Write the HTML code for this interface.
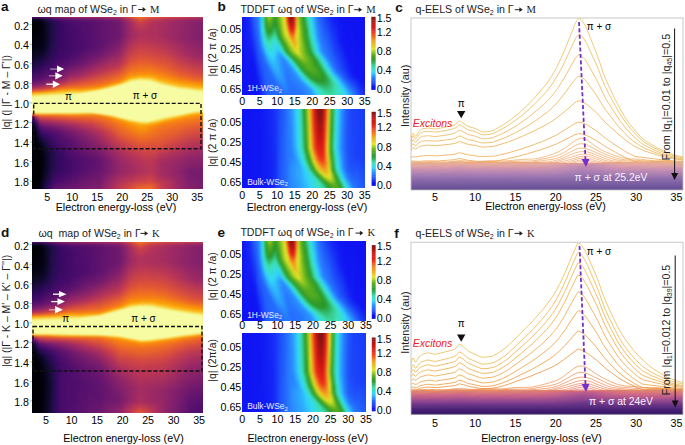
<!DOCTYPE html>
<html><head><meta charset="utf-8"><style>
html,body{margin:0;padding:0;background:#fff;width:685px;height:445px;overflow:hidden}
#w{position:relative;width:685px;height:445px;overflow:hidden;background:#fff}
.hm{position:absolute;overflow:hidden}
.hm>div{position:absolute}
.hm i{position:absolute;top:0;bottom:0;width:2.5px}
svg{position:absolute;left:0;top:0;display:block;font-family:"Liberation Sans",sans-serif}
</style></head><body><div id="w"><div class="hm" style="left:32px;top:17px;width:171px;height:172px"><div style="left:-3px;top:-3px;width:177px;height:178px;filter:blur(0.8px)"><i style="left:0px;background:linear-gradient(#6a176e 0.1%,#6a176e 1.5%,#59106e 1.8%,#3d0965 2.1%,#260c51 2.4%,#160b39 2.7%,#08051d 3.2%,#02020c 4.1%,#000004 6.3%,#02020c 18.4%,#0b0724 25.4%,#2f0a5b 32.7%,#59106e 37.8%,#82206c 40.3%,#bf3952 42.3%,#e65d2f 43.4%,#fa9207 44.2%,#fca108 44.5%,#f8cd37 45.4%,#f2e762 45.9%,#f1f27f 46.2%,#f7fca1 46.8%,#f7fca3 55.5%,#f1ec70 55.8%,#fcb418 56%,#f68013 56.3%,#e45a31 56.6%,#cb4149 56.9%,#9f2a63 57.4%,#71196e 58.3%,#450a69 59.4%,#2b0b57 60.3%,#150b37 61.1%,#0a0722 61.9%,#02020e 63.9%,#010005 65.9%,#000004 99.9%)"></i><i style="left:2px;background:linear-gradient(#6a176e 0.1%,#6a176e 1.5%,#59106e 1.8%,#3d0965 2.1%,#260c51 2.4%,#160b39 2.7%,#08051d 3.2%,#02020c 4.1%,#000004 6.3%,#02020c 18.4%,#0b0724 25.4%,#2f0a5b 32.7%,#59106e 37.8%,#82206c 40.3%,#bf3952 42.3%,#e65d2f 43.4%,#fa9207 44.2%,#fca108 44.5%,#f8cd37 45.4%,#f2e762 45.9%,#f1f27f 46.2%,#f7fca1 46.8%,#f7fca3 55.5%,#f1ec70 55.8%,#fcb418 56%,#f68013 56.3%,#e45a31 56.6%,#cb4149 56.9%,#9f2a63 57.4%,#71196e 58.3%,#450a69 59.4%,#2b0b57 60.3%,#150b37 61.1%,#0a0722 61.9%,#02020e 63.9%,#010005 65.9%,#000004 99.9%)"></i><i style="left:4px;background:linear-gradient(#6a176e 0.1%,#6a176e 1.5%,#59106e 1.8%,#3d0965 2.1%,#260c51 2.4%,#160b39 2.7%,#08051d 3.2%,#02020c 4.1%,#010005 5.5%,#02020e 16.4%,#0d0829 24.6%,#320a5e 32.2%,#59106e 37.5%,#7a1d6d 39.7%,#b93556 42%,#d74b3f 42.8%,#e9612b 43.4%,#fb9706 44.2%,#fbb61a 44.8%,#f4df53 45.6%,#f1ec70 45.9%,#f5f999 46.5%,#f7fca3 46.8%,#f7fca3 55.5%,#f1ed71 55.8%,#fbb81d 56%,#f8870e 56.3%,#e9612b 56.6%,#d24644 56.9%,#a82e5f 57.4%,#7a1d6d 58.3%,#470b6a 59.7%,#360961 60.3%,#1c0c43 61.1%,#0e092b 61.9%,#030210 64.7%,#010108 66.7%,#010106 99.9%)"></i><i style="left:6px;background:linear-gradient(#6a176e 0.1%,#6a176e 1.5%,#5a116e 1.8%,#3d0965 2.1%,#260c51 2.4%,#09061f 3.2%,#02010a 4.4%,#010005 6%,#040314 17.6%,#110a30 24.3%,#340a5f 31.3%,#57106e 36.9%,#7a1d6d 39.5%,#9b2964 40.9%,#bf3952 42%,#e45a31 43.1%,#f98c0a 44%,#fc9f07 44.2%,#f9cb35 45.1%,#f3e55d 45.6%,#f1f07a 45.9%,#f3f78f 46.2%,#f7fca3 46.8%,#f7fca3 55.5%,#f1f07a 55.8%,#fac026 56%,#fa9207 56.3%,#ef6e21 56.6%,#e05536 56.9%,#bf3952 57.4%,#88226a 58.6%,#490b6a 60.5%,#210c4a 62.2%,#110a30 64.2%,#08051d 66.7%,#010108 72.3%,#000004 92.3%,#02020c 99.9%)"></i><i style="left:8px;background:linear-gradient(#6c186e 0.1%,#6c186e 1.5%,#5a116e 1.8%,#3e0966 2.1%,#280b53 2.4%,#180c3c 2.7%,#0a0722 3.2%,#02020e 4.1%,#010106 5.5%,#030210 16.2%,#0a0722 21.8%,#1c0c43 27.4%,#340a5f 31.3%,#59106e 36.9%,#7d1e6d 39.5%,#b73557 41.7%,#dd513a 42.8%,#ee6a24 43.4%,#f98e09 44%,#fca108 44.2%,#f8cd37 45.1%,#f1f27f 45.9%,#f3f892 46.2%,#f7fca3 46.8%,#f7fca3 55.5%,#f1f27e 55.8%,#fac62d 56%,#fb9d07 56.3%,#eb6429 56.9%,#c83f4b 57.7%,#8d2369 59.4%,#4d0d6c 61.9%,#2d0b59 64.2%,#1e0c45 66.2%,#040314 72.1%,#010106 75.7%,#000004 90.9%,#02020e 99.9%)"></i><i style="left:10px;background:linear-gradient(#6c186e 0.1%,#6c186e 1.5%,#5c126e 1.8%,#3e0966 2.1%,#190c3e 2.7%,#0a0722 3.2%,#030210 4.1%,#010108 5.5%,#030210 17%,#0a0722 22.1%,#1c0c43 27.4%,#320a5e 31%,#550f6d 36.4%,#85216b 39.7%,#ba3655 41.7%,#e75e2e 43.1%,#fa9207 44%,#fca50a 44.2%,#fcb418 44.5%,#f4df53 45.4%,#f1f383 45.9%,#f7fba1 46.5%,#f7fca3 55.5%,#f1f383 55.8%,#f9cb35 56%,#fca60c 56.3%,#f98b0b 56.6%,#ec6726 57.2%,#dd513a 57.7%,#c63d4d 58.6%,#8c2369 60.8%,#540f6d 63.6%,#320a5e 66.7%,#110a30 70.6%,#040314 73.7%,#010005 77.1%,#000004 90%,#030210 95.6%,#030210 99.9%)"></i><i style="left:12px;background:linear-gradient(#6f196e 0.1%,#6f196e 1.5%,#5f136e 1.8%,#2d0b59 2.4%,#140b34 2.9%,#07051b 3.8%,#02020e 5.2%,#040314 17.8%,#0b0724 21.8%,#2f0a5b 29.9%,#59106e 36.4%,#85216b 39.5%,#bf3952 41.7%,#e25734 42.8%,#fb9706 44%,#fbb81d 44.5%,#f4e156 45.4%,#f1ed71 45.6%,#f4f999 46.2%,#f7fca3 46.5%,#f7fca3 55.5%,#f1f27f 55.8%,#f9c932 56%,#fca50a 56.3%,#f8890c 56.6%,#ec6726 57.2%,#ca404a 58.6%,#902568 60.8%,#5a116e 63.6%,#320a5e 67.6%,#150b37 71.2%,#040314 76%,#02020c 78.8%,#02020e 89.2%,#0b0724 96.8%,#0b0724 99.9%)"></i><i style="left:14px;background:linear-gradient(#751b6e 0.1%,#751b6e 1.5%,#65156e 1.8%,#4a0c6b 2.1%,#240c4f 2.7%,#0e092b 3.5%,#060419 5.2%,#050417 6.3%,#08051d 18.1%,#110a30 22.3%,#310a5c 29.1%,#5f136e 36.4%,#8d2369 39.5%,#bc3754 41.4%,#d54a41 42.3%,#e75e2e 42.8%,#f98b0b 43.7%,#fb9d07 44%,#f6d746 45.1%,#f3e55d 45.4%,#f2f68b 45.9%,#f7fca3 46.5%,#f7fca3 55.5%,#f1f27f 55.8%,#f9c72f 56%,#fca309 56.3%,#f8850f 56.6%,#ec6726 57.2%,#ce4347 58.6%,#9b2964 60.5%,#61136e 63.6%,#390963 67.6%,#1e0c45 71.2%,#0a0722 76%,#050417 79.9%,#07051b 88.6%,#180c3c 97.9%,#180c3c 99.9%)"></i><i style="left:16px;background:linear-gradient(#7c1d6d 0.1%,#7c1d6d 1.5%,#6c186e 1.8%,#510e6c 2.1%,#2d0b59 2.7%,#150b37 3.5%,#0b0724 5.2%,#0a0722 6.3%,#0c0826 17.6%,#140b34 21.5%,#340a5f 28.8%,#64156e 36.4%,#932667 39.5%,#c83f4b 41.7%,#e35933 42.6%,#fa9207 43.7%,#fca309 44%,#fac228 44.5%,#f5db4c 45.1%,#f1f27e 45.6%,#f6fb9e 46.2%,#f7fca3 46.5%,#f7fca3 55.5%,#f1f27e 55.8%,#fac62d 56%,#fca108 56.3%,#f78410 56.6%,#f2741c 56.9%,#dd513a 58%,#a62d60 60.3%,#6d186e 63.1%,#3b0964 67.8%,#1c0c43 72.9%,#0d0829 77.4%,#0a0722 80.2%,#0c0826 87.8%,#120a32 92%,#240c4f 97.6%,#240c4f 99.9%)"></i><i style="left:18px;background:linear-gradient(#801f6c 0.1%,#801f6c 1.5%,#440a68 2.4%,#290b55 2.9%,#1c0c43 3.5%,#110a30 5.5%,#120a32 17.3%,#190c3e 21.2%,#380962 28.8%,#5f136e 35.5%,#721a6e 37.2%,#932667 39.2%,#c63d4d 41.4%,#e75e2e 42.6%,#fb9706 43.7%,#fca80d 44%,#fac62d 44.5%,#f2eb6b 45.4%,#f4f996 45.9%,#f7fca1 46.2%,#f7fca3 55.5%,#f1f27e 55.8%,#fac62d 56%,#fc9f07 56.3%,#f78410 56.6%,#ec6726 57.2%,#d34743 58.6%,#a22b62 60.5%,#71196e 63.1%,#440a68 67.3%,#260c51 72.3%,#120a32 77.9%,#120a32 87.8%,#1c0c43 92.8%,#320a5e 97.9%,#320a5e 99.9%)"></i><i style="left:20px;background:linear-gradient(#87216b 0.1%,#87216b 1.5%,#5d126e 2.1%,#320a5e 2.9%,#1e0c45 4.1%,#180c3c 5.5%,#190c3e 16.7%,#230c4c 22.3%,#420a68 30.5%,#65156e 35.8%,#7a1d6d 37.5%,#9d2964 39.5%,#cb4149 41.4%,#e25734 42.3%,#fb9b06 43.7%,#fbbc21 44.2%,#f3e35a 45.1%,#f2f487 45.6%,#f7fca3 46.2%,#f7fca3 55.5%,#f1f07b 55.8%,#fac42a 56%,#fb9d07 56.3%,#f78212 56.6%,#f1731d 56.9%,#e8602d 57.4%,#cf4446 58.8%,#9f2a63 60.8%,#741a6e 63.1%,#550f6d 65.6%,#400a67 68.4%,#180c3c 78.5%,#180c3c 86.7%,#280b53 93.4%,#3e0966 97.6%,#3e0966 99.9%)"></i><i style="left:22px;background:linear-gradient(#8c2369 0.1%,#8c2369 1.5%,#520e6d 2.4%,#320a5e 3.2%,#260c51 4.1%,#1f0c48 5.5%,#210c4a 16.4%,#280b53 21.5%,#420a68 29.9%,#69166e 35.8%,#972766 38.9%,#c83f4b 41.2%,#ec6726 42.6%,#fa9008 43.4%,#fca108 43.7%,#fac228 44.2%,#f3e55d 45.1%,#f1f07a 45.4%,#f3f78f 45.6%,#f7fca3 46.2%,#f7fca3 55.5%,#f1f07a 55.8%,#fac42a 56%,#fb9b06 56.3%,#f68013 56.6%,#ed6925 57.2%,#d04545 58.8%,#a62d60 60.5%,#771c6d 63.1%,#540f6d 66.2%,#440a68 68.7%,#320a5e 73.5%,#1f0c48 78.2%,#210c4a 87.8%,#360961 94.2%,#4c0c6b 97.6%,#4c0c6b 99.9%)"></i><i style="left:24px;background:linear-gradient(#902568 0.1%,#902568 1.5%,#57106e 2.4%,#380962 3.2%,#2b0b57 4.1%,#240c4f 5.8%,#280b53 18.4%,#360961 25.1%,#4f0d6c 31.6%,#71196e 36.1%,#982766 38.6%,#c83f4b 40.9%,#e45a31 42%,#fb9706 43.4%,#fca60c 43.7%,#f4dd4f 44.8%,#f3f78f 45.6%,#f7fca3 46.2%,#f7fca3 55.5%,#f1f07a 55.8%,#fac228 56%,#fb9b06 56.3%,#f68013 56.6%,#f1711f 56.9%,#cc4248 59.1%,#9d2964 61.1%,#751b6e 63.3%,#4d0d6c 67.6%,#390963 73.7%,#260c51 79.4%,#290b55 87.8%,#400a67 94.2%,#59106e 97.9%,#59106e 99.9%)"></i><i style="left:26px;background:linear-gradient(#932667 0.1%,#932667 1.5%,#5c126e 2.4%,#380962 3.5%,#290b55 6%,#2d0b59 18.1%,#380962 24%,#4c0c6b 29.9%,#6d186e 35.3%,#9f2a63 38.6%,#cf4446 40.9%,#e9612b 42%,#fa9207 43.1%,#fc9f07 43.4%,#fbba1f 44%,#f4dd4f 44.8%,#f2e967 45.1%,#f3f892 45.6%,#f7fca3 46.2%,#f7fca3 55.5%,#f1f07a 55.8%,#fac228 56%,#fb9b06 56.3%,#f68013 56.6%,#ea632a 57.4%,#d54a41 58.8%,#b3325a 60.3%,#7d1e6d 63.1%,#65156e 65%,#4d0d6c 68.4%,#2d0b59 78.5%,#2f0a5b 87.5%,#450a69 94%,#5f136e 97.9%,#5f136e 99.9%)"></i><i style="left:28px;background:linear-gradient(#972766 0.1%,#972766 1.5%,#5f136e 2.4%,#3d0965 3.5%,#2f0a5b 6.3%,#3b0964 23.5%,#510e6c 29.9%,#751b6e 35.5%,#9a2865 38.1%,#ca404a 40.3%,#e8602d 41.7%,#fb9906 43.1%,#fca50a 43.4%,#f9c932 44.2%,#f4df53 44.8%,#f1f383 45.4%,#f7fba1 45.9%,#f7fca3 55.5%,#f1f07a 55.8%,#fac42a 56%,#fb9d07 56.3%,#f78212 56.6%,#eb6429 57.4%,#dd513a 58.6%,#bc3754 60%,#85216b 62.8%,#67166e 65.3%,#540f6d 67.8%,#310a5c 79.4%,#340a5f 88.3%,#450a69 93.4%,#61136e 97.9%,#61136e 99.9%)"></i><i style="left:30px;background:linear-gradient(#9a2865 0.1%,#9a2865 1.5%,#8d2369 1.8%,#64156e 2.4%,#470b6a 3.2%,#360961 5.2%,#380962 17%,#450a69 26%,#550f6d 29.9%,#7a1d6d 35.5%,#a02a63 38.1%,#ca404a 40%,#e75e2e 41.4%,#fa9407 42.8%,#fc9f07 43.1%,#f9cb35 44.2%,#f4e156 44.8%,#f1f383 45.4%,#f7fca3 45.9%,#f7fca3 55.5%,#f1f07b 55.8%,#fac62d 56%,#fc9f07 56.3%,#f78410 56.6%,#f3761b 56.9%,#d24644 59.1%,#ad305d 60.8%,#801f6c 63.3%,#65156e 65.9%,#540f6d 68.7%,#360961 78.5%,#340a5f 86.9%,#490b6a 93.7%,#62146e 97.9%,#62146e 99.9%)"></i><i style="left:32px;background:linear-gradient(#9d2964 0.1%,#9d2964 1.5%,#67166e 2.4%,#520e6d 2.9%,#420a68 3.8%,#380962 6.6%,#3b0964 19.2%,#470b6a 26%,#7c1d6d 35%,#9d2964 37.5%,#cf4446 40%,#ea632a 41.4%,#fb9706 42.8%,#fcae12 43.4%,#f8cf3a 44.2%,#f3e55d 44.8%,#f2f68b 45.4%,#f7fca3 45.9%,#f7fca3 55.5%,#f1f27e 55.8%,#fac62d 56%,#fca108 56.3%,#f8850f 56.6%,#f06f20 57.2%,#ce4347 59.4%,#b0315b 60.8%,#88226a 63.1%,#6c186e 65.6%,#5a116e 68.1%,#390963 79.1%,#390963 88.1%,#4d0d6c 94.2%,#64156e 97.9%,#64156e 99.9%)"></i><i style="left:34px;background:linear-gradient(#a02a63 0.1%,#a02a63 1.5%,#6a176e 2.4%,#4a0c6b 3.5%,#3b0964 6.3%,#3d0965 19.5%,#450a69 24.6%,#57106e 29.1%,#85216b 35.3%,#a92e5e 37.8%,#d44842 40%,#f06f20 41.7%,#fb9b06 42.8%,#fcb216 43.4%,#f7d340 44.2%,#f4dd4f 44.5%,#f1f27f 45.1%,#f7fca1 45.6%,#f7fca3 55.5%,#f1f27f 55.8%,#f9c72f 56%,#fca309 56.3%,#f8890c 56.6%,#f57b17 56.9%,#eb6429 57.7%,#c43c4e 60%,#902568 62.8%,#6d186e 65.9%,#59106e 69.2%,#3e0966 78.2%,#3b0964 87.2%,#4d0d6c 93.7%,#65156e 97.9%,#65156e 99.9%)"></i><i style="left:36px;background:linear-gradient(#a32c61 0.1%,#a32c61 1.5%,#6f196e 2.4%,#59106e 2.9%,#470b6a 4.1%,#400a67 5.2%,#3d0965 15.6%,#470b6a 24.6%,#5a116e 29.1%,#7a1d6d 33.3%,#9a2865 36.4%,#b1325a 37.8%,#ca404a 39.2%,#e65d2f 40.9%,#fa9407 42.6%,#fcaa0f 43.1%,#fac228 43.7%,#f4e156 44.5%,#f2f487 45.1%,#f7fca3 45.6%,#f7fca3 55.5%,#f1f27f 55.8%,#f9c72f 56%,#fca50a 56.3%,#f98b0b 56.6%,#f1731d 57.2%,#dd513a 58.8%,#bc3754 60.5%,#902568 63.1%,#6f196e 66.2%,#59106e 70.1%,#3d0965 83%,#440a68 89.7%,#67166e 97.9%,#67166e 99.9%)"></i><i style="left:38px;background:linear-gradient(#a62d60 0.1%,#a62d60 1.5%,#721a6e 2.4%,#5c126e 2.9%,#4a0c6b 4.1%,#440a68 5.2%,#400a67 19.5%,#490b6a 24.6%,#540f6d 27.7%,#721a6e 31.6%,#902568 35%,#b3325a 37.5%,#e55c30 40.6%,#f37819 41.7%,#fb9706 42.6%,#fca309 42.8%,#f8cf3a 44%,#f3e55d 44.5%,#f2f68b 45.1%,#f7fca3 45.6%,#f7fca3 55.5%,#f1f27f 55.8%,#f9c932 56%,#fca60c 56.3%,#f98c0a 56.6%,#f67e14 56.9%,#d94d3d 59.1%,#b43359 61.1%,#932667 63.1%,#71196e 66.4%,#5c126e 70.1%,#420a68 81.6%,#440a68 88.6%,#550f6d 94.5%,#67166e 97.6%,#67166e 99.9%)"></i><i style="left:40px;background:linear-gradient(#a82e5f 0.1%,#a82e5f 1.5%,#751b6e 2.4%,#5f136e 2.9%,#4d0d6c 4.1%,#470b6a 5.2%,#420a68 19.8%,#4a0c6b 24.6%,#69166e 29.9%,#8c2369 33.8%,#b63458 37.2%,#e45a31 40.3%,#f1731d 41.4%,#fb9b06 42.6%,#fbbe23 43.4%,#f7d340 44%,#f1f27f 44.8%,#f7fba1 45.4%,#f7fca3 55.5%,#f1f383 55.8%,#f9cb35 56%,#fca80d 56.3%,#f98e09 56.6%,#f1711f 57.4%,#d24644 59.7%,#b3325a 61.4%,#932667 63.3%,#71196e 67%,#5a116e 71.2%,#440a68 82.7%,#490b6a 89.5%,#69166e 97.6%,#69166e 99.9%)"></i><i style="left:42px;background:linear-gradient(#a92e5e 0.1%,#a92e5e 1.5%,#751b6e 2.4%,#61136e 2.9%,#4f0d6c 4.1%,#490b6a 5.2%,#450a69 20.9%,#5c126e 27.9%,#87216b 33%,#b0315b 36.7%,#ca404a 38.3%,#e9612b 40.6%,#f2741c 41.4%,#fb9b06 42.6%,#f9c72f 43.7%,#f4dd4f 44.2%,#f1f383 44.8%,#f7fca3 45.4%,#f7fca3 55.5%,#f1f383 55.8%,#f9cb35 56%,#fcaa0f 56.3%,#fa9008 56.6%,#ef6c23 57.7%,#ce4347 60%,#932667 63.6%,#781c6d 66.4%,#5d126e 71.2%,#450a69 84.1%,#4d0d6c 90.3%,#6a176e 97.6%,#6a176e 99.9%)"></i><i style="left:44px;background:linear-gradient(#a92e5e 0.1%,#a92e5e 1.5%,#6a176e 2.7%,#520e6d 3.8%,#4c0c6b 4.6%,#450a69 8.8%,#470b6a 20.6%,#5d126e 27.7%,#8f2469 33.6%,#b3325a 36.7%,#e35933 40%,#f3761b 41.4%,#fb9b06 42.6%,#fcb014 43.1%,#fac62d 43.7%,#f4dd4f 44.2%,#f5fa9c 45.1%,#f7fca3 45.4%,#f7fca3 55.5%,#f1f27e 55.8%,#f9c72f 56%,#fca60c 56.3%,#f98e09 56.6%,#ef6c23 57.7%,#d44842 59.7%,#9b2964 63.3%,#7a1d6d 66.7%,#61136e 71.5%,#490b6a 83%,#4d0d6c 89.5%,#6c186e 97.6%,#6c186e 99.9%)"></i><i style="left:46px;background:linear-gradient(#ab2f5e 0.1%,#ab2f5e 1.5%,#781c6d 2.4%,#5c126e 3.2%,#4c0c6b 4.9%,#490b6a 20.6%,#57106e 25.7%,#67166e 28.5%,#922568 33.6%,#b63458 36.7%,#ed6925 40.9%,#fb9b06 42.6%,#fbba1f 43.4%,#f7d13d 44%,#f4dd4f 44.2%,#f2f68b 44.8%,#f7fba1 45.1%,#f7fca3 55.5%,#f1f07a 55.8%,#fac228 56%,#fca309 56.3%,#f98c0a 56.6%,#f47918 57.2%,#df5337 59.1%,#c83f4b 60.5%,#a62d60 62.8%,#801f6c 66.4%,#6d186e 69.5%,#4c0c6b 82.2%,#4c0c6b 87.5%,#5a116e 93.4%,#6d186e 97.6%,#6d186e 99.9%)"></i><i style="left:48px;background:linear-gradient(#ab2f5e 0.1%,#ab2f5e 1.5%,#781c6d 2.4%,#64156e 2.9%,#4d0d6c 4.9%,#4a0c6b 20.4%,#6a176e 28.5%,#922568 33.3%,#b1325a 36.1%,#e9612b 40.3%,#f67e14 41.7%,#fb9906 42.6%,#fcae12 43.1%,#fac42a 43.7%,#f4df53 44.2%,#f3f892 44.8%,#f7fca3 45.1%,#f7fca3 55.5%,#f1ee75 55.8%,#fbbe23 56%,#fc9f07 56.3%,#f68013 56.9%,#db503b 59.4%,#a62d60 63.1%,#82206c 66.7%,#6d186e 70.4%,#4d0d6c 82.4%,#510e6c 88.9%,#71196e 97.9%,#71196e 99.9%)"></i><i style="left:50px;background:linear-gradient(#ad305d 0.1%,#ad305d 1.5%,#7a1d6d 2.4%,#65156e 2.9%,#4f0d6c 4.9%,#4a0c6b 19.2%,#540f6d 23.2%,#6d186e 28.5%,#8d2369 32.4%,#b43359 36.1%,#dd513a 38.9%,#eb6628 40.6%,#fb9906 42.6%,#fcac11 43.1%,#fac42a 43.7%,#f4e156 44.2%,#f4f999 44.8%,#f7fca3 45.1%,#f7fca3 55.5%,#f1ed70 55.8%,#fbb81d 56%,#fb9d07 56.3%,#f68013 56.9%,#dd513a 59.4%,#c83f4b 60.8%,#a62d60 63.3%,#8a226a 66.2%,#751b6e 69.5%,#4f0d6c 82.4%,#520e6d 88.6%,#71196e 97.3%,#721a6e 99.9%)"></i><i style="left:52px;background:linear-gradient(#ad305d 0.1%,#ad305d 1.5%,#7a1d6d 2.4%,#67166e 2.9%,#550f6d 4.1%,#4f0d6c 5.2%,#4c0c6b 19%,#6c186e 27.7%,#8f2469 32.2%,#ae305c 35.3%,#dd513a 38.6%,#eb6429 40.3%,#fb9b06 42.6%,#fbbc21 43.4%,#f5db4c 44%,#f3f892 44.5%,#f7fca3 44.8%,#f7fca3 55.5%,#f2eb6b 55.8%,#fcb418 56%,#fb9906 56.3%,#f67e14 56.9%,#de5238 59.4%,#b1325a 62.8%,#902568 65.9%,#7f1e6c 68.4%,#520e6d 81.6%,#520e6d 87.2%,#741a6e 97.9%,#741a6e 99.9%)"></i><i style="left:54px;background:linear-gradient(#ae305c 0.1%,#ae305c 1.5%,#7c1d6d 2.4%,#67166e 2.9%,#540f6d 4.4%,#4d0d6c 18.7%,#5a116e 23.2%,#751b6e 28.5%,#b3325a 35.3%,#d74b3f 37.8%,#ea632a 40%,#f3761b 41.2%,#fb9606 42.3%,#fca80d 42.8%,#fac42a 43.4%,#f3e55d 44%,#f2f68b 44.2%,#f7fca3 44.5%,#f7fca3 55.5%,#f2e966 55.8%,#fcae12 56%,#fb9606 56.3%,#f37819 57.2%,#df5337 59.4%,#b1325a 63.1%,#8d2369 66.7%,#7d1e6d 69.5%,#540f6d 81.9%,#550f6d 87.8%,#751b6e 97.6%,#751b6e 99.9%)"></i><i style="left:56px;background:linear-gradient(#ae305c 0.1%,#ae305c 1.5%,#71196e 2.7%,#5d126e 3.5%,#540f6d 4.6%,#4f0d6c 18.4%,#741a6e 27.7%,#9a2865 32.4%,#b73557 35.3%,#dd513a 38.1%,#ed6925 40.3%,#fb9906 42.3%,#fcae12 42.8%,#f9cb35 43.4%,#f4dd4f 43.7%,#f7fba1 44.2%,#f7fca3 55.5%,#f2e661 55.8%,#fcaa0f 56%,#fa9207 56.3%,#f57d15 56.9%,#dd513a 59.7%,#b0315b 63.6%,#84206b 69%,#550f6d 81.9%,#57106e 87.5%,#771c6d 97.6%,#771c6d 99.9%)"></i><i style="left:58px;background:linear-gradient(#b0315b 0.1%,#b0315b 1.5%,#7d1e6d 2.4%,#6a176e 2.9%,#540f6d 4.9%,#520e6d 19%,#62146e 23.7%,#7a1d6d 27.9%,#9b2964 32.2%,#bc3754 35.3%,#d94d3d 37.5%,#ec6726 40%,#f57d15 41.2%,#fb9d07 42.3%,#fcb418 42.8%,#fac42a 43.1%,#f6d543 43.4%,#f2e966 43.7%,#f4f999 44%,#f7fca3 44.2%,#f7fca3 55.5%,#f3e55d 55.8%,#fca50a 56%,#fa9008 56.3%,#f57d15 56.9%,#e45a31 59.1%,#ce4347 61.1%,#b0315b 63.9%,#952667 66.7%,#85216b 69.5%,#57106e 82.2%,#5a116e 88.1%,#781c6d 97.6%,#781c6d 99.9%)"></i><i style="left:60px;background:linear-gradient(#b0315b 0.1%,#b0315b 1.5%,#7f1e6c 2.4%,#6a176e 2.9%,#5c126e 3.8%,#550f6d 4.9%,#540f6d 18.4%,#6c186e 25.1%,#922568 30.5%,#bd3853 35%,#db503b 37.5%,#eb6628 39.7%,#f47918 40.9%,#fb9706 42%,#fcae12 42.6%,#f9cb35 43.1%,#f4df53 43.4%,#f3f78f 43.7%,#f7fca3 44%,#f7fca3 55.5%,#f3e35a 55.8%,#fca108 56%,#f78212 56.6%,#f37819 57.2%,#d94d3d 60.3%,#b63458 63.6%,#8c2369 69%,#59106e 82.2%,#5c126e 87.8%,#7a1d6d 97.3%,#7a1d6d 99.9%)"></i><i style="left:62px;background:linear-gradient(#b0315b 0.1%,#b0315b 1.5%,#7f1e6c 2.4%,#6c186e 2.9%,#5d126e 3.8%,#57106e 4.9%,#57106e 19%,#71196e 25.4%,#982766 30.8%,#bf3952 34.7%,#eb6429 39.5%,#f57d15 40.9%,#fb9b06 42%,#fcb418 42.6%,#f6d543 43.1%,#f1f07a 43.4%,#f7fca3 43.7%,#f7fca3 55.5%,#f4e156 55.8%,#fb9b06 56%,#f68013 56.6%,#e35933 59.4%,#ca404a 61.9%,#b1325a 64.5%,#932667 68.1%,#5a116e 82.4%,#5f136e 88.3%,#7c1d6d 97.3%,#7c1d6d 99.9%)"></i><i style="left:64px;background:linear-gradient(#b1325a 0.1%,#b1325a 1.5%,#751b6e 2.7%,#62146e 3.5%,#5a116e 4.4%,#59106e 18.7%,#721a6e 25.1%,#982766 30.2%,#bc3754 34.1%,#e8602d 38.9%,#f47918 40.6%,#fb9606 41.7%,#fcac11 42.3%,#f9cb35 42.8%,#f2e762 43.1%,#f7fca3 43.4%,#f7fca3 55.8%,#fbb81d 56%,#f98b0b 56.3%,#f57d15 56.9%,#de5238 60.3%,#bc3754 63.9%,#972766 68.4%,#5d126e 81.9%,#61136e 88.1%,#7d1e6d 97.3%,#7d1e6d 99.9%)"></i><i style="left:66px;background:linear-gradient(#b1325a 0.1%,#b1325a 1.5%,#82206c 2.4%,#6d186e 2.9%,#5a116e 4.6%,#5c126e 19.2%,#741a6e 24.9%,#9f2a63 30.5%,#c03a51 34.1%,#ed6925 39.5%,#f57d15 40.6%,#fb9b06 41.7%,#fca50a 42%,#fac42a 42.6%,#f4dd4f 42.8%,#f7fba1 43.1%,#f7fca3 55.8%,#f3e35a 56%,#fb9606 56.3%,#f78410 56.6%,#f57d15 56.9%,#de5238 60.5%,#b93556 64.7%,#9a2865 68.7%,#61136e 81.3%,#62146e 87.8%,#7f1e6c 97.3%,#7f1e6c 99.9%)"></i><i style="left:68px;background:linear-gradient(#b3325a 0.1%,#b3325a 1.5%,#82206c 2.4%,#6f196e 2.9%,#5c126e 4.6%,#5c126e 17.8%,#6f196e 23.7%,#b93556 33%,#eb6429 38.9%,#f47918 40.3%,#fb9606 41.4%,#fc9f07 41.7%,#fbbc21 42.3%,#f6d543 42.6%,#f4f999 42.8%,#f7fca3 43.1%,#f7fca3 56%,#fbb61a 56.3%,#f78410 56.6%,#ef6c23 58.8%,#da4e3c 61.4%,#b63458 65.6%,#9d2964 69%,#61136e 82.4%,#67166e 89.5%,#82206c 99.9%)"></i><i style="left:70px;background:linear-gradient(#b43359 0.1%,#b43359 1.5%,#84206b 2.4%,#71196e 2.9%,#5d126e 4.6%,#5f136e 18.4%,#721a6e 23.7%,#a32c61 29.9%,#bd3853 33%,#e8602d 38.3%,#f57d15 40.3%,#fb9906 41.4%,#fcb418 42%,#f9cb35 42.3%,#f3f78f 42.6%,#f7fca3 42.8%,#f7fca3 56%,#f3e55d 56.3%,#fa9008 56.6%,#f57d15 56.9%,#f2741c 58.3%,#e15635 60.8%,#b63458 66.2%,#9d2964 70.1%,#64156e 81.9%,#67166e 88.3%,#84206b 99.9%)"></i><i style="left:72px;background:linear-gradient(#b43359 0.1%,#b43359 1.5%,#7a1d6d 2.7%,#6c186e 3.2%,#61136e 4.4%,#61136e 17.6%,#771c6d 23.7%,#bc3754 32.4%,#ee6a24 38.9%,#f57d15 40%,#fb9906 41.2%,#fbb61a 41.7%,#f9cb35 42%,#f1f383 42.3%,#f7fca3 42.6%,#f7fca3 56.3%,#fbbe23 56.6%,#f8870e 56.9%,#e25734 61.1%,#b73557 66.7%,#84206b 76.3%,#69166e 82.2%,#6d186e 89.2%,#8a226a 97.9%,#8a226a 99.9%)"></i><i style="left:74px;background:linear-gradient(#b63458 0.1%,#b63458 1.5%,#87216b 2.4%,#741a6e 2.9%,#61136e 4.9%,#64156e 17.8%,#7c1d6d 23.7%,#a92e5e 29.9%,#c43c4e 33%,#f06f20 38.9%,#f78212 40%,#fb9906 40.9%,#fca60c 41.2%,#f9c932 41.7%,#f1f07a 42%,#f7fca3 42.3%,#f7fca3 56.3%,#f1f07a 56.6%,#fca309 56.9%,#f98b0b 57.2%,#f67e14 57.7%,#e55c30 61.1%,#b3325a 68.1%,#7c1d6d 78.5%,#6c186e 83.8%,#721a6e 89.2%,#902568 97.9%,#902568 99.9%)"></i><i style="left:76px;background:linear-gradient(#b73557 0.1%,#b73557 1.5%,#88226a 2.4%,#771c6d 2.9%,#64156e 4.6%,#64156e 16.2%,#7f1e6c 23.5%,#a52c60 28.8%,#c33b4f 32.4%,#f06f20 38.6%,#f78212 39.7%,#fb9906 40.6%,#fca60c 40.9%,#f9c932 41.4%,#f1ed71 41.7%,#f7fca3 42%,#f7fca3 56.6%,#f8cd37 56.9%,#fb9706 57.2%,#f78410 57.7%,#e8602d 61.1%,#c63d4d 66.4%,#a22b62 72.6%,#721a6e 82.7%,#771c6d 89.2%,#922568 96.5%,#972766 99.9%)"></i><i style="left:78px;background:linear-gradient(#b93556 0.1%,#b93556 1.5%,#8c2369 2.4%,#781c6d 2.9%,#65156e 4.6%,#65156e 15.6%,#751b6e 20.9%,#9b2964 26.8%,#bf3952 31.6%,#ec6726 37.5%,#f57d15 39.2%,#fb9906 40.3%,#fca60c 40.6%,#f9cb35 41.2%,#f2eb6b 41.4%,#f7fca3 41.7%,#f7fca3 56.6%,#f2f68b 56.9%,#fcb418 57.2%,#fb9906 57.4%,#f68013 58.3%,#e9612b 61.4%,#c73e4c 67%,#a82e5f 72.3%,#781c6d 82.2%,#7a1d6d 88.6%,#9a2865 96.8%,#9d2964 99.9%)"></i><i style="left:80px;background:linear-gradient(#ba3655 0.1%,#ba3655 1.5%,#82206c 2.7%,#741a6e 3.2%,#69166e 4.4%,#67166e 15%,#7d1e6d 21.8%,#bd3853 31%,#ee6a24 37.5%,#f78212 39.2%,#fb9906 40%,#fca60c 40.3%,#f9cb35 40.9%,#f2e762 41.2%,#f7fca3 41.4%,#f7fca3 56.9%,#f5db4c 57.2%,#fcaa0f 57.4%,#fb9906 57.7%,#f8850f 58.3%,#ef6e21 60.5%,#cc4248 67%,#a22b62 74.6%,#7d1e6d 82.4%,#7f1e6c 88.6%,#a02a63 96.8%,#a32c61 99.9%)"></i><i style="left:82px;background:linear-gradient(#bc3754 0.1%,#bc3754 1.5%,#84206b 2.7%,#6f196e 3.8%,#67166e 5.8%,#69166e 14.5%,#7f1e6c 21.2%,#bf3952 30.8%,#ed6925 36.9%,#f47918 38.3%,#fb9b06 39.7%,#fca80d 40%,#f8cd37 40.6%,#f2e967 40.9%,#f7fca3 41.2%,#f7fca3 57.2%,#f5d949 57.4%,#fcae12 57.7%,#fb9b06 58%,#f8870e 58.6%,#ee6a24 61.4%,#cf4446 67.6%,#a32c61 75.1%,#82206c 82.7%,#84206b 88.9%,#a62d60 96.8%,#a92e5e 99.9%)"></i><i style="left:84px;background:linear-gradient(#bd3853 0.1%,#bd3853 1.5%,#85216b 2.7%,#71196e 3.8%,#69166e 6.3%,#6a176e 13.9%,#801f6c 20.6%,#a62d60 27.1%,#c03a51 30.5%,#df5337 34.1%,#f3761b 37.8%,#f8890c 38.9%,#fb9b06 39.5%,#fca80d 39.7%,#f8cf3a 40.3%,#f2e967 40.6%,#f7fca3 40.9%,#f7fca3 57.4%,#f6d746 57.7%,#fcb418 58%,#fc9f07 58.3%,#f8890c 58.8%,#f47918 60.3%,#d24644 68.1%,#a62d60 75.7%,#87216b 83.3%,#87216b 88.3%,#ae305c 97.1%,#b0315b 99.9%)"></i><i style="left:86px;background:linear-gradient(#bf3952 0.1%,#bf3952 1.5%,#87216b 2.7%,#721a6e 3.8%,#6c186e 5.2%,#6c186e 13.6%,#82206c 20.1%,#a92e5e 27.1%,#c13a50 30.2%,#f1711f 36.9%,#f78410 38.3%,#fb9b06 39.2%,#fbbc21 39.7%,#f7d13d 40%,#f2eb6c 40.3%,#f7fca3 40.6%,#f7fca3 57.4%,#f6fb9e 57.7%,#f6d746 58%,#fbb81d 58.3%,#fca309 58.6%,#fa9207 58.8%,#f78410 59.7%,#ef6e21 62.2%,#ca404a 70.4%,#9b2964 78.5%,#8c2369 83.6%,#8c2369 88.6%,#b43359 97.1%,#b63458 99.9%)"></i><i style="left:88px;background:linear-gradient(#c03a51 0.1%,#c03a51 1.5%,#88226a 2.7%,#721a6e 4.1%,#6d186e 13.1%,#84206b 19.5%,#a62d60 26%,#c03a51 29.6%,#de5238 33.3%,#f1731d 36.7%,#f68013 37.8%,#fb9b06 38.9%,#fbbe23 39.5%,#f7d340 39.7%,#f1ed70 40%,#f7fca3 40.3%,#f7fca3 57.7%,#f4f996 58%,#f5d949 58.3%,#fbbc21 58.6%,#fca50a 58.8%,#fa9407 59.1%,#f78212 60.3%,#f1731d 62.2%,#e05536 67.6%,#c73e4c 71.8%,#a32c61 77.9%,#902568 83.8%,#902568 88.9%,#bc3754 97.6%,#bc3754 99.9%)"></i><i style="left:90px;background:linear-gradient(#c13a50 0.1%,#c13a50 1.5%,#8c2369 2.7%,#771c6d 3.8%,#6f196e 5.8%,#6f196e 12.8%,#9b2964 23.2%,#c13a50 29.4%,#e55c30 33.8%,#f3761b 36.7%,#f98b0b 38.1%,#fb9d07 38.6%,#fcac11 38.9%,#f6d543 39.5%,#f1ee75 39.7%,#f7fba1 40%,#f7fca3 40.3%,#f7fca3 58%,#f3f892 58.3%,#f4dd4f 58.6%,#fbbe23 58.8%,#fca60c 59.1%,#fb9606 59.4%,#f57d15 61.4%,#e25734 68.1%,#cb4149 72.1%,#a32c61 79.1%,#952667 84.4%,#952667 89.2%,#c33b4f 97.9%,#c33b4f 99.9%)"></i><i style="left:92px;background:linear-gradient(#c83f4b 0.1%,#c83f4b 1.5%,#952667 2.7%,#7f1e6c 4.1%,#781c6d 12.8%,#a62d60 23.5%,#c83f4b 29.1%,#f47918 36.1%,#fb9d07 38.1%,#fca80d 38.3%,#f9cb35 38.9%,#f4e156 39.2%,#f2f488 39.5%,#f7fca3 39.7%,#f7fca3 58.3%,#f2f68b 58.6%,#f5d949 58.8%,#fbbe23 59.1%,#fca60c 59.4%,#fb9906 59.7%,#f78410 61.1%,#f3761b 63.1%,#e25734 68.7%,#cb4149 72.6%,#a32c61 79.9%,#972766 85.3%,#9a2865 89.7%,#c73e4c 97.9%,#c73e4c 99.9%)"></i><i style="left:94px;background:linear-gradient(#cf4446 0.1%,#cf4446 1.5%,#a82e5f 2.4%,#8c2369 3.8%,#82206c 6%,#801f6c 11.9%,#932667 17.8%,#c63d4d 27.4%,#ee6a24 33.8%,#f98b0b 36.7%,#fb9706 37.2%,#fca80d 37.8%,#fac62d 38.3%,#f6d746 38.6%,#f5f999 39.2%,#f7fca3 39.5%,#f7fca3 58.6%,#f1f383 58.8%,#f6d746 59.1%,#fbbe23 59.4%,#fca80d 59.7%,#fb9b06 60%,#f68013 62.2%,#e35933 69%,#d24644 72.1%,#ad305d 78.5%,#9a2865 84.7%,#9b2964 89.5%,#cc4248 98.2%,#cc4248 99.9%)"></i><i style="left:96px;background:linear-gradient(#d54a41 0.1%,#d54a41 1.5%,#a92e5e 2.7%,#952667 3.8%,#8c2369 6%,#8a226a 12.5%,#a92e5e 20.4%,#d04545 27.7%,#ef6e21 33.3%,#fb9906 36.7%,#fcaa0f 37.2%,#fac228 37.8%,#f3e35a 38.3%,#f1f383 38.6%,#f7fba1 38.9%,#f7fca3 39.2%,#f7fca3 58.8%,#f1f27e 59.1%,#f6d746 59.4%,#fbbe23 59.7%,#fcaa0f 60%,#fb9706 60.5%,#f57d15 63.3%,#e45a31 69.2%,#cb4149 73.7%,#a62d60 80.8%,#9b2964 85.5%,#a02a63 90%,#c73e4c 96.2%,#d04545 99.9%)"></i><i style="left:98px;background:linear-gradient(#db503b 0.1%,#db503b 1.5%,#b1325a 2.7%,#9f2a63 3.8%,#952667 5.8%,#922568 11.1%,#982766 14.5%,#cf4446 26%,#eb6429 31.3%,#f67e14 34.1%,#fb9b06 36.1%,#fcac11 36.7%,#f8cd37 37.5%,#f4dd4f 37.8%,#f3f892 38.3%,#f7fca3 38.6%,#f7fca3 59.1%,#f1ee76 59.4%,#f6d543 59.7%,#fbbe23 60%,#fcac11 60.3%,#fb9b06 60.8%,#f47918 64.5%,#d24644 73.2%,#ae305c 79.6%,#9f2a63 85%,#a22b62 89.7%,#cf4446 96.8%,#d44842 99.9%)"></i><i style="left:100px;background:linear-gradient(#e15635 0.1%,#e15635 1.5%,#ba3655 2.7%,#a52c60 4.1%,#9d2964 6.3%,#9b2964 12.5%,#bf3952 20.9%,#da4e3c 26.5%,#f06f20 31.6%,#fb9906 35.3%,#fca50a 35.8%,#fac228 36.7%,#f5d949 37.2%,#f5fa9c 38.1%,#f7fca3 38.3%,#f7fca3 59.1%,#f7fba1 59.4%,#f1ed71 59.7%,#f6d543 60%,#fbbe23 60.3%,#fca50a 60.8%,#fb9906 61.4%,#f37819 65.3%,#e65d2f 69.8%,#cb4149 74.9%,#ad305d 80.8%,#a02a63 85.8%,#a32c61 89.5%,#b43359 92.8%,#d34743 96.8%,#d84c3e 99.9%)"></i><i style="left:102px;background:linear-gradient(#e75e2e 0.1%,#e75e2e 1.5%,#cc4248 2.4%,#b0315b 4.1%,#a32c61 7.4%,#a02a63 12.8%,#bc3754 19.5%,#de5238 26.8%,#f3761b 32.2%,#fb9d07 35.3%,#fcaa0f 35.8%,#f9c932 36.7%,#f4e156 37.2%,#f3f893 37.8%,#f7fca3 38.1%,#f7fca3 59.4%,#f3f893 59.7%,#f3e55d 60%,#f8cd37 60.3%,#fbbc21 60.5%,#fcac11 60.8%,#fb9b06 61.7%,#f47918 65.6%,#e8602d 69.8%,#cc4248 75.1%,#b0315b 80.8%,#a22b62 86.7%,#a82e5f 90%,#bd3853 93.7%,#d94d3d 97.1%,#dd513a 99.9%)"></i><i style="left:104px;background:linear-gradient(#ec6726 0.1%,#ec6726 1.5%,#cf4446 2.7%,#b73557 4.4%,#a82e5f 8.3%,#a32c61 12.2%,#d74b3f 24.9%,#f1711f 31.3%,#fb9906 35%,#fcb014 35.8%,#fac62d 36.4%,#f4dd4f 36.9%,#f2f68b 37.5%,#f7fba1 37.8%,#f7fca3 38.1%,#f7fca3 59.7%,#f1f383 60%,#f4dd4f 60.3%,#fbb81d 60.8%,#fca60c 61.4%,#fb9d07 61.9%,#f57b17 65.9%,#e25734 71.5%,#c63d4d 76.8%,#b1325a 81%,#a52c60 86.1%,#a62d60 88.9%,#c03a51 93.7%,#df5337 97.3%,#e05536 99.9%)"></i><i style="left:106px;background:linear-gradient(#f1711f 0.1%,#f1711f 1.5%,#de5238 2.4%,#d24644 2.9%,#c03a51 4.4%,#a92e5e 10%,#a92e5e 13.3%,#da4e3c 25.1%,#f2741c 31.6%,#f78410 33.3%,#fb9d07 35%,#fcac11 35.5%,#f9cb35 36.4%,#f3e55d 36.9%,#f4f999 37.5%,#f7fca3 37.8%,#f7fca3 59.7%,#f5fa9c 60%,#f5d949 60.5%,#fac62d 60.8%,#fbb81d 61.1%,#fca80d 61.7%,#fb9b06 62.5%,#f3761b 67.3%,#de5238 72.9%,#b43359 81%,#a82e5f 88.6%,#c33b4f 93.7%,#e35933 97.3%,#e45a31 99.9%)"></i><i style="left:108px;background:linear-gradient(#f57b17 0.1%,#f57b17 1.5%,#df5337 2.7%,#c43c4e 4.9%,#ab2f5e 11.4%,#b93556 16.2%,#df5337 25.7%,#f3761b 31.6%,#fb9b06 34.7%,#fcaa0f 35.3%,#f9c72f 36.1%,#f4e156 36.7%,#f3f892 37.2%,#f7fca3 37.5%,#f7fca3 60%,#f3f78f 60.3%,#f2e661 60.5%,#f7d340 60.8%,#fac42a 61.1%,#fcaa0f 61.9%,#fb9b06 63.1%,#f3761b 67.6%,#e05536 72.9%,#ca404a 77.1%,#b3325a 82.2%,#ab2f5e 88.9%,#c63d4d 93.7%,#e8602d 97.6%,#e8602d 99.9%)"></i><i style="left:110px;background:linear-gradient(#f8850f 0.1%,#f8850f 1.5%,#e15635 2.9%,#ce4347 4.6%,#b43359 9.1%,#b0315b 12.5%,#cb4149 20.1%,#e35933 26.3%,#f37819 31.6%,#fc9f07 34.7%,#fac42a 35.8%,#f4dd4f 36.4%,#f6fb9e 37.2%,#f7fca3 37.5%,#f7fca3 60.3%,#f1f383 60.5%,#f4e156 60.8%,#fac228 61.4%,#fcac11 62.2%,#fb9d07 63.3%,#fa9207 64.7%,#e15635 73.2%,#cc4248 77.1%,#b63458 82.2%,#ab2f5e 86.9%,#ae305c 89.2%,#cc4248 94.2%,#eb6429 97.6%,#eb6628 99.9%)"></i><i style="left:112px;background:linear-gradient(#f67e14 0.1%,#f67e14 1.5%,#dd513a 2.9%,#c63d4d 5.2%,#b0315b 10.5%,#b73557 15%,#d44842 22.6%,#e75e2e 27.4%,#f57d15 32.2%,#fb9906 34.4%,#fca60c 35%,#fac228 35.8%,#f5d949 36.4%,#f4f999 37.2%,#f7fca3 37.5%,#f7fca3 60.3%,#f2f68b 60.5%,#f2e661 60.8%,#f6d543 61.1%,#fac62d 61.4%,#fcaa0f 62.2%,#fb9b06 63.3%,#e35933 72.6%,#cc4248 77.4%,#b63458 82.7%,#ae305c 88.6%,#ce4347 94.2%,#ec6726 97.9%,#ec6726 99.9%)"></i><i style="left:114px;background:linear-gradient(#f47918 0.1%,#f47918 1.5%,#de5238 2.7%,#c73e4c 4.4%,#ae305c 10.8%,#b63458 14.7%,#d24644 22.1%,#e75e2e 27.4%,#f57d15 32.2%,#fb9906 34.4%,#fcae12 35.3%,#f9cb35 36.1%,#f3e35a 36.7%,#f3f892 37.2%,#f7fca3 37.5%,#f7fca3 60.3%,#f4f996 60.5%,#f5d949 61.1%,#fbbc21 61.7%,#fcaa0f 62.2%,#fb9d07 63.1%,#f1731d 68.7%,#da4e3c 74.6%,#b73557 83%,#b3325a 89.5%,#cf4446 94.2%,#ed6925 97.9%,#ee6a24 99.9%)"></i><i style="left:116px;background:linear-gradient(#f1731d 0.1%,#f1731d 1.5%,#d94d3d 2.7%,#c33b4f 4.4%,#b0315b 9.4%,#b0315b 13.3%,#e15635 26%,#f57b17 31.9%,#fb9906 34.4%,#fcae12 35.3%,#f9c932 36.1%,#f4e156 36.7%,#f7fca1 37.5%,#f7fca3 37.8%,#f7fca3 60.3%,#f5fa9c 60.5%,#f4df53 61.1%,#fac026 61.7%,#fcaa0f 62.2%,#fb9b06 63.1%,#f2741c 68.4%,#da4e3c 74.6%,#b73557 83.8%,#b3325a 88.6%,#bf3952 91.4%,#d74b3f 95.1%,#ef6c23 98.2%,#ef6c23 99.9%)"></i><i style="left:118px;background:linear-gradient(#ef6c23 0.1%,#ef6c23 1.5%,#d44842 2.7%,#c03a51 4.1%,#ae305c 9.4%,#b1325a 13.9%,#ce4347 21.2%,#e55c30 27.1%,#f68013 32.4%,#fb9906 34.4%,#fcac11 35.3%,#f9c72f 36.1%,#f4dd4f 36.7%,#f5fa9c 37.5%,#f7fca3 37.8%,#f7fca3 60.3%,#f3f892 60.5%,#f5d949 61.1%,#f9c932 61.4%,#fca60c 62.2%,#fb9b06 62.8%,#f98e09 63.9%,#e35933 72.3%,#cb4149 77.7%,#ba3655 83.3%,#b43359 88.1%,#c33b4f 91.7%,#d74b3f 94.8%,#ef6c23 97.9%,#ef6e21 99.9%)"></i><i style="left:120px;background:linear-gradient(#ec6726 0.1%,#ec6726 1.5%,#d54a41 2.4%,#c83f4b 2.9%,#b63458 4.9%,#ad305d 9.4%,#b0315b 13.6%,#d24644 22.3%,#e55c30 27.1%,#f68013 32.4%,#fb9906 34.4%,#fcac11 35.3%,#f9c72f 36.1%,#f5db4c 36.7%,#f4f996 37.5%,#f7fca3 37.8%,#f7fca3 60%,#f3f893 60.3%,#f1ed70 60.5%,#f5db4c 60.8%,#fbbc21 61.4%,#fca50a 61.9%,#fb9906 62.5%,#f8850f 64.5%,#ed6925 69.5%,#d74b3f 74.9%,#bc3754 83.3%,#b73557 88.3%,#c13a50 90.9%,#da4e3c 94.8%,#f06f20 97.9%,#f06f20 99.9%)"></i><i style="left:122px;background:linear-gradient(#ea632a 0.1%,#ea632a 1.5%,#ca404a 2.7%,#b3325a 4.6%,#ab2f5e 9.1%,#ae305c 13.6%,#df5337 26%,#f37819 31.6%,#fb9906 34.7%,#fcac11 35.5%,#fac62d 36.4%,#f5d949 36.9%,#f7fba1 38.1%,#f7fca3 38.3%,#f7fca3 59.7%,#f4f996 60%,#f4dd4f 60.5%,#fac026 61.1%,#fca60c 61.7%,#fb9906 62.2%,#f8870e 63.6%,#e25734 72.1%,#bc3754 81.9%,#b43359 88.3%,#cf4446 94%,#e9612b 97.3%,#ea632a 99.9%)"></i><i style="left:124px;background:linear-gradient(#e8602d 0.1%,#e8602d 1.5%,#cf4446 2.4%,#c33b4f 2.9%,#b0315b 5.2%,#b0315b 14.5%,#cf4446 22.3%,#e45a31 27.7%,#f68013 33%,#fb9d07 35.3%,#fcb216 36.1%,#f9cb35 36.9%,#f4df53 37.5%,#f5fa9c 38.3%,#f7fca3 38.6%,#f7fca3 59.4%,#f4f996 59.7%,#f4df53 60.3%,#fac228 60.8%,#fca80d 61.4%,#fb9906 61.9%,#f8850f 63.3%,#e45a31 71.5%,#b73557 82.2%,#b1325a 88.6%,#c43c4e 93.1%,#e15635 96.8%,#e35933 99.9%)"></i><i style="left:126px;background:linear-gradient(#e65d2f 0.1%,#e65d2f 1.5%,#ce4347 2.4%,#c13a50 2.9%,#ae305c 5.2%,#ad305d 14.2%,#ce4347 22.3%,#e65d2f 28.5%,#f57b17 32.7%,#fb9d07 35.5%,#fbb61a 36.7%,#f9c72f 37.2%,#f5db4c 37.8%,#f4f996 38.6%,#f7fca3 38.9%,#f7fca3 59.1%,#f4f996 59.4%,#f4e156 60%,#fac42a 60.5%,#fcaa0f 61.1%,#fb9906 61.7%,#f8850f 62.8%,#f47918 64.5%,#dd513a 73.7%,#b1325a 82.7%,#ad305d 88.3%,#bf3952 93.1%,#db503b 96.8%,#db503b 99.9%)"></i><i style="left:128px;background:linear-gradient(#e55c30 0.1%,#e55c30 1.5%,#c43c4e 2.7%,#ae305c 4.6%,#a82e5f 8.3%,#ae305c 15%,#d44842 24.3%,#e75e2e 29.1%,#f57b17 33%,#fb9b06 35.8%,#fca60c 36.4%,#fac42a 37.5%,#f4e156 38.3%,#f3f78f 38.9%,#f7fba1 39.2%,#f7fca3 39.5%,#f7fca3 58.8%,#f5f999 59.1%,#f4e156 59.7%,#fac62d 60.3%,#fcae12 60.8%,#fb9b06 61.4%,#f68013 62.8%,#f3761b 64.5%,#de5238 73.5%,#c63d4d 77.7%,#ad305d 82.7%,#ad305d 90.3%,#b93556 93.1%,#d34743 96.5%,#d34743 99.9%)"></i><i style="left:130px;background:linear-gradient(#e35933 0.1%,#e35933 1.5%,#c13a50 2.7%,#b1325a 3.8%,#ab2f5e 4.9%,#a62d60 12.2%,#c03a51 19.5%,#df5337 27.4%,#f1731d 32.4%,#fb9b06 36.1%,#fcb216 37.2%,#f9c932 38.1%,#f4dd4f 38.6%,#f5fa9c 39.5%,#f7fca3 39.7%,#f7fca3 58.6%,#f4f999 58.8%,#f1f27e 59.1%,#f3e35a 59.4%,#f9c72f 60%,#fcb014 60.5%,#fb9b06 61.1%,#f67e14 62.5%,#f1711f 64.7%,#dd513a 73.7%,#c03a51 78.2%,#a92e5e 82.4%,#a32c61 84.4%,#a82e5f 90.9%,#ca404a 96.2%,#ca404a 99.9%)"></i><i style="left:132px;background:linear-gradient(#e15635 0.1%,#e15635 1.5%,#bf3952 2.7%,#ab2f5e 4.4%,#a52c60 11.9%,#bf3952 19.5%,#df5337 27.7%,#f1731d 32.7%,#fb9d07 36.4%,#fcb216 37.5%,#f7d13d 38.6%,#f2e966 39.2%,#f5fa9c 39.7%,#f7fca3 40%,#f7fca3 58.3%,#f5f999 58.6%,#f4e156 59.1%,#fac62d 59.7%,#fcae12 60.3%,#fb9906 60.8%,#f67e14 62.2%,#f1711f 64.5%,#db503b 73.5%,#bd3853 78.2%,#a22b62 84.1%,#a52c60 90.6%,#c43c4e 95.9%,#c63d4d 99.9%)"></i><i style="left:134px;background:linear-gradient(#e05536 0.1%,#e05536 1.5%,#c33b4f 2.4%,#b63458 2.9%,#a82e5f 4.4%,#a52c60 13.1%,#bd3853 19.5%,#e15635 28.2%,#f1731d 33%,#fb9d07 36.7%,#fcb216 37.8%,#f9c72f 38.6%,#f5db4c 39.2%,#f5fa9c 40%,#f7fca3 40.3%,#f7fca3 58%,#f5f999 58.3%,#f4e156 58.8%,#fac42a 59.4%,#fcac11 60%,#fb9906 60.5%,#f8850f 61.4%,#f2741c 63.3%,#de5238 72.1%,#ad305d 80.8%,#a02a63 84.1%,#a22b62 90.3%,#c03a51 95.6%,#c03a51 99.9%)"></i><i style="left:136px;background:linear-gradient(#de5238 0.1%,#de5238 1.5%,#b93556 2.7%,#a62d60 4.1%,#a22b62 11.7%,#b1325a 17.6%,#db503b 27.4%,#ed6925 32.2%,#fb9906 36.7%,#fcac11 37.8%,#f9c72f 38.9%,#f5db4c 39.5%,#f6fb9e 40.3%,#f7fca3 40.6%,#f7fca3 57.7%,#f5fa9c 58%,#f4e156 58.6%,#fac42a 59.1%,#fcac11 59.7%,#fb9906 60.3%,#f8850f 61.1%,#f3761b 62.8%,#de5238 71.5%,#ae305c 80.2%,#9f2a63 83.8%,#9f2a63 90%,#ba3655 95.4%,#bc3754 99.9%)"></i><i style="left:138px;background:linear-gradient(#dd513a 0.1%,#dd513a 1.5%,#bf3952 2.4%,#b1325a 2.9%,#a32c61 4.4%,#a02a63 12.8%,#b63458 19.2%,#e05536 29.1%,#f3761b 34.1%,#fb9d07 37.2%,#fcb216 38.3%,#f9c72f 39.2%,#f5db4c 39.7%,#f6fb9e 40.6%,#f7fca3 40.9%,#f7fca3 57.4%,#f7fba1 57.7%,#f1f383 58%,#f3e35a 58.3%,#fac62d 58.8%,#fcae12 59.4%,#fb9b06 60%,#f78212 61.1%,#ef6e21 64.2%,#da4e3c 72.1%,#b1325a 79.1%,#9f2a63 83%,#9b2964 89.5%,#a32c61 92.3%,#b63458 95.1%,#b73557 99.9%)"></i><i style="left:140px;background:linear-gradient(#db503b 0.1%,#db503b 1.5%,#b43359 2.7%,#a02a63 4.6%,#9f2a63 13.3%,#ba3655 20.9%,#e15635 29.9%,#f2741c 34.4%,#fb9d07 37.5%,#fcb216 38.6%,#f9c72f 39.5%,#f5db4c 40%,#f6fb9e 40.9%,#f7fca3 41.2%,#f7fca3 57.4%,#f2f68b 57.7%,#f2e761 58%,#f6d543 58.3%,#fac62d 58.6%,#fca50a 59.4%,#fb9d07 59.7%,#f68013 61.1%,#ef6e21 63.9%,#da4e3c 71.5%,#b43359 78.2%,#9f2a63 82.4%,#9a2865 85.5%,#9a2865 90.3%,#b0315b 94.8%,#b3325a 99.9%)"></i><i style="left:142px;background:linear-gradient(#db503b 0.1%,#db503b 1.5%,#b3325a 2.7%,#a02a63 4.1%,#9d2964 13.9%,#bd3853 22.3%,#e25734 30.8%,#ef6e21 34.1%,#fa9207 36.9%,#fb9d07 37.8%,#fcb216 38.9%,#f9c72f 39.7%,#f4dd4f 40.3%,#f2f68b 40.9%,#f7fba1 41.2%,#f7fca3 57.2%,#f3f893 57.4%,#f6d746 58%,#f9c72f 58.3%,#fcb014 58.8%,#fb9d07 59.4%,#f68013 60.8%,#f1731d 62.8%,#db503b 70.6%,#b63458 77.4%,#9f2a63 81.9%,#972766 86.9%,#972766 90.3%,#ab2f5e 94.8%,#ae305c 99.9%)"></i><i style="left:144px;background:linear-gradient(#da4e3c 0.1%,#da4e3c 1.5%,#b1325a 2.7%,#9d2964 4.4%,#9a2865 13.1%,#b63458 21.5%,#de5238 30.2%,#f06f20 34.7%,#fb9906 37.8%,#fcac11 38.9%,#f9c932 40%,#f4df53 40.6%,#f3f78f 41.2%,#f7fca3 41.4%,#f7fca3 56.9%,#f5fa9c 57.2%,#f5db4c 57.7%,#f9c932 58%,#fcb014 58.6%,#fb9706 59.4%,#f67e14 60.8%,#ef6c23 63.6%,#d84c3e 70.9%,#b3325a 77.7%,#9b2964 82.2%,#932667 87.8%,#932667 90.3%,#a62d60 95.1%,#a92e5e 99.9%)"></i><i style="left:146px;background:linear-gradient(#d94d3d 0.1%,#d94d3d 1.5%,#b73557 2.4%,#a92e5e 2.9%,#9a2865 4.6%,#982766 13.6%,#b73557 22.6%,#df5337 31%,#ed6925 34.4%,#fb9906 38.1%,#fcae12 39.2%,#f9c932 40.3%,#f4e156 40.9%,#f3f893 41.4%,#f7fca3 41.7%,#f7fca3 56.6%,#f7fba1 56.9%,#f1f27f 57.2%,#f4df53 57.4%,#f9cb35 57.7%,#fbbc21 58%,#fca80d 58.6%,#fb9706 59.1%,#f78212 60.3%,#ef6c23 63.3%,#d74b3f 70.6%,#b43359 76.8%,#9b2964 81.6%,#902568 88.1%,#902568 90.3%,#a02a63 94.2%,#a52c60 99.9%)"></i><i style="left:148px;background:linear-gradient(#d84c3e 0.1%,#d84c3e 1.5%,#b63458 2.4%,#a62d60 2.9%,#9a2865 4.1%,#972766 14.2%,#bc3754 24.3%,#e05536 31.9%,#ec6726 34.7%,#fb9906 38.3%,#fca80d 39.2%,#fac228 40.3%,#f6d543 40.9%,#f4f996 41.7%,#f7fca3 42%,#f7fca3 56.6%,#f2f488 56.9%,#f3e35a 57.2%,#f8cd37 57.4%,#fbbe23 57.7%,#fca80d 58.3%,#fb9906 58.8%,#f57d15 60.5%,#f1711f 62.2%,#d34743 71.2%,#b63458 76.3%,#972766 82.4%,#8d2369 88.3%,#a02a63 99.9%)"></i><i style="left:150px;background:linear-gradient(#d74b3f 0.1%,#d74b3f 1.5%,#ab2f5e 2.7%,#972766 4.4%,#932667 13.3%,#b3325a 23.2%,#df5337 32.2%,#ed6925 35.3%,#fb9b06 38.6%,#fcae12 39.7%,#f9cb35 40.9%,#f3e55d 41.4%,#f5fa9c 42%,#f7fca3 42.3%,#f7fca3 56.3%,#f3f893 56.6%,#f2e661 56.9%,#f7d13d 57.2%,#fac026 57.4%,#fca80d 58%,#fb9906 58.6%,#f68013 60%,#ef6c23 62.8%,#d44842 70.4%,#b1325a 76.5%,#972766 81.9%,#8a226a 88.3%,#9b2964 99.9%)"></i><i style="left:152px;background:linear-gradient(#d54a41 0.1%,#d54a41 1.5%,#b3325a 2.4%,#a32c61 2.9%,#932667 4.6%,#922568 13.9%,#b0315b 23.2%,#d74b3f 30.8%,#e9612b 34.7%,#fa9008 38.1%,#fb9d07 38.9%,#fcb216 40%,#f9c72f 40.9%,#f4df53 41.4%,#f3f78f 42%,#f7fca3 42.3%,#f7fca3 56%,#f5fa9c 56.3%,#f6d543 56.9%,#fac228 57.2%,#fca80d 57.7%,#fb9b06 58.3%,#f67e14 60%,#ee6a24 62.8%,#d44842 69.8%,#b73557 75.1%,#932667 82.2%,#87216b 88.3%,#972766 99.9%)"></i><i style="left:154px;background:linear-gradient(#d44842 0.1%,#d44842 1.5%,#a82e5f 2.7%,#932667 4.1%,#902568 14.5%,#ad305d 23.2%,#dd513a 32.4%,#ee6a24 35.8%,#fb9906 38.9%,#fca80d 39.7%,#fac42a 40.9%,#f5d949 41.4%,#f6fb9e 42.3%,#f7fca3 42.6%,#f7fca3 56%,#f1f07a 56.3%,#f5d949 56.6%,#fac42a 56.9%,#fcaa0f 57.4%,#fb9b06 58%,#f78212 59.4%,#e8602d 64.2%,#b0315b 76%,#932667 81.6%,#84206b 88.3%,#922568 99.9%)"></i><i style="left:156px;background:linear-gradient(#d34743 0.1%,#d34743 1.5%,#ae305c 2.4%,#9f2a63 2.9%,#902568 4.4%,#8d2369 13.3%,#a92e5e 23.2%,#d54a41 31.3%,#e9612b 35.3%,#fa9008 38.3%,#fb9d07 39.2%,#fcb216 40.3%,#f9c72f 41.2%,#f4e156 41.7%,#f4f996 42.3%,#f7fca3 42.6%,#f7fca3 55.8%,#f2f487 56%,#f4dd4f 56.3%,#fcb418 56.9%,#fca80d 57.2%,#fb9b06 57.7%,#f57d15 59.7%,#e9612b 63.6%,#b63458 74.6%,#972766 80.2%,#801f6c 88.1%,#8d2369 99.9%)"></i><i style="left:158px;background:linear-gradient(#d24644 0.1%,#d24644 1.5%,#ad305d 2.4%,#9d2964 2.9%,#8d2369 4.6%,#8c2369 13.9%,#a62d60 23.2%,#da4e3c 32.7%,#ec6726 36.1%,#f8890c 38.1%,#fb9906 39.2%,#fcb418 40.6%,#f8cd37 41.4%,#f2e967 42%,#f2f68b 42.3%,#f7fca3 42.6%,#f7fca3 55.5%,#f3f892 55.8%,#f3e35a 56%,#f9cb35 56.3%,#fbb81d 56.6%,#fca80d 56.9%,#fb9b06 57.4%,#f68013 59.1%,#e45a31 64.5%,#ad305d 75.7%,#8d2369 82.2%,#7c1d6d 88.9%,#88226a 99.9%)"></i><i style="left:160px;background:linear-gradient(#d04545 0.1%,#d04545 1.5%,#a22b62 2.7%,#8d2369 4.1%,#88226a 13.1%,#a32c61 23.2%,#d34743 31.6%,#e9612b 35.8%,#f98b0b 38.3%,#fb9d07 39.5%,#fcb216 40.6%,#f9c932 41.4%,#f3e35a 42%,#f4f999 42.6%,#f7fca3 42.8%,#f7fca3 55.2%,#f5fa9c 55.5%,#f8cf3a 56%,#fbba1f 56.3%,#fcaa0f 56.6%,#fb9b06 57.2%,#f67e14 59.1%,#e55c30 63.9%,#bc3754 72.6%,#952667 79.6%,#7a1d6d 87.8%,#771c6d 91.7%,#84206b 96.2%,#84206b 99.9%)"></i><i style="left:162px;background:linear-gradient(#cf4446 0.1%,#cf4446 1.5%,#a02a63 2.7%,#932667 3.2%,#8a226a 4.4%,#87216b 13.6%,#a62d60 24.6%,#da4e3c 33.6%,#e9612b 36.1%,#f98c0a 38.6%,#fb9906 39.5%,#fca60c 40.3%,#fac228 41.4%,#f5d949 42%,#f2e762 42.3%,#f2f487 42.6%,#f7fca3 42.8%,#f7fca3 55.2%,#f1ee76 55.5%,#f6d543 55.8%,#fbbe23 56%,#fca50a 56.6%,#fb9706 57.2%,#f78212 58.6%,#e55c30 63.6%,#ba3655 72.6%,#952667 79.4%,#781c6d 88.1%,#82206c 99.9%)"></i><i style="left:164px;background:linear-gradient(#ce4347 0.1%,#ce4347 1.5%,#a82e5f 2.4%,#972766 2.9%,#87216b 4.6%,#85216b 14.2%,#a22b62 24.3%,#d74b3f 33.3%,#e9612b 36.4%,#f8890c 38.6%,#fb9b06 39.7%,#fcae12 40.9%,#fac62d 41.7%,#f4df53 42.3%,#f3f893 42.8%,#f7fca3 43.1%,#f7fca3 54.9%,#f2f487 55.2%,#f5db4c 55.5%,#fac42a 55.8%,#fca60c 56.3%,#fb9906 56.9%,#f57d15 58.8%,#e45a31 63.6%,#ba3655 72.3%,#972766 78.8%,#781c6d 87.8%,#751b6e 91.2%,#801f6c 95.6%,#801f6c 99.9%)"></i><i style="left:166px;background:linear-gradient(#cc4248 0.1%,#cc4248 1.5%,#a62d60 2.4%,#952667 2.9%,#85216b 4.6%,#84206b 14.2%,#9d2964 23.7%,#d74b3f 33.6%,#e55c30 36.1%,#f98b0b 38.9%,#fb9d07 40%,#fcb216 41.2%,#f9cb35 42%,#f3e55d 42.6%,#f1f383 42.8%,#f6fb9e 43.1%,#f7fca3 43.4%,#f7fca3 54.6%,#f5fa9c 54.9%,#f2e762 55.2%,#f8cd37 55.5%,#fbb81d 55.8%,#fca309 56.3%,#fb9706 56.9%,#f47918 59.1%,#e25734 63.9%,#b3325a 73.5%,#932667 79.4%,#781c6d 87.5%,#751b6e 92%,#7f1e6c 95.6%,#7f1e6c 99.9%)"></i><i style="left:168px;background:linear-gradient(#cc4248 0.1%,#cc4248 1.5%,#9b2964 2.7%,#85216b 4.4%,#82206c 13.9%,#9f2a63 24.3%,#d24644 32.7%,#e9612b 36.7%,#f98c0a 39.2%,#fb9b06 40%,#fbb81d 41.4%,#f9c932 42%,#f4df53 42.6%,#f3f78f 43.1%,#f7fca3 43.4%,#f7fca3 54.6%,#f2f68b 54.9%,#f4dd4f 55.2%,#fac62d 55.5%,#fcb216 55.8%,#fb9b06 56.6%,#f37819 59.1%,#e55c30 63.1%,#bc3754 71.8%,#922568 79.6%,#771c6d 88.1%,#7f1e6c 99.9%)"></i><i style="left:170px;background:linear-gradient(#cb4149 0.1%,#cb4149 1.5%,#a52c60 2.4%,#932667 2.9%,#82206c 4.9%,#801f6c 13.3%,#9a2865 23.5%,#d74b3f 33.8%,#e65d2f 36.4%,#fb9906 40%,#fcb014 41.2%,#f9c72f 42%,#f5db4c 42.6%,#f5fa9c 43.4%,#f7fca3 43.7%,#f7fca3 54.6%,#f1ee76 54.9%,#f6d543 55.2%,#fbbe23 55.5%,#fcae12 55.8%,#fb9906 56.6%,#f47918 58.8%,#e25734 63.6%,#ba3655 71.8%,#902568 79.9%,#771c6d 87.8%,#741a6e 91.7%,#7d1e6d 99.9%)"></i><i style="left:172px;background:linear-gradient(#cb4149 0.1%,#cb4149 1.5%,#9a2865 2.7%,#8d2369 3.2%,#82206c 4.6%,#801f6c 14.2%,#9a2865 23.7%,#d34743 33.3%,#e35933 36.1%,#fb9706 40%,#fcae12 41.2%,#fac62d 42%,#f3e35a 42.8%,#f3f78f 43.4%,#f7fba1 43.7%,#f7fca3 54.4%,#f4f999 54.6%,#f3e55d 54.9%,#f9cb35 55.2%,#fbb81d 55.5%,#fca50a 56%,#fb9906 56.6%,#f57b17 58.6%,#e45a31 63.1%,#bc3754 71.5%,#932667 79.1%,#771c6d 87.5%,#741a6e 92.6%,#7c1d6d 99.9%)"></i><i style="left:174px;background:linear-gradient(#cb4149 0.1%,#cb4149 1.5%,#b0315b 2.1%,#922568 2.9%,#801f6c 4.9%,#801f6c 14.5%,#982766 23.5%,#d54a41 33.8%,#e75e2e 36.7%,#f98c0a 39.5%,#fb9b06 40.3%,#fcae12 41.2%,#f8cd37 42.3%,#f3e35a 42.8%,#f6fb9e 43.7%,#f7fca3 44%,#f7fca3 54.4%,#f3f892 54.6%,#f4e156 54.9%,#f9c72f 55.2%,#fcb418 55.5%,#fca50a 56%,#fb9706 56.6%,#f57b17 58.6%,#e15635 63.6%,#ba3655 71.5%,#8f2469 80.2%,#751b6e 88.1%,#7c1d6d 99.9%)"></i><i style="left:176px;background:linear-gradient(#cb4149 0.1%,#cb4149 1.5%,#b0315b 2.1%,#922568 2.9%,#801f6c 4.9%,#801f6c 14.5%,#982766 23.5%,#d54a41 33.8%,#e75e2e 36.7%,#f98c0a 39.5%,#fb9b06 40.3%,#fcae12 41.2%,#f8cd37 42.3%,#f3e35a 42.8%,#f6fb9e 43.7%,#f7fca3 44%,#f7fca3 54.4%,#f3f892 54.6%,#f4e156 54.9%,#f9c72f 55.2%,#fcb418 55.5%,#fca50a 56%,#fb9706 56.6%,#f57b17 58.6%,#e15635 63.6%,#ba3655 71.5%,#8f2469 80.2%,#751b6e 88.1%,#7c1d6d 99.9%)"></i></div></div><div class="hm" style="left:32px;top:242px;width:171px;height:171px"><div style="left:-3px;top:-3px;width:177px;height:177px;filter:blur(0.8px)"><i style="left:0px;background:linear-gradient(#6a176e 0.1%,#6a176e 1.6%,#59106e 1.8%,#3d0965 2.1%,#260c51 2.4%,#0d0829 3%,#030210 3.8%,#010005 5.2%,#02020c 17.9%,#0c0826 25.3%,#380962 33.8%,#5d126e 37.7%,#87216b 40%,#c43c4e 41.9%,#e25734 42.8%,#f98b0b 43.6%,#fb9b06 43.9%,#fcaa0f 44.2%,#f9c72f 44.8%,#f1ee75 45.6%,#f5fa9c 46.2%,#f7fca3 46.5%,#f7fca3 53.5%,#f1ee76 53.8%,#fbbe23 54.1%,#fa9008 54.4%,#da4e3c 54.9%,#9d2964 55.8%,#6a176e 56.6%,#470b6a 57.5%,#340a5f 58.1%,#1b0c41 58.9%,#0c0826 59.7%,#050417 60.9%,#010005 63.7%,#000004 99.9%)"></i><i style="left:2px;background:linear-gradient(#6a176e 0.1%,#6a176e 1.6%,#59106e 1.8%,#3d0965 2.1%,#260c51 2.4%,#0d0829 3%,#030210 3.8%,#010005 5.2%,#02020c 17.9%,#0c0826 25.3%,#380962 33.8%,#5d126e 37.7%,#87216b 40%,#c43c4e 41.9%,#e25734 42.8%,#f98b0b 43.6%,#fb9b06 43.9%,#fcaa0f 44.2%,#f9c72f 44.8%,#f1ee75 45.6%,#f5fa9c 46.2%,#f7fca3 46.5%,#f7fca3 53.5%,#f1ee76 53.8%,#fbbe23 54.1%,#fa9008 54.4%,#da4e3c 54.9%,#9d2964 55.8%,#6a176e 56.6%,#470b6a 57.5%,#340a5f 58.1%,#1b0c41 58.9%,#0c0826 59.7%,#050417 60.9%,#010005 63.7%,#000004 99.9%)"></i><i style="left:4px;background:linear-gradient(#6a176e 0.1%,#6a176e 1.6%,#59106e 1.8%,#3d0965 2.1%,#260c51 2.4%,#160b39 2.7%,#08051d 3.2%,#02020c 4.1%,#010005 5.5%,#030210 17.1%,#0e092b 24.4%,#320a5e 31.8%,#470b6a 35.2%,#5d126e 37.4%,#84206b 39.7%,#bf3952 41.7%,#e55c30 42.8%,#f98e09 43.6%,#fca108 43.9%,#f9cb35 44.8%,#f3e55d 45.3%,#f1f07a 45.6%,#f6fb9e 46.2%,#f7fca3 53.5%,#f1f07a 53.8%,#fac026 54.1%,#fa9407 54.4%,#ef6e21 54.7%,#df5337 54.9%,#cb4149 55.2%,#a62d60 55.8%,#751b6e 56.6%,#400a67 58.1%,#1f0c48 59.2%,#120a32 60%,#07051b 61.7%,#010108 64.8%,#000004 99.9%)"></i><i style="left:6px;background:linear-gradient(#6a176e 0.1%,#6a176e 1.6%,#5a116e 1.8%,#3d0965 2.1%,#260c51 2.4%,#0e092b 3%,#050417 3.5%,#010106 5.2%,#030210 14.8%,#10092d 23.3%,#360961 31.2%,#4c0c6b 35.2%,#62146e 37.4%,#82206c 39.4%,#a62d60 40.8%,#c13a50 41.7%,#e75e2e 42.8%,#fa9207 43.6%,#fca50a 43.9%,#fac228 44.5%,#f4dd4f 45.1%,#f1f383 45.6%,#f6fb9e 46.2%,#f7fca3 53.5%,#f1f27e 53.8%,#fac42a 54.1%,#fb9706 54.4%,#f2741c 54.7%,#e55c30 54.9%,#c63d4d 55.5%,#a62d60 56.1%,#7f1e6c 56.9%,#470b6a 58.6%,#260c51 60%,#140b34 61.7%,#050417 64.8%,#02010a 67.9%,#000004 74.7%,#010106 99.9%)"></i><i style="left:8px;background:linear-gradient(#6c186e 0.1%,#6c186e 1.6%,#5a116e 1.8%,#3e0966 2.1%,#280b53 2.4%,#180c3c 2.7%,#0a0722 3.2%,#02020c 4.4%,#010106 5.8%,#040312 16.8%,#110a30 23.9%,#360961 31.2%,#490b6a 34.6%,#64156e 37.4%,#84206b 39.4%,#a02a63 40.5%,#c33b4f 41.7%,#e8602d 42.8%,#fa9407 43.6%,#fca60c 43.9%,#fac42a 44.5%,#f2eb6b 45.3%,#f4f996 45.9%,#f7fca1 46.2%,#f7fca3 53.5%,#f1f27f 53.8%,#fac62d 54.1%,#fb9d07 54.4%,#f57b17 54.7%,#eb6429 54.9%,#c43c4e 55.8%,#82206c 57.5%,#490b6a 59.5%,#2b0b57 61.2%,#160b39 63.1%,#040314 67.1%,#02010a 70.5%,#000004 75.8%,#010108 99.9%)"></i><i style="left:10px;background:linear-gradient(#6c186e 0.1%,#6c186e 1.6%,#5c126e 1.8%,#3e0966 2.1%,#190c3e 2.7%,#0a0722 3.2%,#030210 4.1%,#010108 5.5%,#040312 17.7%,#10092d 23.6%,#360961 31.2%,#4d0d6c 35.2%,#65156e 37.4%,#932667 40%,#c43c4e 41.7%,#e8602d 42.8%,#fa9407 43.6%,#fbb61a 44.2%,#f4df53 45.1%,#f2eb6c 45.3%,#f5f999 45.9%,#f7fba1 46.2%,#f7fca3 53.5%,#f1f383 53.8%,#f9c932 54.1%,#fca108 54.4%,#f78212 54.7%,#e65d2f 55.2%,#c83f4b 56.1%,#8f2469 57.8%,#65156e 59.2%,#4f0d6c 60.3%,#230c4c 63.4%,#0d0829 66%,#060419 67.7%,#02010a 72.2%,#000004 76.4%,#000004 95.1%,#02020c 99.9%)"></i><i style="left:12px;background:linear-gradient(#6f196e 0.1%,#6f196e 1.6%,#5f136e 1.8%,#2d0b59 2.4%,#140b34 3%,#07051b 3.8%,#02020e 5.2%,#040314 17.4%,#0d0829 22.2%,#2f0a5b 29.5%,#470b6a 33.8%,#62146e 36.9%,#922568 39.7%,#c73e4c 41.7%,#e25734 42.5%,#fb9706 43.6%,#f9c72f 44.5%,#f1ed71 45.3%,#f4f999 45.9%,#f7fca3 46.2%,#f7fca3 53.5%,#f1f383 53.8%,#f9c932 54.1%,#fca108 54.4%,#f78212 54.7%,#ef6e21 54.9%,#de5238 55.5%,#cc4248 56.1%,#8c2369 58.1%,#6a176e 59.2%,#4f0d6c 60.6%,#2b0b57 63.1%,#10092d 66.5%,#09061f 68.5%,#030210 73.3%,#010108 89.1%,#040312 99.9%)"></i><i style="left:14px;background:linear-gradient(#751b6e 0.1%,#751b6e 1.6%,#65156e 1.8%,#4a0c6b 2.1%,#240c4f 2.7%,#0e092b 3.5%,#060419 5.2%,#050417 6.6%,#08051d 17.7%,#110a30 21.9%,#380962 30.1%,#510e6c 34.3%,#69166e 36.9%,#922568 39.4%,#c33b4f 41.4%,#de5238 42.2%,#fb9b06 43.6%,#f9c932 44.5%,#f3e35a 45.1%,#f1ee75 45.3%,#f2f68b 45.6%,#f7fca3 46.2%,#f7fca3 53.5%,#f2f487 53.8%,#f9c932 54.1%,#fca108 54.4%,#f78212 54.7%,#ef6e21 54.9%,#d74b3f 55.8%,#902568 58.1%,#6f196e 59.2%,#59106e 60.3%,#390963 62.6%,#210c4a 64.8%,#110a30 67.7%,#0b0724 70.2%,#050417 75%,#030210 81.8%,#07051b 99.9%)"></i><i style="left:16px;background:linear-gradient(#7c1d6d 0.1%,#7c1d6d 1.6%,#6c186e 1.8%,#510e6c 2.1%,#2d0b59 2.7%,#150b37 3.5%,#0b0724 5.2%,#0a0722 6.6%,#0c0826 17.1%,#150b37 21.6%,#320a5e 28.1%,#61136e 35.7%,#8d2369 38.8%,#c73e4c 41.4%,#ea632a 42.5%,#f98e09 43.4%,#fc9f07 43.6%,#f9cb35 44.5%,#f3e55d 45.1%,#f2f68b 45.6%,#f7fca3 46.2%,#f7fca3 53.5%,#f2f487 53.8%,#f9c932 54.1%,#fca108 54.4%,#f78212 54.7%,#e8602d 55.2%,#d24644 56.1%,#8d2369 58.3%,#6d186e 59.5%,#550f6d 60.9%,#3d0965 62.9%,#260c51 65.1%,#180c3c 67.7%,#0d0829 71.6%,#060419 81.8%,#0b0724 99.9%)"></i><i style="left:18px;background:linear-gradient(#801f6c 0.1%,#801f6c 1.6%,#440a68 2.4%,#290b55 3%,#1c0c43 3.5%,#110a30 5.5%,#120a32 16.8%,#180c3c 20.5%,#360961 28.1%,#64156e 35.7%,#972766 39.1%,#c43c4e 41.1%,#e45a31 42.2%,#fa9207 43.4%,#fca309 43.6%,#f2e661 45.1%,#f3f78f 45.6%,#f7fca3 46.2%,#f7fca3 53.5%,#f2f487 53.8%,#f9c932 54.1%,#fc9f07 54.4%,#f78212 54.7%,#f06f20 54.9%,#da4e3c 55.8%,#b73557 57.2%,#922568 58.3%,#5f136e 60.6%,#2d0b59 65.1%,#120a32 71.9%,#0a0722 81.8%,#10092d 99.9%)"></i><i style="left:20px;background:linear-gradient(#87216b 0.1%,#87216b 1.6%,#5d126e 2.1%,#320a5e 3%,#1e0c45 4.1%,#180c3c 5.5%,#190c3e 16.5%,#1f0c48 20.8%,#3e0966 29.5%,#64156e 35.5%,#952667 38.8%,#c13a50 40.8%,#df5337 41.9%,#fa9407 43.4%,#fca50a 43.6%,#f2e967 45.1%,#f3f892 45.6%,#f7fca3 46.2%,#f7fca3 53.5%,#f2f68b 53.8%,#f8cd37 54.1%,#fca50a 54.4%,#f8870e 54.7%,#f2741c 54.9%,#d54a41 56.1%,#952667 58.3%,#71196e 59.7%,#5f136e 60.9%,#440a68 63.1%,#2b0b57 66.5%,#180c3c 72.5%,#110a30 81.5%,#110a30 89.4%,#180c3c 99.9%)"></i><i style="left:22px;background:linear-gradient(#8c2369 0.1%,#8c2369 1.6%,#520e6d 2.4%,#320a5e 3.2%,#260c51 4.1%,#1f0c48 5.5%,#260c51 20.5%,#400a67 29.2%,#67166e 35.5%,#8f2469 38.3%,#c63d4d 40.8%,#e9612b 42.2%,#fb9706 43.4%,#fbb81d 43.9%,#f4df53 44.8%,#f2eb6c 45.1%,#f4f996 45.6%,#f7fca3 46.2%,#f7fca3 53.5%,#f3f78f 53.8%,#f7d13d 54.1%,#fcaa0f 54.4%,#f98e09 54.7%,#e65d2f 55.5%,#c83f4b 56.6%,#8f2469 58.6%,#7a1d6d 59.5%,#5c126e 61.4%,#360961 65.7%,#1f0c48 72.5%,#190c3e 80.6%,#1f0c48 99.9%)"></i><i style="left:24px;background:linear-gradient(#902568 0.1%,#902568 1.6%,#57106e 2.4%,#380962 3.2%,#2b0b57 4.1%,#240c4f 5.8%,#2d0b59 21.3%,#490b6a 30.1%,#6c186e 35.5%,#9a2865 38.6%,#cb4149 40.8%,#e65d2f 41.9%,#f98e09 43.1%,#fb9d07 43.4%,#fcac11 43.6%,#f4df53 44.8%,#f2eb6c 45.1%,#f4f996 45.6%,#f7fca1 45.9%,#f7fca3 53.5%,#f3f78f 53.8%,#f6d543 54.1%,#fcb014 54.4%,#fa9407 54.7%,#e9612b 55.5%,#ca404a 56.6%,#922568 58.6%,#6c186e 60.6%,#420a68 64.5%,#290b55 71.3%,#230c4c 79.8%,#290b55 99.9%)"></i><i style="left:26px;background:linear-gradient(#932667 0.1%,#932667 1.6%,#5c126e 2.4%,#380962 3.5%,#290b55 6.1%,#2d0b59 17.9%,#360961 23%,#4d0d6c 30.1%,#71196e 35.5%,#952667 38%,#c43c4e 40.3%,#ea632a 41.9%,#fa9407 43.1%,#fca108 43.4%,#f9c932 44.2%,#f1f383 45.3%,#f7fba1 45.9%,#f7fca3 53.5%,#f3f893 53.8%,#f5d949 54.1%,#fbb61a 54.4%,#fb9906 54.7%,#eb6429 55.5%,#d34743 56.4%,#a32c61 58.1%,#781c6d 60%,#4d0d6c 63.7%,#320a5e 71%,#2d0b59 78.4%,#320a5e 99.9%)"></i><i style="left:28px;background:linear-gradient(#972766 0.1%,#972766 1.6%,#5f136e 2.4%,#3d0965 3.5%,#2f0a5b 6.4%,#340a5f 19.4%,#420a68 26.1%,#510e6c 29.8%,#751b6e 35.5%,#a02a63 38.3%,#ca404a 40.3%,#e8602d 41.7%,#fb9906 43.1%,#fcb216 43.6%,#f6d543 44.5%,#f1f383 45.3%,#f7fca3 45.9%,#f7fca3 53.5%,#f4f996 53.8%,#f5db4c 54.1%,#fbbc21 54.4%,#fca108 54.7%,#f8890c 54.9%,#ec6726 55.5%,#cc4248 56.6%,#9f2a63 58.3%,#801f6c 59.7%,#520e6d 63.7%,#3b0964 70.8%,#3d0965 99.9%)"></i><i style="left:30px;background:linear-gradient(#9a2865 0.1%,#9a2865 1.6%,#8d2369 1.8%,#64156e 2.4%,#470b6a 3.2%,#360961 5.2%,#380962 16.8%,#450a69 25.8%,#550f6d 29.8%,#7a1d6d 35.5%,#a02a63 38%,#ca404a 40%,#e75e2e 41.4%,#fa9407 42.8%,#fc9f07 43.1%,#f9cb35 44.2%,#f4e156 44.8%,#f1f383 45.3%,#f7fca3 45.9%,#f7fca3 53.5%,#f4f996 53.8%,#f4df53 54.1%,#fac228 54.4%,#fca60c 54.7%,#f98e09 54.9%,#ee6a24 55.5%,#ce4347 56.6%,#a82e5f 58.1%,#801f6c 60%,#57106e 63.7%,#440a68 70.2%,#450a69 99.9%)"></i><i style="left:32px;background:linear-gradient(#9d2964 0.1%,#9d2964 1.6%,#67166e 2.4%,#520e6d 3%,#420a68 3.8%,#380962 6.6%,#3b0964 19.1%,#470b6a 25.8%,#7c1d6d 34.9%,#9d2964 37.4%,#cf4446 40%,#ee6a24 41.7%,#fb9706 42.8%,#fcae12 43.4%,#f8cf3a 44.2%,#f5d949 44.5%,#f2f68b 45.3%,#f7fca3 45.9%,#f7fca3 53.5%,#f5fa9c 53.8%,#f4e156 54.1%,#fac42a 54.4%,#fca80d 54.7%,#fa9008 54.9%,#ef6c23 55.5%,#d04545 56.6%,#ab2f5e 58.1%,#85216b 60%,#5c126e 63.7%,#470b6a 70.2%,#490b6a 99.9%)"></i><i style="left:34px;background:linear-gradient(#a02a63 0.1%,#a02a63 1.6%,#6a176e 2.4%,#550f6d 3%,#450a69 3.8%,#3b0964 6.4%,#3d0965 19.4%,#450a69 24.4%,#57106e 29%,#85216b 35.2%,#a92e5e 37.7%,#d44842 40%,#f06f20 41.7%,#fb9b06 42.8%,#f9c72f 43.9%,#f2e762 44.8%,#f1f27e 45.1%,#f3f892 45.3%,#f7fca3 45.9%,#f7fca3 53.5%,#f6fb9e 53.8%,#f3e55d 54.1%,#fac62d 54.4%,#fca80d 54.7%,#fa9008 54.9%,#e9612b 55.8%,#d34743 56.6%,#b63458 57.8%,#922568 59.5%,#5c126e 64.3%,#4a0c6b 69.9%,#4a0c6b 99.9%)"></i><i style="left:36px;background:linear-gradient(#a32c61 0.1%,#a32c61 1.6%,#6d186e 2.4%,#4d0d6c 3.5%,#3e0966 6.1%,#3e0966 19.4%,#470b6a 24.4%,#5a116e 29%,#84206b 34.3%,#a62d60 37.1%,#d84c3e 40%,#f1731d 41.7%,#fa9407 42.5%,#fc9f07 42.8%,#f9cb35 43.9%,#f4e156 44.5%,#f1f383 45.1%,#f7fca3 45.6%,#f7fca3 53.8%,#f2e661 54.1%,#f9c72f 54.4%,#fcaa0f 54.7%,#fa9207 54.9%,#ea632a 55.8%,#d44842 56.6%,#b3325a 58.1%,#922568 59.7%,#62146e 64%,#4c0c6b 70.8%,#4c0c6b 99.9%)"></i><i style="left:38px;background:linear-gradient(#a52c60 0.1%,#a52c60 1.6%,#71196e 2.4%,#5c126e 3%,#4a0c6b 4.1%,#440a68 5.2%,#400a67 19.6%,#490b6a 24.4%,#550f6d 27.8%,#721a6e 31.5%,#8d2369 34.6%,#b3325a 37.4%,#e55c30 40.5%,#f68013 41.9%,#fb9706 42.5%,#fca309 42.8%,#fac42a 43.6%,#f5d949 44.2%,#f2f68b 45.1%,#f7fca3 45.6%,#f7fca3 53.8%,#f2e967 54.1%,#f9c932 54.4%,#fcaa0f 54.7%,#fa9207 54.9%,#f06f20 55.5%,#cf4446 56.9%,#b0315b 58.3%,#972766 59.7%,#67166e 64%,#4d0d6c 71.6%,#4d0d6c 99.9%)"></i><i style="left:40px;background:linear-gradient(#a82e5f 0.1%,#a82e5f 1.6%,#741a6e 2.4%,#5f136e 3%,#4d0d6c 4.1%,#470b6a 5.2%,#420a68 19.6%,#4a0c6b 24.4%,#5a116e 28.1%,#6d186e 30.4%,#8f2469 34%,#b63458 37.1%,#d84c3e 39.4%,#eb6429 40.8%,#f78410 41.9%,#fb9b06 42.5%,#f9c72f 43.6%,#f2e762 44.5%,#f1f27e 44.8%,#f7fca1 45.3%,#f7fca3 53.8%,#f2eb6c 54.1%,#f9cb35 54.4%,#fcac11 54.7%,#fa9407 54.9%,#eb6429 55.8%,#d84c3e 56.6%,#b43359 58.3%,#9b2964 59.7%,#67166e 64.5%,#510e6c 71.3%,#4a0c6b 79.8%,#510e6c 99.9%)"></i><i style="left:42px;background:linear-gradient(#a92e5e 0.1%,#a92e5e 1.6%,#751b6e 2.4%,#61136e 3%,#4a0c6b 4.7%,#440a68 8.9%,#450a69 20.8%,#5c126e 27.8%,#84206b 32.6%,#ab2f5e 36.3%,#ce4347 38.6%,#e55c30 40.3%,#f57b17 41.7%,#fb9b06 42.5%,#fcb014 43.1%,#fac62d 43.6%,#f2e762 44.5%,#f1f27f 44.8%,#f7fca3 45.3%,#f7fca3 53.8%,#f1ee75 54.1%,#f8cd37 54.4%,#fcae12 54.7%,#fa9407 54.9%,#eb6628 55.8%,#da4e3c 56.6%,#b73557 58.3%,#9b2964 60%,#6d186e 64.3%,#510e6c 73%,#4c0c6b 89.4%,#520e6d 99.9%)"></i><i style="left:44px;background:linear-gradient(#a92e5e 0.1%,#a92e5e 1.6%,#6a176e 2.7%,#520e6d 3.8%,#4a0c6b 4.9%,#470b6a 20.5%,#5f136e 27.8%,#87216b 32.6%,#ae305c 36.3%,#e65d2f 40.3%,#f2741c 41.4%,#fb9906 42.5%,#fbba1f 43.4%,#f8cf3a 43.9%,#f2e762 44.5%,#f1f383 44.8%,#f4f999 45.1%,#f7fca3 45.3%,#f7fca3 53.8%,#f1f07a 54.1%,#f8cf3a 54.4%,#fcb014 54.7%,#fb9606 54.9%,#ec6726 55.8%,#d54a41 56.9%,#a02a63 60%,#741a6e 64%,#57106e 71%,#4d0d6c 80.9%,#540f6d 99.9%)"></i><i style="left:46px;background:linear-gradient(#ab2f5e 0.1%,#ab2f5e 1.6%,#771c6d 2.4%,#62146e 3%,#4c0c6b 4.9%,#490b6a 20.5%,#61136e 27.5%,#8f2469 33.2%,#b1325a 36.3%,#e75e2e 40.3%,#f57d15 41.7%,#fb9906 42.5%,#fbb81d 43.4%,#f8cf3a 43.9%,#f5db4c 44.2%,#f6fb9e 45.1%,#f7fca3 45.3%,#f7fca3 53.8%,#f1f383 54.1%,#f7d13d 54.4%,#fcb014 54.7%,#fb9606 54.9%,#f2741c 55.5%,#dd513a 56.6%,#c33b4f 58.1%,#9d2964 60.6%,#721a6e 64.8%,#550f6d 73.3%,#4f0d6c 89.1%,#57106e 99.9%)"></i><i style="left:48px;background:linear-gradient(#ab2f5e 0.1%,#ab2f5e 1.6%,#781c6d 2.4%,#64156e 3%,#4d0d6c 4.9%,#4a0c6b 20.2%,#5a116e 25.6%,#6c186e 28.7%,#922568 33.2%,#b43359 36.3%,#eb6429 40.5%,#fb9706 42.5%,#fcac11 43.1%,#fac228 43.6%,#f4dd4f 44.2%,#f7fca3 45.1%,#f7fca3 53.8%,#f2f487 54.1%,#f7d340 54.4%,#fcb216 54.7%,#fb9706 54.9%,#f78212 55.2%,#ed6925 55.8%,#d94d3d 56.9%,#c13a50 58.3%,#a22b62 60.6%,#781c6d 64.5%,#59106e 73%,#510e6c 81.8%,#59106e 99.9%)"></i><i style="left:50px;background:linear-gradient(#ad305d 0.1%,#ad305d 1.6%,#7a1d6d 2.4%,#65156e 3%,#4f0d6c 4.9%,#4c0c6b 20.2%,#6f196e 28.7%,#b0315b 35.7%,#e65d2f 40%,#f06f20 41.1%,#fb9706 42.5%,#fcaa0f 43.1%,#fac228 43.6%,#f4dd4f 44.2%,#f4f996 44.8%,#f7fca3 45.1%,#f7fca3 53.8%,#f3f78f 54.1%,#f6d543 54.4%,#fcb418 54.7%,#fb9706 54.9%,#f3761b 55.5%,#e45a31 56.4%,#c43c4e 58.3%,#a92e5e 60.3%,#771c6d 65.4%,#5d126e 71.9%,#520e6d 82.1%,#5a116e 99.9%)"></i><i style="left:52px;background:linear-gradient(#ad305d 0.1%,#ad305d 1.6%,#7a1d6d 2.4%,#67166e 3%,#57106e 3.8%,#4f0d6c 5.2%,#4d0d6c 19.9%,#71196e 28.4%,#902568 32.3%,#b73557 36%,#db503b 38.6%,#ea632a 40.3%,#f37819 41.4%,#fb9706 42.5%,#fcac11 43.1%,#fac62d 43.6%,#f3e55d 44.2%,#f2f487 44.5%,#f7fca3 44.8%,#f7fca3 53.8%,#f4f996 54.1%,#f5d949 54.4%,#fbb61a 54.7%,#fb9906 54.9%,#f3761b 55.5%,#dd513a 56.9%,#bc3754 59.2%,#a32c61 61.2%,#801f6c 64.5%,#71196e 67.4%,#5c126e 73.9%,#540f6d 81.5%,#5c126e 99.9%)"></i><i style="left:54px;background:linear-gradient(#ae305c 0.1%,#ae305c 1.6%,#7c1d6d 2.4%,#67166e 3%,#520e6d 4.7%,#4d0d6c 18.8%,#71196e 27.8%,#972766 32.6%,#b43359 35.5%,#db503b 38.3%,#eb6429 40.3%,#f1731d 41.1%,#fb9906 42.5%,#fcae12 43.1%,#f9c932 43.6%,#f5db4c 43.9%,#f4f999 44.5%,#f7fca3 44.8%,#f7fca3 53.8%,#f4f999 54.1%,#f5db4c 54.4%,#fbb81d 54.7%,#fb9906 54.9%,#f37819 55.5%,#e25734 56.6%,#c73e4c 58.6%,#ae305c 60.6%,#82206c 64.8%,#61136e 72.5%,#540f6d 84.9%,#5f136e 99.9%)"></i><i style="left:56px;background:linear-gradient(#ae305c 0.1%,#ae305c 1.6%,#71196e 2.7%,#5d126e 3.5%,#540f6d 4.7%,#4f0d6c 18.5%,#5a116e 22.5%,#7a1d6d 28.7%,#ae305c 34.6%,#da4e3c 38%,#eb6628 40.3%,#f57b17 41.4%,#fb9b06 42.5%,#fcb216 43.1%,#f8cf3a 43.6%,#f3e35a 43.9%,#f2f487 44.2%,#f7fca3 44.5%,#f7fca3 53.8%,#f6fb9e 54.1%,#f4dd4f 54.4%,#fbb81d 54.7%,#fb9906 54.9%,#f37819 55.5%,#e35933 56.6%,#ca404a 58.6%,#a82e5f 61.4%,#88226a 64.5%,#771c6d 67.4%,#5f136e 74.4%,#550f6d 87.4%,#61136e 99.9%)"></i><i style="left:58px;background:linear-gradient(#b0315b 0.1%,#b0315b 1.6%,#7d1e6d 2.4%,#6a176e 3%,#540f6d 4.9%,#520e6d 19.1%,#7a1d6d 28.1%,#972766 31.8%,#bc3754 35.5%,#df5337 38.3%,#ef6c23 40.5%,#fb9d07 42.5%,#fbb61a 43.1%,#f6d543 43.6%,#f2eb6b 43.9%,#f6fb9e 44.2%,#f7fca3 44.5%,#f7fca3 54.1%,#f4e156 54.4%,#fbba1f 54.7%,#fb9b06 54.9%,#f47918 55.5%,#e8602d 56.4%,#cc4248 58.6%,#b3325a 60.9%,#801f6c 66.2%,#64156e 73%,#57106e 82.9%,#62146e 99.9%)"></i><i style="left:60px;background:linear-gradient(#b0315b 0.1%,#b0315b 1.6%,#7f1e6c 2.4%,#6a176e 3%,#5c126e 3.8%,#550f6d 4.9%,#550f6d 19.6%,#6f196e 25.8%,#982766 31.5%,#b63458 34.6%,#de5238 38%,#eb6628 40%,#f47918 41.1%,#fb9706 42.2%,#fcac11 42.8%,#f9c932 43.4%,#f4dd4f 43.6%,#f2f487 43.9%,#f7fca3 44.2%,#f7fca3 54.1%,#f3e35a 54.4%,#fbbc21 54.7%,#fb9b06 54.9%,#f47918 55.5%,#e25734 56.9%,#cc4248 58.9%,#ad305d 61.7%,#8c2369 65.1%,#65156e 73.3%,#59106e 82.3%,#64156e 99.9%)"></i><i style="left:62px;background:linear-gradient(#b0315b 0.1%,#b0315b 1.6%,#7f1e6c 2.4%,#6c186e 3%,#5d126e 3.8%,#57106e 4.9%,#57106e 19.4%,#721a6e 25.8%,#9a2865 31.2%,#c03a51 35.2%,#dd513a 37.7%,#ec6726 40%,#f57b17 41.1%,#fb9906 42.2%,#fcb014 42.8%,#f8cf3a 43.4%,#f2e966 43.6%,#f7fca3 43.9%,#f7fca3 54.1%,#f2e661 54.4%,#fbbe23 54.7%,#fb9d07 54.9%,#f8850f 55.2%,#f47918 55.5%,#ea632a 56.4%,#d84c3e 58.1%,#b1325a 61.7%,#8d2369 65.4%,#67166e 73.6%,#5a116e 82.1%,#67166e 99.9%)"></i><i style="left:64px;background:linear-gradient(#b1325a 0.1%,#b1325a 1.6%,#751b6e 2.7%,#62146e 3.5%,#5a116e 4.4%,#59106e 18.8%,#6d186e 24.7%,#9b2964 30.9%,#bd3853 34.6%,#d94d3d 37.1%,#ed6925 40%,#f57d15 41.1%,#fb9b06 42.2%,#fca60c 42.5%,#fac42a 43.1%,#f5d949 43.4%,#f3f892 43.6%,#f7fca3 43.9%,#f7fca3 54.1%,#f2e967 54.4%,#fac026 54.7%,#fb9d07 54.9%,#f8850f 55.2%,#f57b17 55.5%,#e55c30 56.9%,#b1325a 62%,#8f2469 65.7%,#741a6e 70.5%,#67166e 74.4%,#5a116e 86.9%,#69166e 99.9%)"></i><i style="left:66px;background:linear-gradient(#b1325a 0.1%,#b1325a 1.6%,#82206c 2.4%,#6d186e 3%,#5a116e 4.7%,#5a116e 18.5%,#721a6e 25%,#9b2964 30.4%,#bf3952 34.3%,#ea632a 39.4%,#f67e14 41.1%,#fb9d07 42.2%,#fbb81d 42.8%,#f9c932 43.1%,#f2eb6b 43.4%,#f7fca3 43.6%,#f7fca3 54.1%,#f1ed71 54.4%,#fac42a 54.7%,#fc9f07 54.9%,#f8870e 55.2%,#f57b17 55.5%,#e35933 57.2%,#b0315b 62.6%,#972766 65.1%,#7d1e6d 69.1%,#6d186e 72.7%,#61136e 79%,#5c126e 87.4%,#6a176e 99.9%)"></i><i style="left:68px;background:linear-gradient(#b3325a 0.1%,#b3325a 1.6%,#82206c 2.4%,#6f196e 3%,#5c126e 4.7%,#5c126e 18.2%,#751b6e 25%,#b93556 33.5%,#eb6429 39.4%,#f68013 41.1%,#fb9606 41.9%,#fcac11 42.5%,#fbbe23 42.8%,#f6d746 43.1%,#f6fb9e 43.4%,#f7fca3 43.6%,#f7fca3 54.1%,#f1f07a 54.4%,#fac62d 54.7%,#fc9f07 54.9%,#f8870e 55.2%,#f57b17 55.5%,#e75e2e 56.9%,#ae305c 63.1%,#982766 65.4%,#7c1d6d 69.9%,#62146e 79%,#5d126e 88%,#6d186e 99.9%)"></i><i style="left:70px;background:linear-gradient(#b43359 0.1%,#b43359 1.6%,#84206b 2.4%,#71196e 3%,#5d126e 4.7%,#5f136e 18.8%,#741a6e 24.4%,#ba3655 33.2%,#ed6925 39.7%,#f57b17 40.8%,#fb9706 41.9%,#fca309 42.2%,#fac62d 42.8%,#f1f07a 43.1%,#f7fca3 43.4%,#f7fca3 54.1%,#f1f383 54.4%,#f9c72f 54.7%,#fca108 54.9%,#f8870e 55.2%,#f57b17 55.5%,#e8602d 56.9%,#d44842 59.7%,#ae305c 63.4%,#7a1d6d 70.8%,#64156e 79%,#5f136e 88.6%,#6f196e 99.9%)"></i><i style="left:72px;background:linear-gradient(#b43359 0.1%,#b43359 1.6%,#7a1d6d 2.7%,#6c186e 3.2%,#61136e 4.4%,#61136e 17.9%,#771c6d 24.2%,#bc3754 32.9%,#ee6a24 39.4%,#f78212 40.8%,#fb9906 41.7%,#fca60c 41.9%,#f9c932 42.5%,#f1f383 42.8%,#f7fca3 43.1%,#f7fca3 54.1%,#f4f999 54.4%,#f6d543 54.7%,#fcac11 54.9%,#f98e09 55.2%,#f47918 55.8%,#eb6429 56.9%,#d94d3d 59.7%,#b1325a 63.7%,#7a1d6d 72.2%,#65156e 80.6%,#62146e 89.7%,#721a6e 99.9%)"></i><i style="left:74px;background:linear-gradient(#b63458 0.1%,#b63458 1.6%,#87216b 2.4%,#741a6e 3%,#61136e 4.9%,#64156e 18.2%,#7a1d6d 23.9%,#bd3853 32.6%,#ef6c23 39.1%,#f78410 40.5%,#fb9b06 41.4%,#fca80d 41.7%,#f8cf3a 42.2%,#f2f68b 42.5%,#f7fca3 42.8%,#f7fca3 54.4%,#f3e35a 54.7%,#fbb81d 54.9%,#fb9706 55.2%,#f8870e 55.5%,#f37819 56.1%,#e65d2f 58.1%,#c03a51 62.9%,#a32c61 66.2%,#7c1d6d 73.3%,#69166e 81.2%,#64156e 88.8%,#741a6e 96.2%,#741a6e 99.9%)"></i><i style="left:76px;background:linear-gradient(#b73557 0.1%,#b73557 1.6%,#88226a 2.4%,#771c6d 3%,#64156e 4.7%,#65156e 17.4%,#7d1e6d 23.6%,#bf3952 32.3%,#eb6429 38%,#f47918 39.7%,#fa9407 40.8%,#fc9f07 41.1%,#fbbe23 41.7%,#f7d340 41.9%,#f3f78f 42.2%,#f7fca3 42.5%,#f7fca3 54.4%,#f1f07a 54.7%,#fac62d 54.9%,#fca108 55.2%,#f98c0a 55.5%,#f57d15 56.1%,#e9612b 58.1%,#cc4248 62%,#a82e5f 66.5%,#85216b 72.5%,#6a176e 82.6%,#67166e 90.3%,#771c6d 96.5%,#771c6d 99.9%)"></i><i style="left:78px;background:linear-gradient(#b93556 0.1%,#b93556 1.6%,#8c2369 2.4%,#781c6d 3%,#65156e 4.7%,#67166e 16.8%,#801f6c 23.3%,#c03a51 32.1%,#eb6628 37.7%,#f3761b 39.1%,#fb9606 40.5%,#fcae12 41.1%,#fac228 41.4%,#f5d949 41.7%,#f4f996 41.9%,#f7fca3 42.2%,#f7fca3 54.4%,#f3f893 54.7%,#f7d13d 54.9%,#fcac11 55.2%,#fa9407 55.5%,#f3761b 56.6%,#ea632a 58.3%,#cc4248 62.6%,#ad305d 66.8%,#87216b 73.6%,#6d186e 82.9%,#69166e 89.1%,#7a1d6d 96.5%,#7a1d6d 99.9%)"></i><i style="left:80px;background:linear-gradient(#ba3655 0.1%,#ba3655 1.6%,#82206c 2.7%,#741a6e 3.2%,#69166e 4.4%,#67166e 15.1%,#7a1d6d 21.3%,#a52c60 28.1%,#c13a50 31.8%,#eb6429 37.1%,#f68013 39.4%,#fb9606 40.3%,#fca309 40.5%,#fac62d 41.1%,#f4dd4f 41.4%,#f5fa9c 41.7%,#f7fca3 41.9%,#f7fca3 54.7%,#f4df53 54.9%,#fbb61a 55.2%,#fb9b06 55.5%,#f68013 56.4%,#ef6c23 57.8%,#cf4446 62.9%,#b0315b 67.4%,#87216b 75%,#6f196e 84.3%,#6c186e 90.8%,#7d1e6d 96.8%,#7d1e6d 99.9%)"></i><i style="left:82px;background:linear-gradient(#bc3754 0.1%,#bc3754 1.6%,#84206b 2.7%,#6f196e 3.8%,#67166e 5.8%,#69166e 14.5%,#7d1e6d 21%,#bc3754 30.6%,#e8602d 36.3%,#f57d15 38.8%,#fb9706 40%,#fca50a 40.3%,#f9c932 40.8%,#f3e35a 41.1%,#f6fb9e 41.4%,#f7fca3 41.7%,#f7fca3 54.7%,#f1ec70 54.9%,#fac228 55.2%,#fca309 55.5%,#fa9407 55.8%,#f1711f 57.8%,#da4e3c 62%,#c43c4e 65.1%,#a52c60 70.2%,#82206c 77.8%,#6f196e 86.6%,#6f196e 91.7%,#7f1e6c 96.2%,#801f6c 99.9%)"></i><i style="left:84px;background:linear-gradient(#bd3853 0.1%,#bd3853 1.6%,#85216b 2.7%,#71196e 3.8%,#69166e 6.4%,#6a176e 14.3%,#7f1e6c 20.5%,#bd3853 30.4%,#de5238 34.3%,#f1731d 37.7%,#f8890c 39.1%,#fb9906 39.7%,#fca80d 40%,#f8cd37 40.5%,#f2e661 40.8%,#f7fba1 41.1%,#f7fca3 54.7%,#f2f68b 54.9%,#f8cf3a 55.2%,#fcac11 55.5%,#fb9906 55.8%,#f57d15 57.2%,#e55c30 60.9%,#d34743 63.7%,#b73557 68.2%,#8d2369 76.1%,#741a6e 85.5%,#71196e 91.4%,#82206c 96.5%,#82206c 99.9%)"></i><i style="left:86px;background:linear-gradient(#bf3952 0.1%,#bf3952 1.6%,#87216b 2.7%,#721a6e 3.8%,#6c186e 5.2%,#6c186e 13.7%,#82206c 20.2%,#a92e5e 27.3%,#c13a50 30.4%,#f1711f 37.1%,#f78410 38.6%,#fb9b06 39.4%,#fbbc21 40%,#f7d13d 40.3%,#f2eb6c 40.5%,#f7fca3 40.8%,#f7fca3 54.7%,#f6fb9e 54.9%,#f5db4c 55.2%,#fbb61a 55.5%,#fca108 55.8%,#fb9706 56.1%,#f37819 58.1%,#db503b 63.1%,#a62d60 72.2%,#87216b 79.2%,#741a6e 87.4%,#741a6e 92.2%,#85216b 96.5%,#85216b 99.9%)"></i><i style="left:88px;background:linear-gradient(#c03a51 0.1%,#c03a51 1.6%,#88226a 2.7%,#721a6e 4.1%,#6d186e 13.1%,#84206b 19.6%,#a62d60 26.1%,#c03a51 29.8%,#de5238 33.5%,#f1731d 36.9%,#f8850f 38.3%,#fb9d07 39.1%,#fbbe23 39.7%,#f6d543 40%,#f1ed71 40.3%,#f7fca3 40.5%,#f7fca3 54.9%,#f2e966 55.2%,#fac026 55.5%,#fca60c 55.8%,#fb9b06 56.1%,#f78212 57.5%,#de5238 63.4%,#a92e5e 72.7%,#8d2369 78.7%,#751b6e 88.6%,#751b6e 91.9%,#88226a 96.5%,#88226a 99.9%)"></i><i style="left:90px;background:linear-gradient(#c13a50 0.1%,#c13a50 1.6%,#8c2369 2.7%,#771c6d 3.8%,#6f196e 5.8%,#6f196e 12.9%,#9b2964 23.3%,#c13a50 29.5%,#da4e3c 32.6%,#f3761b 36.9%,#f98b0b 38.3%,#fb9d07 38.8%,#fcac11 39.1%,#f6d543 39.7%,#f1ed71 40%,#f7fba1 40.3%,#f7fca3 54.9%,#f1f383 55.2%,#f9cb35 55.5%,#fcac11 55.8%,#fb9906 56.4%,#f78410 57.8%,#e25734 63.4%,#ae305c 73%,#922568 78.7%,#781c6d 88%,#771c6d 91.7%,#8c2369 96.8%,#8c2369 99.9%)"></i><i style="left:92px;background:linear-gradient(#c83f4b 0.1%,#c83f4b 1.6%,#952667 2.7%,#7f1e6c 4.1%,#781c6d 13.1%,#9f2a63 22.2%,#c63d4d 29%,#e9612b 34%,#f78212 37.1%,#fb9906 38.3%,#fca309 38.6%,#fac42a 39.1%,#f5d949 39.4%,#f6fb9e 40%,#f7fca3 40.3%,#f7fca3 55.2%,#f2eb6b 55.5%,#fac42a 55.8%,#fca80d 56.1%,#fb9906 56.6%,#f8850f 57.8%,#e35933 63.4%,#b63458 72.2%,#932667 79.2%,#7d1e6d 88.3%,#7d1e6d 91.9%,#952667 96.8%,#952667 99.9%)"></i><i style="left:94px;background:linear-gradient(#cf4446 0.1%,#cf4446 1.6%,#a82e5f 2.4%,#8c2369 3.8%,#82206c 6.4%,#801f6c 12.3%,#a02a63 20.8%,#ca404a 28.4%,#ef6e21 34.6%,#fb9706 37.7%,#fcaa0f 38.3%,#fbb81d 38.6%,#f5db4c 39.1%,#f6fb9e 39.7%,#f7fca3 40%,#f7fca3 55.5%,#f4e156 55.8%,#fbbc21 56.1%,#fca60c 56.4%,#fb9706 56.9%,#f67e14 58.6%,#e35933 63.7%,#ce4347 67.9%,#b1325a 73.6%,#922568 80.6%,#82206c 88.3%,#82206c 91.4%,#a02a63 97%,#a02a63 99.9%)"></i><i style="left:96px;background:linear-gradient(#d54a41 0.1%,#d54a41 1.6%,#a92e5e 2.7%,#932667 4.1%,#8a226a 7.8%,#8a226a 12.9%,#a62d60 20.2%,#cc4248 27.5%,#ea632a 32.6%,#f57b17 35.2%,#fb9706 37.1%,#fca80d 37.7%,#fac026 38.3%,#f4df53 38.8%,#f5fa9c 39.4%,#f7fca3 39.7%,#f7fca3 55.5%,#f4f996 55.8%,#f6d746 56.1%,#fbb61a 56.4%,#fca50a 56.6%,#fb9d07 56.9%,#f68013 58.6%,#e9612b 62.6%,#ce4347 68.2%,#b3325a 73.6%,#932667 81.2%,#87216b 88.3%,#8a226a 92.2%,#a82e5f 96.8%,#a92e5e 99.9%)"></i><i style="left:98px;background:linear-gradient(#db503b 0.1%,#db503b 1.6%,#b3325a 2.7%,#9d2964 4.1%,#952667 6.1%,#922568 11.7%,#ad305d 19.6%,#d34743 27.3%,#f06f20 33.2%,#fb9706 36.6%,#fca60c 37.1%,#fac62d 38%,#f3e35a 38.6%,#f5fa9c 39.1%,#f7fca3 39.4%,#f7fca3 55.8%,#f1f383 56.1%,#f8cd37 56.4%,#fcb014 56.6%,#fb9b06 57.2%,#f78212 58.6%,#ea632a 62.6%,#cf4446 68.2%,#b93556 72.7%,#982766 80.6%,#8c2369 87.7%,#8d2369 91.7%,#b3325a 97.3%,#b3325a 99.9%)"></i><i style="left:100px;background:linear-gradient(#e15635 0.1%,#e15635 1.6%,#c43c4e 2.4%,#b0315b 3.2%,#a22b62 4.9%,#9b2964 13.1%,#bf3952 21.6%,#da4e3c 27.3%,#f06f20 32.3%,#fb9906 36%,#fca50a 36.6%,#fac228 37.4%,#f5d949 38%,#f5fa9c 38.8%,#f7fca3 39.1%,#f7fca3 56.1%,#f2eb6c 56.4%,#fac62d 56.6%,#fcac11 56.9%,#fb9906 57.5%,#f78410 58.6%,#f2741c 60.3%,#cf4446 68.5%,#b0315b 75.3%,#952667 83.2%,#922568 91.4%,#bd3853 97.6%,#bd3853 99.9%)"></i><i style="left:102px;background:linear-gradient(#e75e2e 0.1%,#e75e2e 1.6%,#ce4347 2.4%,#c13a50 3%,#a92e5e 5.5%,#a02a63 13.4%,#c63d4d 22.5%,#df5337 27.8%,#f57d15 33.8%,#fb9b06 36%,#fca80d 36.6%,#f9c72f 37.4%,#f4e156 38%,#f3f78f 38.6%,#f7fca3 38.8%,#f7fca3 56.1%,#f7fba1 56.4%,#f4e156 56.6%,#fac026 56.9%,#fcaa0f 57.2%,#fb9706 57.8%,#f37819 60%,#d04545 68.5%,#ad305d 76.7%,#972766 84.3%,#982766 91.9%,#c43c4e 97.3%,#c63d4d 99.9%)"></i><i style="left:104px;background:linear-gradient(#ec6726 0.1%,#ec6726 1.6%,#d24644 2.7%,#ba3655 4.4%,#a52c60 10.6%,#a82e5f 14.8%,#da4e3c 26.4%,#f47918 33.2%,#fb9906 35.7%,#fca60c 36.3%,#fac228 37.1%,#f5d949 37.7%,#f5fa9c 38.6%,#f7fca3 38.8%,#f7fca3 56.4%,#f3f893 56.6%,#f5d949 56.9%,#fbba1f 57.2%,#fca60c 57.5%,#fb9d07 57.8%,#f8890c 58.6%,#f2741c 60.6%,#d24644 68.5%,#b63458 75%,#9a2865 84.3%,#9d2964 91.9%,#ce4347 97.6%,#cf4446 99.9%)"></i><i style="left:106px;background:linear-gradient(#f1711f 0.1%,#f1711f 1.6%,#d54a41 3%,#c13a50 4.7%,#a92e5e 10.6%,#ab2f5e 14.5%,#df5337 27%,#f3761b 32.6%,#fb9b06 35.7%,#fcb216 36.6%,#f9c72f 37.1%,#f4e156 37.7%,#f3f892 38.3%,#f7fca3 38.6%,#f7fca3 56.6%,#f1f383 56.9%,#f7d13d 57.2%,#fcb418 57.5%,#fca50a 57.8%,#fb9b06 58.1%,#f98c0a 58.6%,#f37819 60.3%,#d24644 68.8%,#b63458 75.6%,#9d2964 84.6%,#a22b62 91.9%,#bd3853 95.3%,#d74b3f 97.9%,#d74b3f 99.9%)"></i><i style="left:108px;background:linear-gradient(#f57b17 0.1%,#f57b17 1.6%,#da4e3c 3.2%,#c63d4d 5.2%,#ad305d 11.2%,#b63458 16.2%,#d04545 23%,#e55c30 28.1%,#f47918 32.9%,#fb9906 35.5%,#fcae12 36.3%,#f8cd37 37.1%,#f2e762 37.7%,#f5fa9c 38.3%,#f7fca3 38.6%,#f7fca3 56.9%,#f2eb6c 57.2%,#f9c932 57.5%,#fcb014 57.8%,#fb9906 58.3%,#f98b0b 58.9%,#f2741c 60.9%,#d34743 68.8%,#bc3754 74.4%,#a02a63 84.3%,#a62d60 91.9%,#c03a51 95.1%,#de5238 98.2%,#de5238 99.9%)"></i><i style="left:110px;background:linear-gradient(#f8850f 0.1%,#f8850f 1.6%,#ea632a 2.7%,#de5238 3.5%,#ca404a 5.8%,#b1325a 10.9%,#b63458 15.4%,#d34743 23%,#e75e2e 28.1%,#f57b17 32.9%,#fb9b06 35.5%,#fcaa0f 36%,#f9c932 36.9%,#f4e156 37.4%,#f3f892 38%,#f7fca3 38.3%,#f7fca3 56.9%,#f7fca1 57.2%,#f3e35a 57.5%,#fac42a 57.8%,#fcac11 58.1%,#fb9706 58.6%,#f8850f 59.5%,#f1711f 61.4%,#d34743 69.1%,#bc3754 75%,#a32c61 84.3%,#ad305d 92.5%,#bf3952 94.5%,#e15635 97.9%,#e55c30 99.9%)"></i><i style="left:112px;background:linear-gradient(#f68013 0.1%,#f68013 1.6%,#e15635 3%,#cb4149 4.9%,#b0315b 11.2%,#b63458 15.4%,#db503b 25.3%,#f47918 32.6%,#fb9d07 35.5%,#fcb418 36.3%,#f9c932 36.9%,#f4e156 37.4%,#f3f78f 38%,#f7fca3 38.3%,#f7fca3 56.9%,#f5fa9c 57.2%,#f4df53 57.5%,#fac228 57.8%,#fcaa0f 58.1%,#fb9606 58.6%,#f1731d 61.2%,#d44842 68.8%,#bd3853 74.4%,#a22b62 85.2%,#a92e5e 92.2%,#c13a50 95.1%,#df5337 98.2%,#e05536 99.9%)"></i><i style="left:114px;background:linear-gradient(#f47918 0.1%,#f47918 1.6%,#e65d2f 2.4%,#d84c3e 3.2%,#c03a51 6.1%,#ae305c 13.1%,#c73e4c 19.9%,#d94d3d 24.7%,#ec6726 29.8%,#f78212 33.5%,#fb9906 35.2%,#fcac11 36%,#f9c932 36.9%,#f4e156 37.4%,#f3f78f 38%,#f7fca3 38.3%,#f7fca3 56.9%,#f5f999 57.2%,#f4dd4f 57.5%,#fbbe23 57.8%,#fca80d 58.1%,#fb9d07 58.3%,#f78410 59.5%,#ef6c23 62%,#d74b3f 68.2%,#bc3754 74.7%,#a22b62 84%,#a32c61 90.3%,#a92e5e 92.8%,#d94d3d 98.2%,#da4e3c 99.9%)"></i><i style="left:116px;background:linear-gradient(#f1731d 0.1%,#f1731d 1.6%,#d74b3f 3%,#c13a50 4.9%,#b0315b 10%,#b0315b 14%,#e15635 26.7%,#f57b17 32.6%,#fb9906 35.2%,#fcae12 36%,#f9c932 36.9%,#f4e156 37.4%,#f7fca1 38.3%,#f7fca3 38.6%,#f7fca3 56.9%,#f3f893 57.2%,#f5db4c 57.5%,#fbbc21 57.8%,#fca60c 58.1%,#fb9d07 58.3%,#f78410 59.5%,#ef6e21 61.7%,#d04545 69.4%,#c03a51 73.3%,#a32c61 82.9%,#a02a63 89.1%,#a52c60 92.2%,#d44842 98.2%,#d44842 99.9%)"></i><i style="left:118px;background:linear-gradient(#ef6e21 0.1%,#ef6e21 1.6%,#d04545 3%,#c03a51 4.4%,#ae305c 10%,#b0315b 14%,#cf4446 22.2%,#e35933 27.3%,#f67e14 32.9%,#fb9b06 35.2%,#fcae12 36%,#f9c932 36.9%,#f4df53 37.4%,#f2f68b 38%,#f6fb9e 38.3%,#f7fca3 38.6%,#f7fca3 56.9%,#f3f78f 57.2%,#f6d746 57.5%,#fbba1f 57.8%,#fca50a 58.1%,#fb9b06 58.3%,#f8870e 59.2%,#f06f20 61.4%,#d44842 68.5%,#c33b4f 72.5%,#a22b62 83.2%,#9f2a63 89.4%,#a32c61 92.5%,#ce4347 98.2%,#ce4347 99.9%)"></i><i style="left:120px;background:linear-gradient(#ec6726 0.1%,#ec6726 1.6%,#d04545 2.7%,#b93556 4.7%,#ae305c 8.6%,#ae305c 13.7%,#ce4347 21.9%,#e45a31 27.5%,#f78410 33.5%,#fb9b06 35.2%,#fcb014 36%,#f9cb35 36.9%,#f4df53 37.4%,#f5fa9c 38.3%,#f7fca3 38.6%,#f7fca3 56.9%,#f2f68b 57.2%,#f6d543 57.5%,#fbb61a 57.8%,#fca309 58.1%,#fb9906 58.3%,#f78212 59.5%,#f1711f 61.2%,#d74b3f 67.9%,#c13a50 72.7%,#a02a63 83.5%,#9d2964 89.7%,#a02a63 92.2%,#c63d4d 97.9%,#c73e4c 99.9%)"></i><i style="left:122px;background:linear-gradient(#ea632a 0.1%,#ea632a 1.6%,#d24644 2.4%,#c43c4e 3%,#b1325a 5.2%,#ae305c 14%,#df5337 26.4%,#f37819 32.1%,#fb9906 35.2%,#fcac11 36%,#fac62d 36.9%,#f5d949 37.4%,#f7fba1 38.6%,#f7fca3 38.8%,#f7fca3 56.9%,#f3e55d 57.2%,#fac42a 57.5%,#fcaa0f 57.8%,#fb9d07 58.1%,#f68013 59.5%,#f06f20 61.2%,#d44842 68.2%,#c33b4f 72.2%,#9b2964 85.7%,#9f2a63 92.2%,#c03a51 98.2%,#c03a51 99.9%)"></i><i style="left:124px;background:linear-gradient(#e8602d 0.1%,#e8602d 1.6%,#c33b4f 3%,#b0315b 5.2%,#ab2f5e 13.1%,#b1325a 15.1%,#d34743 23.6%,#e8602d 29%,#f78212 33.5%,#fb9b06 35.5%,#fcae12 36.3%,#f9c72f 37.1%,#f5db4c 37.7%,#f4f996 38.6%,#f7fca3 38.8%,#f7fca3 56.6%,#f2f487 56.9%,#f7d340 57.2%,#fbb61a 57.5%,#fca309 57.8%,#fb9906 58.1%,#f78212 59.2%,#ef6c23 61.4%,#c43c4e 71.6%,#9a2865 86%,#9b2964 91.9%,#b93556 97.9%,#b93556 99.9%)"></i><i style="left:126px;background:linear-gradient(#e65d2f 0.1%,#e65d2f 1.6%,#c03a51 3%,#ae305c 5.2%,#a92e5e 12.9%,#b1325a 15.4%,#cf4446 22.7%,#e55c30 28.4%,#f47918 32.6%,#fb9d07 35.7%,#fcb014 36.6%,#f9c932 37.4%,#f4dd4f 38%,#f4f999 38.8%,#f7fca3 39.1%,#f7fca3 56.6%,#f3e55d 56.9%,#fac42a 57.2%,#fca80d 57.5%,#fb9d07 57.8%,#f78410 58.9%,#f1711f 60.6%,#da4e3c 66.5%,#c13a50 72.2%,#9b2964 84%,#972766 88%,#9a2865 91.9%,#b1325a 97.6%,#b1325a 99.9%)"></i><i style="left:128px;background:linear-gradient(#e55c30 0.1%,#e55c30 1.6%,#c43c4e 2.7%,#b63458 3.5%,#ae305c 4.7%,#a82e5f 8.1%,#ad305d 14.5%,#e15635 27.5%,#f1731d 32.1%,#fb9b06 35.7%,#fcac11 36.6%,#fac228 37.4%,#f4df53 38.3%,#f6fb9e 39.1%,#f7fca3 39.4%,#f7fca3 56.4%,#f2f487 56.6%,#f7d340 56.9%,#fcb418 57.2%,#fca108 57.5%,#fb9706 57.8%,#f8850f 58.6%,#f06f20 60.6%,#d84c3e 66.8%,#c33b4f 71.6%,#a02a63 81.8%,#952667 87.4%,#972766 91.4%,#ab2f5e 99.9%)"></i><i style="left:130px;background:linear-gradient(#e35933 0.1%,#e35933 1.6%,#c13a50 2.7%,#b1325a 3.8%,#ab2f5e 4.9%,#a62d60 12%,#b1325a 16%,#d74b3f 25%,#e9612b 29.8%,#f68013 33.8%,#fb9d07 36%,#fcae12 36.9%,#f8cd37 38%,#f4e156 38.6%,#f3f78f 39.1%,#f7fca3 39.4%,#f7fca3 56.4%,#f3e55d 56.6%,#fac228 56.9%,#fca80d 57.2%,#fb9b06 57.5%,#f78410 58.6%,#ef6c23 60.9%,#c43c4e 71%,#932667 87.1%,#a32c61 99.9%)"></i><i style="left:132px;background:linear-gradient(#e15635 0.1%,#e15635 1.6%,#c63d4d 2.4%,#b93556 3%,#a92e5e 4.7%,#a52c60 11.7%,#ba3655 18.2%,#de5238 27%,#f06f20 32.1%,#fb9b06 36%,#fbb61a 37.4%,#f8cd37 38.3%,#f3e55d 38.8%,#f4f996 39.4%,#f7fca3 39.7%,#f7fca3 56.1%,#f2f487 56.4%,#f7d340 56.6%,#fcb216 56.9%,#fc9f07 57.2%,#fb9706 57.5%,#f57d15 58.9%,#f1711f 60%,#de5238 65.1%,#c03a51 71.9%,#922568 87.1%,#9b2964 99.9%)"></i><i style="left:134px;background:linear-gradient(#e05536 0.1%,#e05536 1.6%,#c33b4f 2.4%,#b63458 3%,#a82e5f 4.4%,#a52c60 12.9%,#bc3754 18.8%,#e25734 28.4%,#f1731d 32.6%,#fb9d07 36.3%,#fbb81d 37.7%,#f8cf3a 38.6%,#f2e661 39.1%,#f5fa9c 39.7%,#f7fca3 40%,#f7fca3 56.1%,#f3e55d 56.4%,#fac228 56.6%,#fca60c 56.9%,#fb9906 57.2%,#f67e14 58.6%,#ef6e21 60.3%,#dd513a 65.1%,#c13a50 71.3%,#922568 85.7%,#932667 99.9%)"></i><i style="left:136px;background:linear-gradient(#de5238 0.1%,#de5238 1.6%,#b93556 2.7%,#a62d60 4.1%,#a22b62 11.2%,#b3325a 17.4%,#dd513a 27.3%,#ef6e21 32.3%,#fb9b06 36.3%,#fcb418 37.7%,#f7d13d 38.8%,#f2e967 39.4%,#f7fca1 40%,#f7fca3 55.8%,#f1f383 56.1%,#f8cf3a 56.4%,#fcb014 56.6%,#fb9d07 56.9%,#f68013 58.3%,#ef6e21 60%,#df5337 64.3%,#c43c4e 70.2%,#8f2469 86.3%,#8d2369 99.9%)"></i><i style="left:138px;background:linear-gradient(#dd513a 0.1%,#dd513a 1.6%,#bf3952 2.4%,#b1325a 3%,#a32c61 4.4%,#a02a63 12.3%,#ba3655 19.6%,#df5337 28.4%,#f2741c 33.5%,#fb9b06 36.6%,#fca80d 37.4%,#fac228 38.6%,#f4e156 39.4%,#f3f78f 40%,#f7fca3 40.3%,#f7fca3 55.5%,#f5fa9c 55.8%,#f4df53 56.1%,#fbbc21 56.4%,#fca50a 56.6%,#fb9906 56.9%,#f57d15 58.3%,#ec6726 60.6%,#d34743 66.2%,#c13a50 70.2%,#8d2369 85.7%,#88226a 99.9%)"></i><i style="left:140px;background:linear-gradient(#db503b 0.1%,#db503b 1.6%,#b43359 2.7%,#a02a63 4.7%,#9f2a63 12.9%,#c13a50 21.9%,#e05536 29.2%,#ef6e21 33.2%,#fb9b06 36.9%,#fcaa0f 37.7%,#fac42a 38.8%,#f3e35a 39.7%,#f4f996 40.3%,#f7fca3 40.5%,#f7fca3 55.5%,#f1ed70 55.8%,#f9c932 56.1%,#fcac11 56.4%,#fb9b06 56.6%,#f57d15 58.1%,#ee6a24 59.7%,#c73e4c 68.2%,#ab2f5e 75%,#8c2369 85.2%,#84206b 99.9%)"></i><i style="left:142px;background:linear-gradient(#db503b 0.1%,#db503b 1.6%,#b3325a 2.7%,#a02a63 4.1%,#9d2964 13.1%,#ba3655 21%,#d94d3d 28.1%,#f06f20 33.8%,#f98c0a 36%,#fb9d07 37.1%,#fcaa0f 38%,#fac62d 39.1%,#f5d949 39.7%,#f5fa9c 40.5%,#f7fca3 40.8%,#f7fca3 55.2%,#f3f78f 55.5%,#f6d746 55.8%,#fbb81d 56.1%,#fca108 56.4%,#fb9606 56.6%,#f47918 58.1%,#ee6a24 59.5%,#d94d3d 64%,#c13a50 68.8%,#88226a 85.5%,#7f1e6c 99.9%)"></i><i style="left:144px;background:linear-gradient(#da4e3c 0.1%,#da4e3c 1.6%,#b1325a 2.7%,#9d2964 4.4%,#9a2865 12.3%,#a22b62 16%,#bf3952 22.7%,#df5337 29.8%,#ef6c23 33.8%,#f98c0a 36.3%,#fb9d07 37.4%,#fcb216 38.6%,#f9c72f 39.4%,#f4dd4f 40%,#f2f68b 40.5%,#f7fba1 40.8%,#f7fca3 54.9%,#f7fba1 55.2%,#f3e55d 55.5%,#fac42a 55.8%,#fca80d 56.1%,#fb9906 56.4%,#f3761b 58.1%,#eb6628 59.7%,#d84c3e 63.7%,#bd3853 69.1%,#84206b 86.3%,#7a1d6d 99.9%)"></i><i style="left:146px;background:linear-gradient(#d94d3d 0.1%,#d94d3d 1.6%,#b73557 2.4%,#a92e5e 3%,#9a2865 4.7%,#982766 12.9%,#b93556 22.2%,#df5337 30.4%,#ed6925 33.8%,#fb9906 37.4%,#fcae12 38.6%,#f9c932 39.7%,#f4e156 40.3%,#f3f893 40.8%,#f7fca3 41.1%,#f7fca3 54.9%,#f1f27e 55.2%,#f7d13d 55.5%,#fcb216 55.8%,#fc9f07 56.1%,#fa9407 56.4%,#f1731d 58.1%,#ea632a 59.7%,#cf4446 64.8%,#b93556 69.4%,#82206c 85.7%,#771c6d 99.9%)"></i><i style="left:148px;background:linear-gradient(#d84c3e 0.1%,#d84c3e 1.6%,#b63458 2.4%,#a62d60 3%,#9a2865 4.1%,#972766 13.4%,#b3325a 21.6%,#df5337 30.9%,#ee6a24 34.3%,#fb9b06 37.7%,#fcaa0f 38.6%,#fac42a 39.7%,#f3e55d 40.5%,#f1f383 40.8%,#f5fa9c 41.1%,#f7fca3 41.4%,#f7fca3 54.7%,#f4f996 54.9%,#f4dd4f 55.2%,#fbbe23 55.5%,#fca60c 55.8%,#fb9706 56.1%,#f37819 57.5%,#ea632a 59.5%,#d44842 63.4%,#bc3754 68.2%,#9f2a63 75.3%,#7d1e6d 86.6%,#721a6e 99.9%)"></i><i style="left:150px;background:linear-gradient(#d74b3f 0.1%,#d74b3f 1.6%,#ab2f5e 2.7%,#972766 4.4%,#932667 12.6%,#b0315b 21.6%,#d94d3d 30.1%,#ec6726 34.3%,#fa9008 37.1%,#fb9d07 38%,#fcb014 39.1%,#f9c72f 40%,#f4dd4f 40.5%,#f7fca3 41.4%,#f7fca3 54.7%,#f2eb6c 54.9%,#f9c932 55.2%,#fcae12 55.5%,#fb9b06 55.8%,#f8890c 56.4%,#f2741c 57.5%,#eb6429 58.9%,#d24644 63.4%,#bf3952 67.1%,#a32c61 73%,#7c1d6d 86%,#6d186e 99.9%)"></i><i style="left:152px;background:linear-gradient(#d54a41 0.1%,#d54a41 1.6%,#b3325a 2.4%,#a32c61 3%,#932667 4.7%,#922568 13.1%,#b1325a 22.7%,#d44842 29.5%,#eb6429 34.3%,#f98c0a 37.1%,#fb9d07 38.3%,#fcb216 39.4%,#f9c932 40.3%,#f4e156 40.8%,#f4f996 41.4%,#f7fca3 41.7%,#f7fca3 54.4%,#f2f487 54.7%,#f6d746 54.9%,#fbba1f 55.2%,#fca309 55.5%,#fa9407 55.8%,#f2741c 57.2%,#eb6429 58.6%,#d04545 63.1%,#bc3754 66.8%,#a02a63 73%,#781c6d 86%,#69166e 99.9%)"></i><i style="left:154px;background:linear-gradient(#d44842 0.1%,#d44842 1.6%,#a82e5f 2.7%,#932667 4.1%,#902568 13.7%,#ad305d 22.5%,#dd513a 31.8%,#ef6e21 35.5%,#fb9b06 38.3%,#fca80d 39.1%,#fac42a 40.3%,#f5d949 40.8%,#f2e762 41.1%,#f2f487 41.4%,#f6fb9e 41.7%,#f7fca3 41.9%,#f7fca3 54.1%,#f6fb9e 54.4%,#f3e35a 54.7%,#fac62d 54.9%,#fcaa0f 55.2%,#fb9906 55.5%,#f57b17 56.6%,#e9612b 58.6%,#bf3952 65.7%,#a02a63 72.2%,#751b6e 86%,#64156e 99.9%)"></i><i style="left:156px;background:linear-gradient(#d34743 0.1%,#d34743 1.6%,#ae305c 2.4%,#9f2a63 3%,#902568 4.4%,#8d2369 12.9%,#a82e5f 22.2%,#d84c3e 31.2%,#eb6429 34.9%,#f98b0b 37.4%,#fb9b06 38.6%,#fcb014 39.7%,#fac62d 40.5%,#f4dd4f 41.1%,#f3f78f 41.7%,#f7fca3 41.9%,#f7fca3 54.1%,#f1f27f 54.4%,#f7d340 54.7%,#fbb81d 54.9%,#fca108 55.2%,#fa9207 55.5%,#ef6e21 57.2%,#e9612b 58.3%,#d04545 62.3%,#bc3754 65.7%,#972766 74.2%,#6d186e 88%,#5f136e 99.9%)"></i><i style="left:158px;background:linear-gradient(#d24644 0.1%,#d24644 1.6%,#ad305d 2.4%,#9d2964 3%,#8d2369 4.7%,#8c2369 13.4%,#a52c60 22.2%,#d34743 30.6%,#e8602d 34.9%,#fb9906 38.6%,#fca60c 39.4%,#fac026 40.5%,#f6d543 41.1%,#f3e35a 41.4%,#f5fa9c 41.9%,#f7fca3 42.2%,#f7fca3 53.8%,#f6fb9e 54.1%,#f3e55d 54.4%,#f9c72f 54.7%,#fcac11 54.9%,#fb9906 55.2%,#f67e14 56.1%,#eb6429 57.8%,#d54a41 61.2%,#ba3655 65.4%,#982766 72.7%,#69166e 88.6%,#5a116e 99.9%)"></i><i style="left:160px;background:linear-gradient(#d04545 0.1%,#d04545 1.6%,#a22b62 2.7%,#8d2369 4.1%,#8a226a 14%,#a62d60 23.3%,#da4e3c 32.6%,#ea632a 35.5%,#f98c0a 38%,#fb9906 38.8%,#fcb418 40.3%,#f8cd37 41.1%,#f2e966 41.7%,#f2f68b 41.9%,#f7fca3 42.2%,#f7fca3 53.8%,#f2f487 54.1%,#f5d949 54.4%,#fbbc21 54.7%,#fca50a 54.9%,#fa9207 55.2%,#ef6c23 56.9%,#e65d2f 58.3%,#cf4446 61.7%,#b73557 65.4%,#982766 71.9%,#67166e 87.7%,#57106e 95.6%,#57106e 99.9%)"></i><i style="left:162px;background:linear-gradient(#cf4446 0.1%,#cf4446 1.6%,#a02a63 2.7%,#932667 3.2%,#8a226a 4.4%,#87216b 13.1%,#a22b62 23%,#d54a41 32.1%,#ea632a 35.7%,#f98e09 38.3%,#fb9b06 39.1%,#fcb014 40.3%,#fac62d 41.1%,#f4df53 41.7%,#f4f996 42.2%,#f7fca3 42.5%,#f7fca3 53.8%,#f2e966 54.1%,#f9c932 54.4%,#fcae12 54.7%,#fb9906 54.9%,#f37819 56.1%,#e65d2f 58.1%,#ca404a 62.3%,#b1325a 66.2%,#922568 73.6%,#62146e 89.1%,#550f6d 99.9%)"></i><i style="left:164px;background:linear-gradient(#ce4347 0.1%,#ce4347 1.6%,#a82e5f 2.4%,#972766 3%,#87216b 4.7%,#85216b 13.7%,#9f2a63 23%,#da4e3c 33.5%,#ea632a 36%,#f98b0b 38.3%,#fb9d07 39.4%,#fcaa0f 40.3%,#f9c932 41.4%,#f3e55d 41.9%,#f6fb9e 42.5%,#f7fca3 42.8%,#f7fca3 53.5%,#f2f68b 53.8%,#f5d949 54.1%,#fbba1f 54.4%,#fca108 54.7%,#f8870e 55.2%,#ec6726 56.9%,#d44842 60.6%,#bc3754 64.3%,#9a2865 70.8%,#69166e 86.3%,#57106e 93.9%,#540f6d 99.9%)"></i><i style="left:166px;background:linear-gradient(#cc4248 0.1%,#cc4248 1.6%,#a62d60 2.4%,#952667 3%,#85216b 4.7%,#84206b 13.7%,#9f2a63 23.6%,#d24644 32.1%,#e65d2f 35.7%,#f98c0a 38.6%,#fb9906 39.4%,#fcae12 40.5%,#fac62d 41.4%,#f4dd4f 41.9%,#f3f78f 42.5%,#f7fca3 42.8%,#f7fca3 53.5%,#f2e967 53.8%,#f9c72f 54.1%,#fcaa0f 54.4%,#fb9606 54.7%,#f3761b 55.8%,#e55c30 57.8%,#b93556 64.5%,#9a2865 70.5%,#6a176e 85.5%,#540f6d 95.1%,#520e6d 99.9%)"></i><i style="left:168px;background:linear-gradient(#cc4248 0.1%,#cc4248 1.6%,#9b2964 2.7%,#88226a 3.8%,#82206c 5.5%,#82206c 13.1%,#9b2964 23%,#d74b3f 33.2%,#ea632a 36.3%,#f98b0b 38.6%,#fb9d07 39.7%,#fcb418 40.8%,#f8cd37 41.7%,#f3e55d 42.2%,#f4f999 42.8%,#f7fca3 43.1%,#f7fca3 53.2%,#f3f892 53.5%,#f5d949 53.8%,#fbb81d 54.1%,#fb9d07 54.4%,#f98e09 54.7%,#f37819 55.5%,#e75e2e 57.2%,#ce4347 61.2%,#b63458 64.8%,#932667 71.9%,#67166e 86%,#520e6d 95.3%,#510e6c 99.9%)"></i><i style="left:170px;background:linear-gradient(#cb4149 0.1%,#cb4149 1.6%,#a52c60 2.4%,#932667 3%,#82206c 4.9%,#82206c 14%,#9b2964 23.3%,#d34743 32.6%,#e9612b 36.3%,#f98c0a 38.8%,#fb9b06 39.7%,#fcac11 40.5%,#f9cb35 41.7%,#f4e156 42.2%,#f7fba1 43.1%,#f7fca3 53.2%,#f2eb6c 53.5%,#f9c72f 53.8%,#fca60c 54.1%,#fa9207 54.4%,#f06f20 55.8%,#e25734 57.8%,#c43c4e 62.3%,#b0315b 65.7%,#952667 71%,#61136e 87.7%,#510e6c 95.6%,#510e6c 99.9%)"></i><i style="left:172px;background:linear-gradient(#cb4149 0.1%,#cb4149 1.6%,#9a2865 2.7%,#8d2369 3.2%,#82206c 4.7%,#801f6c 13.7%,#9d2964 23.9%,#d74b3f 33.5%,#e65d2f 36%,#fb9906 39.7%,#fcaa0f 40.5%,#f9c932 41.7%,#f4dd4f 42.2%,#f5f999 43.1%,#f7fca3 43.4%,#f7fca3 53%,#f4f996 53.2%,#f5d949 53.5%,#fbb61a 53.8%,#fb9906 54.1%,#f3761b 55.2%,#e8602d 56.6%,#ba3655 63.7%,#952667 70.8%,#65156e 85.7%,#510e6c 94.8%,#4f0d6c 99.9%)"></i><i style="left:174px;background:linear-gradient(#cb4149 0.1%,#cb4149 1.6%,#b0315b 2.1%,#922568 3%,#801f6c 4.9%,#801f6c 14%,#9a2865 23.3%,#d24644 32.6%,#e8602d 36.3%,#fb9906 39.7%,#fcb014 40.8%,#f7d13d 41.9%,#f5db4c 42.2%,#f1f07a 42.8%,#f7fca3 43.4%,#f7fca3 53%,#f2f487 53.2%,#f8cf3a 53.5%,#fcac11 53.8%,#fa9407 54.1%,#f2741c 55.2%,#e55c30 56.9%,#ca404a 61.2%,#b3325a 64.8%,#902568 71.9%,#64156e 86%,#4f0d6c 95.3%,#4d0d6c 99.9%)"></i><i style="left:176px;background:linear-gradient(#cb4149 0.1%,#cb4149 1.6%,#b0315b 2.1%,#922568 3%,#801f6c 4.9%,#801f6c 14%,#9a2865 23.3%,#d24644 32.6%,#e8602d 36.3%,#fb9906 39.7%,#fcb014 40.8%,#f7d13d 41.9%,#f5db4c 42.2%,#f1f07a 42.8%,#f7fca3 43.4%,#f7fca3 53%,#f2f487 53.2%,#f8cf3a 53.5%,#fcac11 53.8%,#fa9407 54.1%,#f2741c 55.2%,#e55c30 56.9%,#ca404a 61.2%,#b3325a 64.8%,#902568 71.9%,#64156e 86%,#4f0d6c 95.3%,#4d0d6c 99.9%)"></i></div></div><div class="hm" style="left:242.2px;top:16.5px;width:122.6px;height:78px"><div style="left:-3px;top:-3px;width:128.6px;height:84px;filter:blur(0.8px)"><i style="left:0px;background:linear-gradient(#1016f4 0.3%,#0f11f2 99.7%)"></i><i style="left:2px;background:linear-gradient(#1016f4 0.3%,#0f11f2 99.7%)"></i><i style="left:4px;background:linear-gradient(#111af4 0.3%,#0f11f2 99.7%)"></i><i style="left:6px;background:linear-gradient(#1220f5 0.3%,#0f11f2 99.7%)"></i><i style="left:8px;background:linear-gradient(#1427f6 0.3%,#0f11f2 99.7%)"></i><i style="left:10px;background:linear-gradient(#1730f7 0.3%,#1016f4 48.5%,#0f11f2 99.7%)"></i><i style="left:12px;background:linear-gradient(#1d4bfa 0.3%,#1016f4 54.5%,#0f11f2 99.7%)"></i><i style="left:14px;background:linear-gradient(#2262fc 0.3%,#1016f4 60.4%,#0f12f2 99.7%)"></i><i style="left:16px;background:linear-gradient(#2574fe 0.3%,#2058fc 27.1%,#1016f4 68.8%,#0f12f2 99.7%)"></i><i style="left:18px;background:linear-gradient(#277fff 0.3%,#1e4ffb 49.7%,#1016f4 81.8%,#0f13f3 99.7%)"></i><i style="left:20px;background:linear-gradient(#2da9fd 0.3%,#2ca0fd 17.6%,#2266fd 40.2%,#1016f4 99.7%)"></i><i style="left:22px;background:linear-gradient(#35dae7 0.3%,#32d7fa 19.3%,#2eb2fc 31.2%,#2368fd 47.9%,#1528f6 99.7%)"></i><i style="left:24px;background:linear-gradient(#35c580 0.3%,#39d7a2 14.6%,#3ce1b4 18.8%,#32d7fa 33.6%,#2368fd 53.9%,#1b41f9 99.7%)"></i><i style="left:26px;background:linear-gradient(#41a323 0.3%,#28972a 14.6%,#3ce1b4 30.1%,#32d6fa 40.8%,#2368fd 59.2%,#1f54fb 99.7%)"></i><i style="left:28px;background:linear-gradient(#8fc522 0.3%,#8dc422 3.9%,#5aaf1e 9.2%,#289628 21.7%,#3ce1b5 34.2%,#32d7fa 46.1%,#2368fd 64.6%,#215efc 99.7%)"></i><i style="left:30px;background:linear-gradient(#9dca23 0.3%,#9ac923 3.9%,#5cb01e 9.8%,#299628 21.7%,#3ad8a3 31.8%,#3ce1b5 34.8%,#32d6fa 49.7%,#2369fd 69.3%,#2263fc 99.7%)"></i><i style="left:32px;background:linear-gradient(#67b41f 0.3%,#67b41f 3.3%,#299628 18.8%,#3ce1b7 31.2%,#32d7f9 49.7%,#2fbffb 57.4%,#2368fd 74.7%,#2265fd 99.7%)"></i><i style="left:34px;background:linear-gradient(#41a223 0.3%,#28972a 12.8%,#3bdfb0 27.7%,#38ddcd 31.2%,#32d6fa 47.3%,#2fbafc 61.6%,#2369fd 78.9%,#2266fd 99.7%)"></i><i style="left:36px;background:linear-gradient(#44a422 0.3%,#289628 14.6%,#31b867 22.3%,#3ce1b5 28.3%,#35dae4 32.4%,#32d7f9 40.8%,#2fbbfc 49.7%,#2eb1fc 66.4%,#2368fd 83%,#2367fd 99.7%)"></i><i style="left:38px;background:linear-gradient(#5cb01e 0.3%,#28972b 24.1%,#2dab4e 27.1%,#3bdfb0 32.4%,#32d5fa 39%,#2ca8fd 49.7%,#2daefc 67.6%,#2b9ffd 74.7%,#2369fd 86.6%,#2368fd 99.7%)"></i><i style="left:40px;background:linear-gradient(#8fc522 0.3%,#81bf21 8%,#289628 29.5%,#3ce1b5 37.2%,#32d7fa 43.2%,#2ca7fd 46.7%,#2a97fe 50.3%,#2ca3fd 73.5%,#236afd 90.2%,#2368fd 99.7%)"></i><i style="left:42px;background:linear-gradient(#bbd625 0.3%,#b1d224 8.6%,#90c522 18.8%,#2b9727 33.6%,#3bdfb0 41.4%,#32d4fa 46.7%,#2a95fe 50.3%,#2988ff 53.3%,#2b9afe 77.1%,#236afd 93.8%,#2369fd 99.7%)"></i><i style="left:44px;background:linear-gradient(#e1e528 0.3%,#d7e227 12.2%,#bad625 22.3%,#92c622 27.1%,#58ae1e 31.2%,#2a9728 38.4%,#3bddac 45.5%,#32d6fa 49.1%,#2a95fe 52.7%,#2881ff 58.6%,#2a90fe 81.2%,#246dfd 99.7%)"></i><i style="left:46px;background:linear-gradient(#f49c1f 0.3%,#f39d1f 3.9%,#e4db27 14%,#e1e628 23.5%,#c0d826 27.7%,#5aaf1e 35.4%,#289628 43.2%,#2eae55 45.5%,#3bdcaa 47.9%,#32d7fa 51.5%,#2a96fe 55.1%,#2881ff 61.6%,#2676fe 68.8%,#2886ff 85.4%,#2676fe 99.7%)"></i><i style="left:48px;background:linear-gradient(#d71c16 0.3%,#eb2a19 9.2%,#eeb121 20.5%,#e4da26 24.7%,#e1e628 28.3%,#59ae1e 40.2%,#28982b 46.7%,#3be0ba 50.9%,#32d7f8 53.9%,#2b98fe 58%,#2882ff 64.6%,#2574fe 76.5%,#2679fe 99.7%)"></i><i style="left:50px;background:linear-gradient(#891414 0.3%,#8b1414 3.9%,#c91514 12.2%,#eb2819 18.2%,#f5951e 25.3%,#e1e628 31.8%,#a3cd23 38.4%,#5aaf1e 44.3%,#28982b 49.1%,#3be0b9 53.3%,#32d7fa 56.8%,#2a95fe 61.6%,#2881ff 68.2%,#2470fe 83.6%,#2676fe 99.7%)"></i><i style="left:52px;background:linear-gradient(#7d1414 0.3%,#7e1414 4.5%,#c41414 14.6%,#ea2819 21.1%,#f5951e 29.5%,#dde428 37.2%,#cadd26 37.8%,#87c121 44.9%,#57ae1f 47.3%,#29982c 51.5%,#3ce1b3 55.7%,#32d7f9 59.8%,#2a96fe 64.6%,#2987ff 68.8%,#2571fe 85.4%,#2470fd 99.7%)"></i><i style="left:54px;background:linear-gradient(#c91514 0.3%,#d61c16 12.8%,#ea2719 17.6%,#f48e1e 26.5%,#f2a11f 33.6%,#dae327 42%,#b8d525 43.2%,#a2cc23 45.5%,#5db01e 49.1%,#29982c 53.9%,#3ce0b3 58.6%,#32d3fa 63.4%,#2b99fe 67.6%,#298cfe 70.5%,#2575fe 84.2%,#246ffd 99.7%)"></i><i style="left:56px;background:linear-gradient(#f3851d 0.3%,#f48c1e 12.8%,#e5d726 26.5%,#edb422 36%,#e2e127 44.9%,#dee528 45.5%,#abd024 46.7%,#59ae1e 51.5%,#299728 56.2%,#3bdeaf 61.6%,#32d7fa 66.4%,#2b9bfe 70.5%,#2a91fe 72.3%,#2676fe 85.4%,#2470fe 99.7%)"></i><i style="left:58px;background:linear-gradient(#acd024 0.3%,#dde528 21.7%,#d1df27 27.1%,#e2e328 46.7%,#dce428 47.3%,#9fcb23 49.1%,#5db01e 53.3%,#2d9927 58.6%,#28972a 59.2%,#3ce1b7 65.2%,#32d7fa 69.3%,#2a94fe 74.7%,#2679fe 86%,#2572fe 99.7%)"></i><i style="left:60px;background:linear-gradient(#60b21e 0.3%,#62b21f 3.9%,#a9cf24 22.3%,#a3cd23 27.1%,#b5d425 37.2%,#acd024 45.5%,#cede27 48.5%,#c1d926 49.7%,#92c622 51.5%,#59ae1e 55.7%,#289629 62.2%,#3ce1b6 68.2%,#32d7f7 72.3%,#2a95fe 77.7%,#298efe 79.5%,#2678fe 89%,#2575fe 99.7%)"></i><i style="left:62px;background:linear-gradient(#3fa223 0.3%,#6cb61f 26.5%,#90c522 37.8%,#99c923 49.7%,#a8cf24 51.5%,#5baf1e 57.4%,#289628 65.2%,#3be0b8 71.1%,#32d3fa 75.9%,#2a93fe 80.7%,#277cff 89%,#2678fe 99.7%)"></i><i style="left:64px;background:linear-gradient(#2a9e37 0.3%,#299628 6.8%,#5aaf1e 35.4%,#8ac322 50.9%,#85c021 54.5%,#5aaf1e 59.2%,#2d9927 67.6%,#28972a 68.2%,#3bdeae 73.5%,#32d7f9 78.3%,#2a94fe 83%,#2881ff 89%,#277bfe 99.7%)"></i><i style="left:66px;background:linear-gradient(#35c580 0.3%,#34c47e 3.9%,#299628 20.5%,#54ac1f 45.5%,#79bc20 53.3%,#40a223 67.6%,#289729 70.5%,#3ce0b2 76.5%,#32d7fa 80.7%,#2a94fe 85.4%,#277fff 99.7%)"></i><i style="left:68px;background:linear-gradient(#3adfbf 0.3%,#3ce1b5 6.8%,#31b867 21.7%,#2faf57 27.1%,#299628 34.2%,#42a323 45.5%,#68b51f 55.1%,#51aa20 66.4%,#28972a 72.9%,#3ce1b5 78.9%,#32d5fa 83%,#2a94fe 87.8%,#2885ff 99.7%)"></i><i style="left:70px;background:linear-gradient(#34d9e9 0.3%,#3ce1b6 19.9%,#39d69f 26.5%,#289628 44.3%,#53ac1f 53.9%,#58ae1e 64.6%,#29992e 75.3%,#3bdeaf 80.7%,#31d3fa 85.4%,#2a96fe 90.2%,#298bfe 99.7%)"></i><i style="left:72px;background:linear-gradient(#2fc1fb 0.3%,#32d7fa 11%,#38ddd0 27.1%,#3ce0b2 33.6%,#31b664 44.9%,#289628 48.5%,#48a622 54.5%,#56ad1f 64.6%,#4ca821 69.9%,#28972a 77.1%,#3be0b8 83%,#32d7f9 87.2%,#2fbcfc 89%,#2a95fe 94.9%,#2a93fe 99.7%)"></i><i style="left:74px;background:linear-gradient(#2b9ffd 0.3%,#32d7f8 27.1%,#3adaa6 44.9%,#299728 52.1%,#53ab1f 67.6%,#299628 78.3%,#3ce1b6 84.8%,#32d7fa 89.6%,#2da9fd 96.1%,#2ca8fd 99.7%)"></i><i style="left:76px;background:linear-gradient(#2881ff 0.3%,#2eb2fc 26.5%,#32d7f8 36.6%,#38ddd1 45.5%,#3ce0b2 47.9%,#289628 55.7%,#4da921 67.6%,#289628 79.5%,#3bdcab 86%,#37dcda 89%,#32d5fa 93.8%,#30c3fb 96.7%,#30c3fb 99.7%)"></i><i style="left:78px;background:linear-gradient(#246cfd 0.3%,#2a92fe 27.1%,#32d7f9 45.5%,#3ce1b6 50.9%,#31b868 55.1%,#299628 60.4%,#44a422 68.8%,#2a9728 80.1%,#3adfc1 89%,#33d8f3 96.1%,#33d8f4 99.7%)"></i><i style="left:80px;background:linear-gradient(#205cfc 0.3%,#2882ff 31.2%,#2daefc 44.9%,#32d5fa 48.5%,#3cdfb1 54.5%,#29982c 64%,#3a9f24 69.3%,#399e25 75.9%,#299628 80.7%,#3bdfb0 89.6%,#36dbdc 96.1%,#36dbde 99.7%)"></i><i style="left:82px;background:linear-gradient(#1e50fb 0.3%,#2882ff 41.4%,#2a90fe 45.5%,#31d1fa 51.5%,#3ce1b4 58.6%,#299b31 67.6%,#2f9927 70.5%,#289629 80.7%,#37d093 89%,#3ce1b3 92.6%,#39dec9 96.1%,#39decb 99.7%)"></i><i style="left:84px;background:linear-gradient(#1c45fa 0.3%,#277fff 46.7%,#32d4fa 55.1%,#3ce0b1 62.8%,#2da748 69.9%,#299628 74.1%,#28972a 79.5%,#3ce1b4 94.9%,#3be0bc 99.7%)"></i><i style="left:86px;background:linear-gradient(#193af8 0.3%,#277cff 49.7%,#32d7f9 59.8%,#3ce1b6 66.4%,#2fb15b 72.3%,#2a9f39 77.1%,#2da749 82.4%,#3bdeae 96.1%,#3bdfb0 99.7%)"></i><i style="left:88px;background:linear-gradient(#162ff7 0.3%,#2676fe 51.5%,#32d4fa 63.4%,#3ce1b7 69.9%,#31b868 75.3%,#2eac52 79.5%,#30b25d 83.6%,#3ad9a5 96.1%,#3adaa7 99.7%)"></i><i style="left:90px;background:linear-gradient(#1426f6 0.3%,#2574fe 55.1%,#298ffe 59.8%,#32d6fa 67.6%,#3ce1b3 73.5%,#34c37b 77.7%,#32ba6b 81.2%,#3ad8a3 96.1%,#3ad9a5 99.7%)"></i><i style="left:92px;background:linear-gradient(#121ff5 0.3%,#193af9 27.1%,#2572fe 59.2%,#2fbafc 68.8%,#33d8f6 71.1%,#3be0b8 76.5%,#35c885 82.4%,#3adba8 99.7%)"></i><i style="left:94px;background:linear-gradient(#1119f4 0.3%,#1d4afa 45.5%,#246efd 62.8%,#2a96fe 68.8%,#32d7f7 74.1%,#3ce1b4 80.7%,#39d59d 84.2%,#3bdeaf 99.7%)"></i><i style="left:96px;background:linear-gradient(#1016f4 0.3%,#1a3ff9 44.9%,#2369fd 65.8%,#2884ff 69.9%,#32d7f7 77.1%,#38ddcd 81.2%,#3ce1b6 85.4%,#3ce1b7 99.7%)"></i><i style="left:98px;background:linear-gradient(#1015f3 0.3%,#1323f6 30.1%,#1f53fb 61%,#2368fd 69.3%,#32d7f8 80.1%,#39dec6 87.2%,#3adfbf 99.7%)"></i><i style="left:100px;background:linear-gradient(#1014f3 0.3%,#121ef5 32.4%,#1e4ffb 64.6%,#236afd 72.3%,#32d7fa 83%,#38ddd3 89.6%,#39dec9 99.7%)"></i><i style="left:102px;background:linear-gradient(#0f13f3 0.3%,#111af4 35.4%,#1d4bfa 68.2%,#2575fe 76.5%,#32d7fa 86.6%,#36dbdc 93.2%,#37dcd6 99.7%)"></i><i style="left:104px;background:linear-gradient(#0f13f3 0.3%,#1016f4 37.8%,#1a3ef9 67.6%,#2161fc 76.5%,#32d7fa 90.8%,#35dae6 99.7%)"></i><i style="left:106px;background:linear-gradient(#0f13f2 0.3%,#1016f4 44.9%,#1835f8 68.8%,#1f54fb 77.1%,#30c6fb 92.6%,#32d7f9 99.7%)"></i><i style="left:108px;background:linear-gradient(#0f12f2 0.3%,#1016f4 50.9%,#152bf7 68.8%,#1d4cfb 78.3%,#2fbffb 96.1%,#2fc1fb 99.7%)"></i><i style="left:110px;background:linear-gradient(#0f12f2 0.3%,#1016f4 56.8%,#1323f6 68.8%,#1734f8 75.9%,#2ca7fd 96.1%,#2ca8fd 99.7%)"></i><i style="left:112px;background:linear-gradient(#0f12f2 0.3%,#111cf5 68.8%,#152cf7 76.5%,#298efe 96.1%,#2a90fe 99.7%)"></i><i style="left:114px;background:linear-gradient(#0f12f2 0.3%,#1016f4 69.3%,#1425f6 77.1%,#2679fe 96.1%,#267afe 99.7%)"></i><i style="left:116px;background:linear-gradient(#0f12f2 0.3%,#1016f4 73.5%,#2368fd 96.1%,#2369fd 99.7%)"></i><i style="left:118px;background:linear-gradient(#0f12f2 0.3%,#1016f4 76.5%,#2058fc 96.1%,#2059fc 99.7%)"></i><i style="left:120px;background:linear-gradient(#0f12f2 0.3%,#1016f4 78.9%,#1d4cfa 99.7%)"></i><i style="left:122px;background:linear-gradient(#0f12f2 0.3%,#1016f4 81.2%,#1a40f9 99.7%)"></i><i style="left:124px;background:linear-gradient(#0f12f2 0.3%,#1014f3 80.1%,#1835f8 99.7%)"></i><i style="left:126px;background:linear-gradient(#0f12f2 0.3%,#0f14f3 79.5%,#1732f7 99.7%)"></i><i style="left:128px;background:linear-gradient(#0f12f2 0.3%,#0f14f3 79.5%,#1732f7 99.7%)"></i></div></div><div class="hm" style="left:242.2px;top:109.4px;width:122.6px;height:78.4px"><div style="left:-3px;top:-3px;width:128.6px;height:84.4px;filter:blur(0.8px)"><i style="left:0px;background:linear-gradient(#0f13f3 0.3%,#1014f3 99.7%)"></i><i style="left:2px;background:linear-gradient(#0f13f3 0.3%,#1014f3 99.7%)"></i><i style="left:4px;background:linear-gradient(#0f13f3 0.3%,#1014f3 99.7%)"></i><i style="left:6px;background:linear-gradient(#0f14f3 0.3%,#1015f3 99.7%)"></i><i style="left:8px;background:linear-gradient(#0f14f3 0.3%,#1015f3 99.7%)"></i><i style="left:10px;background:linear-gradient(#1014f3 0.3%,#1015f4 99.7%)"></i><i style="left:12px;background:linear-gradient(#1015f3 0.3%,#1015f4 99.7%)"></i><i style="left:14px;background:linear-gradient(#1015f3 0.3%,#1016f4 99.7%)"></i><i style="left:16px;background:linear-gradient(#1015f4 0.3%,#1016f4 99.7%)"></i><i style="left:18px;background:linear-gradient(#1016f4 0.3%,#1016f4 99.7%)"></i><i style="left:20px;background:linear-gradient(#1017f4 0.3%,#1018f4 99.7%)"></i><i style="left:22px;background:linear-gradient(#111af4 0.3%,#1119f4 99.7%)"></i><i style="left:24px;background:linear-gradient(#121df5 0.3%,#111bf5 99.7%)"></i><i style="left:26px;background:linear-gradient(#1220f5 0.3%,#121cf5 99.7%)"></i><i style="left:28px;background:linear-gradient(#1323f6 0.3%,#121ef5 99.7%)"></i><i style="left:30px;background:linear-gradient(#1427f6 0.3%,#1220f5 99.7%)"></i><i style="left:32px;background:linear-gradient(#152bf7 0.3%,#1322f5 99.7%)"></i><i style="left:34px;background:linear-gradient(#1731f7 0.3%,#1427f6 99.7%)"></i><i style="left:36px;background:linear-gradient(#193af8 0.3%,#162ef7 59.5%,#1836f8 99.7%)"></i><i style="left:38px;background:linear-gradient(#1b43fa 0.3%,#1c46fa 99.7%)"></i><i style="left:40px;background:linear-gradient(#1d4dfb 0.3%,#1f54fb 99.7%)"></i><i style="left:42px;background:linear-gradient(#1f56fb 0.3%,#215dfc 99.7%)"></i><i style="left:44px;background:linear-gradient(#2160fc 0.3%,#2266fd 99.7%)"></i><i style="left:46px;background:linear-gradient(#236bfd 0.3%,#246ffd 99.7%)"></i><i style="left:48px;background:linear-gradient(#2678fe 0.3%,#2678fe 99.7%)"></i><i style="left:50px;background:linear-gradient(#2987ff 0.3%,#267afe 58.9%,#2989ff 75.4%,#2881ff 99.7%)"></i><i style="left:52px;background:linear-gradient(#2b9cfd 0.3%,#2881ff 58.9%,#2a93fe 75.4%,#2989ff 99.7%)"></i><i style="left:54px;background:linear-gradient(#2eb2fc 0.3%,#2ca2fd 48.2%,#2989ff 60.7%,#2b99fe 75.4%,#298dfe 99.7%)"></i><i style="left:56px;background:linear-gradient(#31cefb 0.3%,#2fbafc 48.2%,#2a95fe 64.2%,#2ca0fd 75.4%,#2a92fe 99.7%)"></i><i style="left:58px;background:linear-gradient(#35dae4 0.3%,#32d7fa 48.2%,#2ca0fd 67.2%,#2da9fd 75.4%,#2b98fe 99.7%)"></i><i style="left:60px;background:linear-gradient(#3be0be 0.3%,#37dcd8 48.2%,#32d7f9 58.3%,#2dacfd 69.5%,#2b9efd 99.7%)"></i><i style="left:62px;background:linear-gradient(#34c47d 0.3%,#3ce1b6 50.6%,#32d5fa 67.2%,#2fbafc 72.5%,#2ca5fd 99.7%)"></i><i style="left:64px;background:linear-gradient(#289628 0.3%,#30b563 48.2%,#3ce1b3 59.5%,#32d6fa 72.5%,#30c9fb 74.9%,#2dacfd 99.7%)"></i><i style="left:66px;background:linear-gradient(#52ab20 0.3%,#349c26 48.2%,#289628 52.4%,#36c988 63.6%,#3ce1b4 67.2%,#32d6fa 76.6%,#2eb5fc 99.7%)"></i><i style="left:68px;background:linear-gradient(#c9dc26 0.3%,#67b41f 48.2%,#299628 61.8%,#3cdfb1 72.5%,#34d9ef 78.4%,#2fbffb 99.7%)"></i><i style="left:70px;background:linear-gradient(#eeb322 0.3%,#e1e528 49.4%,#5aaf1e 59.5%,#2c9827 67.8%,#36cb8a 74.9%,#3ce0b2 76.6%,#36dbe1 80.2%,#32d7fa 90.2%,#30cafb 99.7%)"></i><i style="left:72px;background:linear-gradient(#f0621c 0.3%,#f0aa20 48.2%,#e2e328 58.3%,#9fcb23 63.6%,#57ad1f 67.2%,#289629 73.7%,#3ce0b2 79.6%,#37dcd8 82.5%,#32d6fa 99.7%)"></i><i style="left:74px;background:linear-gradient(#dd2017 0.3%,#eb2819 19.8%,#f0641c 48.2%,#e7cf25 63.6%,#e1e628 66%,#5baf1e 71.9%,#43a423 74.9%,#29982c 77.2%,#3ce0b3 82.5%,#39decc 84.3%,#34d9ee 99.7%)"></i><i style="left:76px;background:linear-gradient(#b21414 0.3%,#ea2819 49.4%,#f5971e 62.4%,#e1e528 70.7%,#84c021 74.9%,#5aaf1e 76%,#299a2f 80.2%,#3adba9 84.9%,#3adfc0 86.1%,#36dbe0 99.7%)"></i><i style="left:78px;background:linear-gradient(#821414 0.3%,#c81414 34.6%,#ea2719 55.3%,#f1681c 63.6%,#f5981e 67.2%,#e2e228 74.9%,#56ad1f 79%,#2a9728 82.5%,#3ce1b4 87.9%,#38ddd1 99.7%)"></i><i style="left:80px;background:linear-gradient(#7d1414 0.3%,#7d1414 9.8%,#c81414 42.3%,#ea2819 59.5%,#ed421a 63.6%,#f4991e 70.7%,#d8e227 77.8%,#59af1e 81.4%,#2d9827 84.9%,#3bdeae 90.2%,#3adfc2 99.7%)"></i><i style="left:82px;background:linear-gradient(#7d1414 0.3%,#c81414 37%,#eb2819 61.2%,#ec341a 63.6%,#f5971e 73.1%,#e2e328 79.6%,#5aaf1e 83.7%,#2c9827 87.3%,#39d6a0 92%,#3cdfb1 99.7%)"></i><i style="left:84px;background:linear-gradient(#be1414 0.3%,#eb2819 47%,#ed3d1a 60.7%,#ef521b 66%,#f5981e 74.3%,#dde428 82%,#57ae1f 86.1%,#2b9727 89.6%,#37cd8f 93.8%,#38d298 99.7%)"></i><i style="left:86px;background:linear-gradient(#ec381a 0.3%,#f5951e 50%,#f3801d 66%,#eeb222 77.8%,#e2e328 83.1%,#5aaf1e 87.9%,#289628 92%,#35c581 96.2%,#35c681 99.7%)"></i><i style="left:88px;background:linear-gradient(#efae21 0.3%,#e2e127 50%,#ecbb23 68.9%,#ebbe23 77.8%,#e5d626 82.5%,#e1e528 84.3%,#5aaf1e 89.6%,#399e25 92.6%,#299728 94.4%,#2eab50 96.7%,#2eab50 99.7%)"></i><i style="left:90px;background:linear-gradient(#9fcb23 0.3%,#50aa20 50%,#5aaf1e 54.1%,#b8d525 68.9%,#cadd26 74.9%,#e1e528 76.6%,#e3df27 83.1%,#e1e528 84.3%,#bfd825 86.7%,#58ae1e 91.4%,#309a26 96.2%,#2e9927 99.7%)"></i><i style="left:92px;background:linear-gradient(#359d25 0.3%,#289628 27.5%,#2da849 50%,#289628 56.5%,#51aa20 74.9%,#59ae1e 76%,#a9cf24 80.8%,#bbd625 83.7%,#a9cf24 87.9%,#58ae1e 92.6%,#43a323 96.2%,#41a223 99.7%)"></i><i style="left:94px;background:linear-gradient(#35c580 0.3%,#3ce0b2 50%,#2ba03a 74.9%,#299628 76%,#88c221 88.5%,#5aaf1e 93.2%,#4da821 99.7%)"></i><i style="left:96px;background:linear-gradient(#38ddcf 0.3%,#35dae7 50%,#3ce1b4 70.1%,#39d6a0 74.9%,#2a9728 82%,#57ae1f 89.6%,#51aa20 99.7%)"></i><i style="left:98px;background:linear-gradient(#32d4fa 0.3%,#2fc0fb 50%,#32d7f7 63.6%,#37dcd9 75.4%,#3bdeaf 79.6%,#299728 87.3%,#49a721 93.8%,#4ca821 99.7%)"></i><i style="left:100px;background:linear-gradient(#2daffc 0.3%,#2b9efd 50%,#32d5fa 76.6%,#3cdfb1 84.9%,#28982b 92%,#3da124 99.7%)"></i><i style="left:102px;background:linear-gradient(#298dfe 0.3%,#2880ff 50%,#2ca2fd 74.9%,#32d3fa 82%,#3ce1b5 89.1%,#2ba03a 96.2%,#2a9e36 99.7%)"></i><i style="left:104px;background:linear-gradient(#2575fe 0.3%,#246cfd 50%,#2882ff 74.9%,#32d7fa 87.3%,#3ce1b4 93.8%,#36ca8a 96.2%,#35c885 99.7%)"></i><i style="left:106px;background:linear-gradient(#2263fc 0.3%,#205cfc 50%,#246dfd 74.9%,#2b98fe 84.9%,#32d4fa 91.4%,#39decb 96.2%,#39dec8 99.7%)"></i><i style="left:108px;background:linear-gradient(#1f55fb 0.3%,#1e4ffb 50%,#215dfc 74.9%,#277cfe 84.9%,#32d7f7 96.2%,#33d8f5 99.7%)"></i><i style="left:110px;background:linear-gradient(#1d4bfa 0.3%,#1c47fa 50%,#1f57fb 74.9%,#246dfd 85.5%,#2eb3fc 96.2%,#2eb6fc 99.7%)"></i><i style="left:112px;background:linear-gradient(#1b43fa 0.3%,#1d4cfa 66.6%,#2265fd 84.9%,#2676fe 91.4%,#2a96fe 96.7%,#2a96fe 99.7%)"></i><i style="left:114px;background:linear-gradient(#1b41f9 0.3%,#1c44fa 59.5%,#1f54fb 77.8%,#277eff 99.7%)"></i><i style="left:116px;background:linear-gradient(#1a40f9 0.3%,#1b42fa 59.5%,#2575fe 99.7%)"></i><i style="left:118px;background:linear-gradient(#1a3ef9 0.3%,#1b41f9 59.5%,#246dfd 99.7%)"></i><i style="left:120px;background:linear-gradient(#1a3df9 0.3%,#1a3ff9 59.5%,#2367fd 99.7%)"></i><i style="left:122px;background:linear-gradient(#1a3cf9 0.3%,#1a3ef9 59.5%,#2262fc 99.7%)"></i><i style="left:124px;background:linear-gradient(#193bf9 0.3%,#1a3df9 59.5%,#215dfc 99.7%)"></i><i style="left:126px;background:linear-gradient(#193bf9 0.3%,#1a3df9 59.5%,#205cfc 99.7%)"></i><i style="left:128px;background:linear-gradient(#193bf9 0.3%,#1a3df9 59.5%,#205cfc 99.7%)"></i></div></div><div class="hm" style="left:242.2px;top:240.6px;width:123.8px;height:80.1px"><div style="left:-3px;top:-3px;width:129.8px;height:86.1px;filter:blur(0.8px)"><i style="left:0px;background:linear-gradient(#1016f4 0.3%,#0f11f2 99.7%)"></i><i style="left:2px;background:linear-gradient(#1016f4 0.3%,#0f11f2 99.7%)"></i><i style="left:4px;background:linear-gradient(#111af4 0.3%,#0f11f2 99.7%)"></i><i style="left:6px;background:linear-gradient(#1220f5 0.3%,#0f11f2 99.7%)"></i><i style="left:8px;background:linear-gradient(#1427f6 0.3%,#0f11f2 99.7%)"></i><i style="left:10px;background:linear-gradient(#1630f7 0.3%,#1016f4 48%,#0f11f2 99.7%)"></i><i style="left:12px;background:linear-gradient(#1d4afa 0.3%,#1016f4 54.4%,#0f11f2 99.7%)"></i><i style="left:14px;background:linear-gradient(#2161fc 0.3%,#1016f4 60.2%,#0f12f2 99.7%)"></i><i style="left:16px;background:linear-gradient(#2573fe 0.3%,#1016f4 67.7%,#0f12f2 99.7%)"></i><i style="left:18px;background:linear-gradient(#277eff 0.3%,#1e4efb 49.7%,#1016f4 80.5%,#0f13f3 99.7%)"></i><i style="left:20px;background:linear-gradient(#2ca4fd 0.3%,#2b9bfe 17.7%,#2265fd 39.8%,#1015f4 99.7%)"></i><i style="left:22px;background:linear-gradient(#34d9ee 0.3%,#31cffa 20.1%,#2367fd 47.4%,#1426f6 99.7%)"></i><i style="left:24px;background:linear-gradient(#37ce90 0.3%,#3be0b8 17.7%,#32d7fa 32.8%,#2368fd 53.2%,#1a3ef9 99.7%)"></i><i style="left:26px;background:linear-gradient(#3a9f24 0.3%,#28982b 12.5%,#2da94b 17.7%,#3ce1b4 29.4%,#32d7fa 39.8%,#2369fd 58.4%,#1e52fb 99.7%)"></i><i style="left:28px;background:linear-gradient(#86c121 0.3%,#83c021 3.8%,#59af1e 8.4%,#299628 21.2%,#3cdfb1 33.4%,#32d6fa 45.6%,#2368fd 63.7%,#215dfc 99.7%)"></i><i style="left:30px;background:linear-gradient(#a0cb23 0.3%,#9dca23 3.8%,#5aaf1e 10.2%,#299728 21.8%,#39d6a0 31.7%,#3ce1b4 34.6%,#32d7fa 49.1%,#2368fd 68.9%,#2263fc 99.7%)"></i><i style="left:32px;background:linear-gradient(#72b920 0.3%,#72b920 3.2%,#5aaf1e 6.1%,#289628 19.5%,#3ce0b2 31.1%,#32d6fa 50.3%,#236afd 73.5%,#2265fd 99.7%)"></i><i style="left:34px;background:linear-gradient(#46a522 0.3%,#289628 13.7%,#3cdfb1 28.2%,#39dec9 31.1%,#32d6fa 48%,#2fbafc 61.3%,#2369fd 78.2%,#2266fd 99.7%)"></i><i style="left:36px;background:linear-gradient(#40a223 0.3%,#289629 13.1%,#32bc6f 21.8%,#3ce1b6 27.6%,#36dbdc 31.1%,#32d7fa 42.2%,#2fbefb 49.7%,#2eb3fc 65.4%,#2368fd 82.3%,#2367fd 99.7%)"></i><i style="left:38px;background:linear-gradient(#57ae1f 0.3%,#299628 22.4%,#2eae54 26.5%,#3ce0b1 31.7%,#32d7fa 38.1%,#2daafd 50.3%,#2eb2fc 62.5%,#2ca8fd 71.2%,#2368fd 86.3%,#2368fd 99.7%)"></i><i style="left:40px;background:linear-gradient(#86c121 0.3%,#82bf21 4.9%,#2b9727 28.2%,#3ce1b5 36.3%,#31d3fa 42.7%,#2dacfd 46.2%,#2b99fe 50.3%,#2ca5fd 72.4%,#2369fd 89.8%,#2368fd 99.7%)"></i><i style="left:42px;background:linear-gradient(#b3d325 0.3%,#8bc322 17.2%,#2a9728 32.8%,#3bdeaf 40.4%,#32d4fa 46.2%,#2a95fe 49.7%,#298bfe 52%,#2b9bfe 77%,#2369fd 93.3%,#2369fd 99.7%)"></i><i style="left:44px;background:linear-gradient(#dbe328 0.3%,#cede27 11.9%,#b1d324 21.8%,#8cc322 26.5%,#5aaf1e 29.9%,#299728 37.5%,#3ce0b2 45.1%,#32d7fa 48.5%,#2a96fe 52%,#2881ff 57.8%,#2a92fe 80.5%,#236afd 99.7%)"></i><i style="left:46px;background:linear-gradient(#edb722 0.3%,#ecb922 3.8%,#e4dc27 9.6%,#dfe528 22.4%,#bcd725 27%,#59af1e 34.6%,#299628 42.2%,#2fb25c 45.1%,#3be0bb 48%,#31cdfb 51.5%,#2b98fe 54.4%,#2881ff 61.3%,#2678fe 67.2%,#2988ff 84.6%,#2574fe 99.7%)"></i><i style="left:48px;background:linear-gradient(#e42418 0.3%,#eb2a19 5.5%,#f5931e 15.4%,#e5d826 22.4%,#e0e528 27.6%,#5eb11e 38.7%,#29982c 46.2%,#3be0b9 50.3%,#31d0fa 53.8%,#2a94fe 57.8%,#2881ff 64.2%,#2574fe 74.7%,#2679fe 99.7%)"></i><i style="left:50px;background:linear-gradient(#991414 0.3%,#9b1414 3.8%,#c81414 9.6%,#ea2819 16.6%,#f5971e 24.1%,#e0e628 31.1%,#5aaf1e 43.3%,#28982b 48.5%,#3ce1b7 52.6%,#32d7f9 56.1%,#2a95fe 60.8%,#2882ff 67.2%,#2571fe 82.3%,#2677fe 99.7%)"></i><i style="left:52px;background:linear-gradient(#7d1414 0.3%,#7d1414 4.9%,#c81414 14.8%,#ea2719 20.6%,#f5971e 28.8%,#e1e528 35.8%,#d1df27 36.3%,#7bbc20 45.1%,#57ae1f 46.8%,#28972a 50.9%,#3ce1b3 54.9%,#31d0fa 59.6%,#2b98fe 63.7%,#2885ff 68.9%,#246ffd 87.5%,#2572fe 99.7%)"></i><i style="left:54px;background:linear-gradient(#ae1414 0.3%,#c81414 10.8%,#eb2819 19.5%,#f3801d 26.5%,#f1a720 34%,#e2e428 40.4%,#b8d525 42.2%,#99c923 45.6%,#5db01e 48.5%,#28972a 53.2%,#3ce0b2 57.8%,#32d4fa 62.5%,#2a95fe 67.2%,#298bfe 70.1%,#2574fe 84.6%,#246efd 99.7%)"></i><i style="left:56px;background:linear-gradient(#ef511b 0.3%,#f05e1b 12.5%,#eac123 26.5%,#efad21 35.8%,#e1e528 44.5%,#a9cf24 46.2%,#59af1e 50.9%,#299728 55.5%,#3bdeae 60.8%,#32d7f8 65.4%,#2a96fe 70.1%,#2a90fe 71.8%,#2676fe 85.2%,#2470fd 99.7%)"></i><i style="left:58px;background:linear-gradient(#c0d826 0.3%,#e1e628 15.4%,#e1e528 33.4%,#e7cf25 39.8%,#e2e127 46.2%,#dfe528 46.8%,#9fcb23 48.5%,#5fb11e 52.6%,#2e9927 57.8%,#289628 58.4%,#3ce1b6 64.2%,#31d1fa 68.9%,#2b9cfd 73%,#2a92fe 74.7%,#2678fe 86.3%,#2572fe 99.7%)"></i><i style="left:60px;background:linear-gradient(#76ba20 0.3%,#77bb20 3.8%,#b8d525 21.8%,#b4d425 43.9%,#d9e327 47.4%,#d1e027 48.5%,#94c622 50.9%,#5aaf1e 54.9%,#289628 61.3%,#3cdfb1 67.2%,#32d5fa 71.8%,#2b99fe 76.5%,#298cfe 79.4%,#2678fe 88.7%,#2574fe 99.7%)"></i><i style="left:62px;background:linear-gradient(#48a622 0.3%,#59af1e 13.1%,#7dbd21 21.8%,#7ebd21 27%,#98c823 35.8%,#9fcb23 48.5%,#b3d325 50.3%,#5eb01e 56.7%,#299628 64.2%,#3ce1b3 70.1%,#32d7f9 74.7%,#2a93fe 79.9%,#277cfe 88.7%,#2677fe 99.7%)"></i><i style="left:64px;background:linear-gradient(#2b9727 0.3%,#5aaf1e 31.7%,#8dc422 48.5%,#90c522 53.2%,#59ae1e 59%,#299728 67.2%,#3ce1b4 73%,#32d7f9 77.6%,#2a94fe 82.3%,#277fff 89.2%,#267afe 99.7%)"></i><i style="left:66px;background:linear-gradient(#31b969 0.3%,#31b868 3.8%,#289628 16%,#59ae1e 45.1%,#7ebe21 52.6%,#3a9f24 67.7%,#299a2f 70.1%,#3ce1b6 75.9%,#32d7f9 79.9%,#2a94fe 84.6%,#277eff 99.7%)"></i><i style="left:68px;background:linear-gradient(#3bdfaf 0.3%,#3bdeae 3.8%,#289729 30.5%,#47a522 45.1%,#6db71f 54.4%,#4ea920 66.6%,#29992e 72.4%,#3ce1b4 78.2%,#32d7fa 82.3%,#2a94fe 86.9%,#2883ff 99.7%)"></i><i style="left:70px;background:linear-gradient(#36dbdb 0.3%,#3ce1b4 16%,#36ca88 26.5%,#289628 41%,#58ae1e 54.4%,#56ad1f 65.4%,#299728 74.1%,#30b35e 77%,#3be0b9 80.5%,#32d5fa 84.6%,#2a95fe 89.2%,#2989ff 99.7%)"></i><i style="left:72px;background:linear-gradient(#31cefb 0.3%,#32d7f9 6.7%,#3adfc2 27%,#3cdfb1 30.5%,#2daa4d 45.1%,#299628 47.4%,#4ca821 54.4%,#57ae1f 64.2%,#4da921 69.5%,#289729 76.5%,#3ce1b5 82.3%,#31d2fa 86.9%,#2db1fc 89.2%,#2a96fe 93.3%,#2a90fe 99.7%)"></i><i style="left:74px;background:linear-gradient(#2daafd 0.3%,#32d6fa 19.5%,#34d9eb 27%,#3ce1b5 39.2%,#37cd8e 45.1%,#299728 50.9%,#42a323 56.1%,#54ac1f 66.6%,#29992d 78.2%,#3ce0b2 84%,#32d7fa 88.7%,#2ca0fd 96.2%,#2b9efd 99.7%)"></i><i style="left:76px;background:linear-gradient(#298bfe 0.3%,#2fbffb 26.5%,#32d7f9 32.8%,#3adfc1 45.6%,#3bdfb0 46.8%,#2a9728 54.4%,#4faa20 67.7%,#28982b 79.4%,#3ce0b2 85.8%,#35dae5 89.2%,#32d7fa 92.2%,#2fbbfc 96.2%,#2eb9fc 99.7%)"></i><i style="left:78px;background:linear-gradient(#2574fe 0.3%,#2b9efd 27%,#32d7fa 42.2%,#34d9ea 45.6%,#3ce1b6 49.7%,#2fb25c 54.4%,#28982b 58.4%,#48a622 67.7%,#299728 79.9%,#3ce1b4 87.5%,#39decb 89.2%,#32d7f8 95.6%,#32d3fa 99.7%)"></i><i style="left:80px;background:linear-gradient(#2161fc 0.3%,#2882ff 27.6%,#2fbcfc 45.1%,#32d6fa 47.4%,#3ce0b1 53.2%,#29982c 62.5%,#3ea124 69.5%,#299728 80.5%,#2faf57 84%,#3ce1b6 89.2%,#35dae4 96.2%,#35dae6 99.7%)"></i><i style="left:82px;background:linear-gradient(#1f55fb 0.3%,#2882ff 37.5%,#2b9afe 45.1%,#31d2fa 50.3%,#3ce1b6 56.7%,#28972b 66.6%,#339b26 70.1%,#28982b 81.1%,#3ce0b3 91.6%,#38ddd0 96.2%,#38ddd2 99.7%)"></i><i style="left:84px;background:linear-gradient(#1d49fa 0.3%,#2880ff 45.6%,#32d5fa 53.8%,#3bdfb0 61.3%,#2eab4f 67.7%,#299728 71.8%,#289628 79.9%,#3ce0b2 93.9%,#3adfc1 99.7%)"></i><i style="left:86px;background:linear-gradient(#1a3ef9 0.3%,#277eff 48.5%,#32d6fa 57.8%,#3ce1b6 64.8%,#2eab4f 71.8%,#29992e 77%,#2ca442 82.3%,#3ce1b4 96.2%,#3ce1b5 99.7%)"></i><i style="left:88px;background:linear-gradient(#1733f8 0.3%,#2679fe 50.9%,#32d6fa 61.9%,#3ce1b4 68.9%,#30b562 74.1%,#2ca747 78.8%,#2fae56 83.4%,#3adba8 96.2%,#3bdcaa 99.7%)"></i><i style="left:90px;background:linear-gradient(#152af7 0.3%,#2574fe 53.2%,#2a96fe 59%,#32d7fa 66%,#3ce1b7 71.8%,#33bf75 76.5%,#30b460 80.5%,#3ad8a3 96.2%,#3ad9a5 99.7%)"></i><i style="left:92px;background:linear-gradient(#1322f6 0.3%,#2058fb 45.1%,#2573fe 57.3%,#298dfe 61.9%,#31cdfb 68.9%,#3ce1b5 75.3%,#36ca8a 78.8%,#34c27a 81.7%,#3ad9a6 99.7%)"></i><i style="left:94px;background:linear-gradient(#111bf5 0.3%,#1f56fb 49.1%,#2470fe 61.3%,#2ca7fd 68.9%,#33d8f5 73%,#3ce1b6 78.8%,#37cf93 83.4%,#3bdcac 99.7%)"></i><i style="left:96px;background:linear-gradient(#1016f4 0.3%,#1b44fa 45.1%,#236bfd 64.2%,#2886ff 68.9%,#33d8f6 75.9%,#39dec6 80.5%,#3bdcab 85.2%,#3ce1b4 99.7%)"></i><i style="left:98px;background:linear-gradient(#1015f4 0.3%,#1425f6 28.8%,#1f55fb 59.6%,#246efd 68.9%,#32d7f7 78.8%,#3adfbf 86.3%,#3be0bb 99.7%)"></i><i style="left:100px;background:linear-gradient(#1014f3 0.3%,#1320f5 31.7%,#1e51fb 63.1%,#2263fc 70.1%,#32d7f9 81.7%,#38ddce 88.1%,#3adfc4 99.7%)"></i><i style="left:102px;background:linear-gradient(#0f14f3 0.3%,#111cf5 34%,#1d4dfb 66.6%,#246dfd 74.1%,#32d7f8 85.2%,#37dcd8 91.6%,#38ddcf 99.7%)"></i><i style="left:104px;background:linear-gradient(#0f13f3 0.3%,#1016f4 34%,#1a3ff9 65.4%,#215efc 74.7%,#32d7fa 88.7%,#36dbdd 99.7%)"></i><i style="left:106px;background:linear-gradient(#0f13f2 0.3%,#1016f4 41.6%,#193af8 68.3%,#205cfc 77%,#31d0fa 92.2%,#34d9ef 99.7%)"></i><i style="left:108px;background:linear-gradient(#0f13f2 0.3%,#1016f4 48%,#162ff7 68.3%,#1e50fb 77.6%,#30c3fb 94.5%,#31cdfb 99.7%)"></i><i style="left:110px;background:linear-gradient(#0f12f2 0.3%,#1016f4 53.2%,#1426f6 68.3%,#1837f8 75.3%,#2eb4fc 96.2%,#2eb5fc 99.7%)"></i><i style="left:112px;background:linear-gradient(#0f12f2 0.3%,#121ff5 68.9%,#1731f7 76.5%,#2b9bfe 96.2%,#2b9dfd 99.7%)"></i><i style="left:114px;background:linear-gradient(#0f12f2 0.3%,#1119f4 68.9%,#1529f6 77%,#2883ff 96.2%,#2885ff 99.7%)"></i><i style="left:116px;background:linear-gradient(#0f12f2 0.3%,#1016f4 71.2%,#152bf7 79.9%,#2571fe 96.2%,#2572fe 99.7%)"></i><i style="left:118px;background:linear-gradient(#0f12f2 0.3%,#1016f4 75.3%,#2161fc 96.2%,#2262fc 99.7%)"></i><i style="left:120px;background:linear-gradient(#0f12f2 0.3%,#1016f4 77.6%,#1f53fb 99.7%)"></i><i style="left:122px;background:linear-gradient(#0f12f2 0.3%,#1016f4 79.9%,#1c47fa 99.7%)"></i><i style="left:124px;background:linear-gradient(#0f12f2 0.3%,#1015f4 81.1%,#193bf9 99.7%)"></i><i style="left:126px;background:linear-gradient(#0f12f2 0.3%,#0f14f3 79.4%,#1732f7 99.7%)"></i><i style="left:128px;background:linear-gradient(#0f12f2 0.3%,#0f14f3 79.4%,#1732f7 99.7%)"></i></div></div><div class="hm" style="left:242.2px;top:333.4px;width:123.8px;height:79.1px"><div style="left:-3px;top:-3px;width:129.8px;height:85.1px;filter:blur(0.8px)"><i style="left:0px;background:linear-gradient(#0f13f3 0.3%,#1014f3 99.7%)"></i><i style="left:2px;background:linear-gradient(#0f13f3 0.3%,#1014f3 99.7%)"></i><i style="left:4px;background:linear-gradient(#0f13f3 0.3%,#1014f3 99.7%)"></i><i style="left:6px;background:linear-gradient(#0f14f3 0.3%,#1015f3 99.7%)"></i><i style="left:8px;background:linear-gradient(#0f14f3 0.3%,#1015f3 99.7%)"></i><i style="left:10px;background:linear-gradient(#1014f3 0.3%,#1015f4 99.7%)"></i><i style="left:12px;background:linear-gradient(#1015f3 0.3%,#1015f4 99.7%)"></i><i style="left:14px;background:linear-gradient(#1015f3 0.3%,#1016f4 99.7%)"></i><i style="left:16px;background:linear-gradient(#1015f4 0.3%,#1016f4 99.7%)"></i><i style="left:18px;background:linear-gradient(#1016f4 0.3%,#1016f4 99.7%)"></i><i style="left:20px;background:linear-gradient(#1017f4 0.3%,#1018f4 99.7%)"></i><i style="left:22px;background:linear-gradient(#111af4 0.3%,#1119f4 99.7%)"></i><i style="left:24px;background:linear-gradient(#121cf5 0.3%,#111bf5 99.7%)"></i><i style="left:26px;background:linear-gradient(#121ff5 0.3%,#121cf5 99.7%)"></i><i style="left:28px;background:linear-gradient(#1323f6 0.3%,#121ef5 99.7%)"></i><i style="left:30px;background:linear-gradient(#1426f6 0.3%,#1220f5 99.7%)"></i><i style="left:32px;background:linear-gradient(#152bf7 0.3%,#1322f5 99.7%)"></i><i style="left:34px;background:linear-gradient(#1630f7 0.3%,#1425f6 99.7%)"></i><i style="left:36px;background:linear-gradient(#1938f8 0.3%,#1734f8 99.7%)"></i><i style="left:38px;background:linear-gradient(#1b41f9 0.3%,#1b43fa 99.7%)"></i><i style="left:40px;background:linear-gradient(#1d4bfa 0.3%,#1e51fb 99.7%)"></i><i style="left:42px;background:linear-gradient(#1f54fb 0.3%,#205cfc 99.7%)"></i><i style="left:44px;background:linear-gradient(#215efc 0.3%,#2264fd 99.7%)"></i><i style="left:46px;background:linear-gradient(#2368fd 0.3%,#246dfd 99.7%)"></i><i style="left:48px;background:linear-gradient(#2575fe 0.3%,#2676fe 99.7%)"></i><i style="left:50px;background:linear-gradient(#2883ff 0.3%,#277fff 99.7%)"></i><i style="left:52px;background:linear-gradient(#2a97fe 0.3%,#2880ff 59.1%,#2a91fe 75%,#2988ff 99.7%)"></i><i style="left:54px;background:linear-gradient(#2dacfd 0.3%,#2b9cfd 47.9%,#2886ff 59.7%,#2b97fe 75%,#298cfe 99.7%)"></i><i style="left:56px;background:linear-gradient(#30c6fb 0.3%,#2eb3fc 47.9%,#2a92fe 63.2%,#2b9efd 75.6%,#2a91fe 99.7%)"></i><i style="left:58px;background:linear-gradient(#34d9ed 0.3%,#31cffa 47.9%,#2b9dfd 66.2%,#2ca6fd 75.6%,#2a96fe 99.7%)"></i><i style="left:60px;background:linear-gradient(#39deca 0.3%,#35dae2 47.9%,#32d7f8 55.6%,#2da9fd 69.1%,#2dadfc 82.1%,#2b9cfd 99.7%)"></i><i style="left:62px;background:linear-gradient(#37cf93 0.3%,#3adfc1 50.3%,#32d7fa 65%,#2eb6fc 71.5%,#2ca2fd 99.7%)"></i><i style="left:64px;background:linear-gradient(#2ca443 0.3%,#34c27a 47.9%,#3ce1b4 56.8%,#32d6fa 70.9%,#30c4fb 74.4%,#2daafd 99.7%)"></i><i style="left:66px;background:linear-gradient(#44a422 0.3%,#289628 48.5%,#3ce1b5 65.6%,#32d7fa 75.6%,#2eb2fc 99.7%)"></i><i style="left:68px;background:linear-gradient(#9cca23 0.3%,#5aaf1e 35.6%,#4ea920 49.7%,#299628 58.5%,#2daa4e 63.2%,#3ce0b3 70.9%,#33d8f4 77.9%,#2fbcfc 99.7%)"></i><i style="left:70px;background:linear-gradient(#e9c824 0.3%,#e1e628 33.8%,#bfd825 47.9%,#afd224 50.3%,#59ae1e 56.8%,#2a9728 66.2%,#3bdfb0 75.6%,#35dae6 79.7%,#32d7fa 88.5%,#30c6fb 99.7%)"></i><i style="left:72px;background:linear-gradient(#f3811d 0.3%,#ebbd23 47.9%,#e1e528 55.6%,#7cbd21 63.2%,#5aaf1e 65%,#2b9727 71.5%,#2fb15a 75%,#3ce0b1 78.5%,#37dcd8 81.5%,#32d7fa 93.8%,#31d2fa 99.7%)"></i><i style="left:74px;background:linear-gradient(#ea2719 0.3%,#f37e1d 47.9%,#e2e227 63.8%,#59af1e 70.3%,#369d25 75%,#289729 76.2%,#3cdfb1 81.5%,#38ddd1 83.8%,#33d8f3 99.7%)"></i><i style="left:76px;background:linear-gradient(#c81414 0.3%,#eb2819 42.1%,#ed3e1a 49.7%,#f5981e 59.7%,#e1e528 69.1%,#5cb01e 75%,#29992d 79.1%,#3ce1b4 84.4%,#3adfc5 85.6%,#35dae5 99.7%)"></i><i style="left:78px;background:linear-gradient(#911414 0.3%,#c81414 28.5%,#e92719 53.2%,#f2771d 63.2%,#f5961e 65.6%,#dee528 73.8%,#c2d926 75%,#57ae1f 77.9%,#2b9727 81.5%,#3be0ba 87.4%,#37dcd7 99.7%)"></i><i style="left:80px;background:linear-gradient(#7d1414 0.3%,#7d1414 7.9%,#c81414 40.9%,#ea2719 57.9%,#ee4a1b 63.2%,#f5941e 69.1%,#dfe528 76.8%,#5cb01e 80.3%,#289729 84.4%,#3ce1b4 89.7%,#39dec8 99.7%)"></i><i style="left:82px;background:linear-gradient(#7d1414 0.3%,#7d1414 8.5%,#c81414 41.5%,#ea2819 60.9%,#ed391a 63.8%,#f5961e 72.1%,#dde428 79.1%,#60b11e 82.6%,#289629 86.8%,#3ad9a6 91.5%,#3be0b8 99.7%)"></i><i style="left:84px;background:linear-gradient(#9e1414 0.3%,#c81414 23.2%,#eb2819 58.5%,#ed3a1a 63.8%,#f5961e 73.8%,#e2e328 80.9%,#5db01e 85%,#29982c 89.1%,#38d197 93.2%,#39d7a2 99.7%)"></i><i style="left:86px;background:linear-gradient(#de2017 0.3%,#eb2919 20.3%,#f16b1c 50.3%,#f0621c 63.8%,#f2a11f 75.6%,#e2e428 82.6%,#57ad1f 87.4%,#2b9827 90.9%,#35c884 95%,#36cb8a 99.7%)"></i><i style="left:88px;background:linear-gradient(#f3831d 0.3%,#eac123 49.7%,#f1a520 69.1%,#edb422 77.4%,#e8c924 80.9%,#d9e327 84.4%,#58ae1e 89.1%,#2f9927 92.6%,#31b868 96.8%,#31b868 99.7%)"></i><i style="left:90px;background:linear-gradient(#e3df27 0.3%,#e1e628 11.5%,#87c121 49.7%,#e1e628 64.4%,#e7cd25 79.1%,#e3e027 83.8%,#c5db26 86.2%,#57ae1f 90.9%,#289729 96.2%,#299a2f 99.7%)"></i><i style="left:92px;background:linear-gradient(#4ea920 0.3%,#319b26 50.3%,#59af1e 67.4%,#7dbd21 75%,#c4da26 79.1%,#dae327 82.6%,#bdd725 86.8%,#59af1e 92.1%,#3ba024 96.2%,#399f25 99.7%)"></i><i style="left:94px;background:linear-gradient(#2dab4e 0.3%,#35c886 49.7%,#299628 68.5%,#369d25 75%,#59af1e 79.7%,#89c222 83.2%,#9ecb23 86.8%,#93c622 89.1%,#59ae1e 93.2%,#48a622 99.7%)"></i><i style="left:96px;background:linear-gradient(#3ce1b5 0.3%,#38ddd0 50.3%,#3ce1b4 61.5%,#33bf74 75%,#289628 79.1%,#6db71f 89.7%,#51aa20 96.2%,#50aa20 99.7%)"></i><i style="left:98px;background:linear-gradient(#34d9e9 0.3%,#32d7fa 43.8%,#34d9ed 59.1%,#3adfc5 75%,#3ce1b5 76.8%,#289729 85%,#4da821 90.9%,#50aa20 99.7%)"></i><i style="left:100px;background:linear-gradient(#2fbffb 0.3%,#2daefc 50.3%,#33d8f4 75%,#3ce1b4 82.1%,#289628 89.7%,#42a323 95%,#46a522 99.7%)"></i><i style="left:102px;background:linear-gradient(#2b9dfd 0.3%,#298efe 50.3%,#2eb4fc 75%,#32d6fa 79.7%,#3ce1b7 86.8%,#289628 95%,#309a26 99.7%)"></i><i style="left:104px;background:linear-gradient(#2880ff 0.3%,#277eff 59.7%,#2a91fe 75%,#32d4fa 85%,#3ce1b5 91.5%,#30b562 96.2%,#30b35d 99.7%)"></i><i style="left:106px;background:linear-gradient(#246cfd 0.3%,#2264fc 50.3%,#2677fe 75%,#2ca6fd 84.4%,#32d3fa 89.1%,#3bddac 96.8%,#3bddac 99.7%)"></i><i style="left:108px;background:linear-gradient(#205bfc 0.3%,#1f55fb 50.3%,#2264fc 75%,#2988ff 85%,#32d6fa 93.8%,#36dbdf 96.8%,#36dbdf 99.7%)"></i><i style="left:110px;background:linear-gradient(#1e50fb 0.3%,#1d4bfa 50.3%,#2059fc 75%,#2573fe 85%,#30c6fb 96.2%,#30c9fb 99.7%)"></i><i style="left:112px;background:linear-gradient(#1c47fa 0.3%,#1c46fa 50.3%,#1e52fb 72.1%,#2470fd 87.9%,#2ca4fd 96.2%,#2ca6fd 99.7%)"></i><i style="left:114px;background:linear-gradient(#1b42fa 0.3%,#1c45fa 59.7%,#2058fb 79.1%,#2989ff 99.7%)"></i><i style="left:116px;background:linear-gradient(#1b41f9 0.3%,#1b43fa 59.7%,#1e52fb 77.9%,#267afe 99.7%)"></i><i style="left:118px;background:linear-gradient(#1a3ff9 0.3%,#1b42f9 59.7%,#2571fe 99.7%)"></i><i style="left:120px;background:linear-gradient(#1a3ef9 0.3%,#1a40f9 59.1%,#236bfd 99.7%)"></i><i style="left:122px;background:linear-gradient(#1a3df9 0.3%,#1a3ff9 59.1%,#2265fd 99.7%)"></i><i style="left:124px;background:linear-gradient(#193cf9 0.3%,#1a3ef9 59.1%,#2160fc 99.7%)"></i><i style="left:126px;background:linear-gradient(#193bf9 0.3%,#1a3df9 59.1%,#205cfc 99.7%)"></i><i style="left:128px;background:linear-gradient(#193bf9 0.3%,#1a3df9 59.1%,#205cfc 99.7%)"></i></div></div>
<svg width="685" height="445" viewBox="0 0 685 445"><defs><clipPath id="clc"><rect x="411" y="18" width="272" height="172"/></clipPath><clipPath id="clf"><rect x="411" y="242.2" width="272" height="172.1"/></clipPath></defs><text x="1" y="11.3" font-size="13.6" fill="#111" font-weight="bold">a</text><text x="37.6" y="12.8" font-size="10.6" fill="#222">ωq map of WSe<tspan font-size="7" dy="2">2</tspan><tspan dy="-2"> in Γ</tspan></text><text x="29" y="29.8" font-size="10.7" text-anchor="end">0.2</text><path d="M29.5 24.6h2.5" stroke="#888" stroke-width=".6"/><text x="29" y="49.38" font-size="10.7" text-anchor="end">0.4</text><path d="M29.5 44.18h2.5" stroke="#888" stroke-width=".6"/><text x="29" y="68.96" font-size="10.7" text-anchor="end">0.6</text><path d="M29.5 63.76h2.5" stroke="#888" stroke-width=".6"/><text x="29" y="88.54" font-size="10.7" text-anchor="end">0.8</text><path d="M29.5 83.34h2.5" stroke="#888" stroke-width=".6"/><text x="29" y="108.12" font-size="10.7" text-anchor="end">1.0</text><path d="M29.5 102.92h2.5" stroke="#888" stroke-width=".6"/><text x="29" y="127.7" font-size="10.7" text-anchor="end">1.2</text><path d="M29.5 122.5h2.5" stroke="#888" stroke-width=".6"/><text x="29" y="147.28" font-size="10.7" text-anchor="end">1.4</text><path d="M29.5 142.08h2.5" stroke="#888" stroke-width=".6"/><text x="29" y="166.86" font-size="10.7" text-anchor="end">1.6</text><path d="M29.5 161.66h2.5" stroke="#888" stroke-width=".6"/><text x="29" y="186.44" font-size="10.7" text-anchor="end">1.8</text><path d="M29.5 181.24h2.5" stroke="#888" stroke-width=".6"/><text x="47.2" y="200.9" font-size="10.7" text-anchor="middle">5</text><text x="72.2" y="200.9" font-size="10.7" text-anchor="middle">10</text><text x="97.2" y="200.9" font-size="10.7" text-anchor="middle">15</text><text x="122.2" y="200.9" font-size="10.7" text-anchor="middle">20</text><text x="147.2" y="200.9" font-size="10.7" text-anchor="middle">25</text><text x="172.2" y="200.9" font-size="10.7" text-anchor="middle">30</text><text x="197.2" y="200.9" font-size="10.7" text-anchor="middle">35</text><text x="116" y="210.5" font-size="10.7" text-anchor="middle">Electron energy-loss (eV)</text><text x="6.9" y="92.5" font-size="10.4" fill="#222" text-anchor="middle" transform="rotate(-90 6.9 92.5)" dy="3.6">|q| (| |Γ - M – Γ'|)</text><rect x="33.7" y="103.4" width="167.3" height="45.3" fill="none" stroke="#111" stroke-width="1.4" stroke-dasharray="4 2"/><path d="M138.2 9.5H144.5" stroke="#222" stroke-width="1"/><path d="M142.6 7.1L146 9.5L142.6 11.9z" fill="#222"/><text x="149.9" y="12.8" font-size="10.6" font-family="Liberation Serif" fill="#222">M</text><path d="M354.1 9.7H360.6" stroke="#222" stroke-width="1"/><path d="M358.7 7.3L362.1 9.7L358.7 12.1z" fill="#222"/><text x="366.2" y="12.9" font-size="10.6" font-family="Liberation Serif" fill="#222">M</text><path d="M514.8 9.7H521.3" stroke="#222" stroke-width="1"/><path d="M519.4 7.3L522.8 9.7L519.4 12.1z" fill="#222"/><text x="526.6" y="12.9" font-size="10.6" font-family="Liberation Serif" fill="#222">M</text><path d="M140.4 233.4H146.6" stroke="#222" stroke-width="1"/><path d="M144.7 231L148.1 233.4L144.7 235.8z" fill="#222"/><text x="152" y="236.7" font-size="10.6" font-family="Liberation Serif" fill="#222">K</text><path d="M355.5 233.1H361.8" stroke="#222" stroke-width="1"/><path d="M359.9 230.7L363.3 233.1L359.9 235.5z" fill="#222"/><text x="367.5" y="236.3" font-size="10.6" font-family="Liberation Serif" fill="#222">K</text><path d="M514.6 233.4H521.4" stroke="#222" stroke-width="1"/><path d="M519.5 231L522.9 233.4L519.5 235.8z" fill="#222"/><text x="527.1" y="236.5" font-size="10.6" font-family="Liberation Serif" fill="#222">K</text><path d="M50.1 69.1H58" stroke="#fff" stroke-opacity="0.5" stroke-width="1.3"/><path d="M57 65.6L64.2 69.1L57 72.6z" fill="#fff"/><path d="M48.9 75.8H56.4" stroke="#fff" stroke-opacity="0.5" stroke-width="1.3"/><path d="M55.4 72.2L62.7 75.8L55.4 79.4z" fill="#fff"/><path d="M46.3 84.2H53.8" stroke="#fff" stroke-opacity="1.0" stroke-width="1.3"/><path d="M52.8 80.5L60 84.2L52.8 87.9z" fill="#fff"/><text x="68.5" y="99.6" font-size="10" text-anchor="middle">π</text><text x="145" y="98.8" font-size="10" text-anchor="middle">π + σ</text><text x="1" y="237.3" font-size="13.6" fill="#111" font-weight="bold">d</text><text x="38.5" y="236.7" font-size="10.6" fill="#222">ωq&#160; map of WSe<tspan font-size="7" dy="2">2</tspan><tspan dy="-2"> in Γ</tspan></text><text x="29" y="250" font-size="10.7" text-anchor="end">0.2</text><path d="M29.5 244.8h2.5" stroke="#888" stroke-width=".6"/><text x="29" y="269.51" font-size="10.7" text-anchor="end">0.4</text><path d="M29.5 264.31h2.5" stroke="#888" stroke-width=".6"/><text x="29" y="289.02" font-size="10.7" text-anchor="end">0.6</text><path d="M29.5 283.82h2.5" stroke="#888" stroke-width=".6"/><text x="29" y="308.54" font-size="10.7" text-anchor="end">0.8</text><path d="M29.5 303.34h2.5" stroke="#888" stroke-width=".6"/><text x="29" y="328.05" font-size="10.7" text-anchor="end">1.0</text><path d="M29.5 322.85h2.5" stroke="#888" stroke-width=".6"/><text x="29" y="347.56" font-size="10.7" text-anchor="end">1.2</text><path d="M29.5 342.36h2.5" stroke="#888" stroke-width=".6"/><text x="29" y="367.07" font-size="10.7" text-anchor="end">1.4</text><path d="M29.5 361.87h2.5" stroke="#888" stroke-width=".6"/><text x="29" y="386.58" font-size="10.7" text-anchor="end">1.6</text><path d="M29.5 381.38h2.5" stroke="#888" stroke-width=".6"/><text x="29" y="406.1" font-size="10.7" text-anchor="end">1.8</text><path d="M29.5 400.9h2.5" stroke="#888" stroke-width=".6"/><text x="46.1" y="423.9" font-size="10.7" text-anchor="middle">5</text><text x="71.6" y="423.9" font-size="10.7" text-anchor="middle">10</text><text x="97.1" y="423.9" font-size="10.7" text-anchor="middle">15</text><text x="122.6" y="423.9" font-size="10.7" text-anchor="middle">20</text><text x="148.1" y="423.9" font-size="10.7" text-anchor="middle">25</text><text x="173.6" y="423.9" font-size="10.7" text-anchor="middle">30</text><text x="199.1" y="423.9" font-size="10.7" text-anchor="middle">35</text><text x="123.5" y="441.7" font-size="10.7" text-anchor="middle">Electron energy-loss (eV)</text><text x="6.9" y="311" font-size="10.4" fill="#222" text-anchor="middle" transform="rotate(-90 6.9 311)" dy="3.6">|q| (|Γ - K – M' – K' – Γ''|)</text><rect x="33" y="326.5" width="169" height="44.5" fill="none" stroke="#111" stroke-width="1.4" stroke-dasharray="4 2"/><path d="M53 294.2H60" stroke="#fff" stroke-opacity="1.0" stroke-width="1.3"/><path d="M59 291.1L66.5 294.2L59 297.3z" fill="#fff"/><path d="M51.2 301.6H58.5" stroke="#fff" stroke-opacity="1.0" stroke-width="1.3"/><path d="M57.5 298.2L65 301.6L57.5 305z" fill="#fff"/><path d="M49 309.8H56.1" stroke="#fff" stroke-opacity="0.55" stroke-width="1.3"/><path d="M55.1 306L62.9 309.8L55.1 313.6z" fill="#fff"/><text x="65.7" y="322.2" font-size="10" text-anchor="middle">π</text><text x="143.5" y="321.5" font-size="10" text-anchor="middle">π + σ</text><text x="217.5" y="11.3" font-size="13.6" fill="#111" font-weight="bold">b</text><text x="240.4" y="12.9" font-size="10.6" fill="#222">TDDFT ωq of WSe<tspan font-size="7" dy="2">2</tspan><tspan dy="-2"> in Γ</tspan></text><text x="247.2" y="91.3" font-size="8.4" fill="#e8ecff">1H-WSe<tspan font-size="6" dy="1.5">2</tspan></text><rect x="371.3" y="16.8" width="4.3" height="2.12" fill="#861414"/><rect x="371.3" y="18.62" width="4.3" height="2.12" fill="#991414"/><rect x="371.3" y="20.44" width="4.3" height="2.12" fill="#ab1414"/><rect x="371.3" y="22.26" width="4.3" height="2.12" fill="#be1414"/><rect x="371.3" y="24.08" width="4.3" height="2.12" fill="#cc1614"/><rect x="371.3" y="25.9" width="4.3" height="2.12" fill="#d51b15"/><rect x="371.3" y="27.72" width="4.3" height="2.12" fill="#dd2017"/><rect x="371.3" y="29.54" width="4.3" height="2.12" fill="#e62518"/><rect x="371.3" y="31.36" width="4.3" height="2.12" fill="#ec3319"/><rect x="371.3" y="33.18" width="4.3" height="2.12" fill="#ee4a1a"/><rect x="371.3" y="35" width="4.3" height="2.12" fill="#f0611b"/><rect x="371.3" y="36.82" width="4.3" height="2.12" fill="#f2781c"/><rect x="371.3" y="38.64" width="4.3" height="2.12" fill="#f48f1d"/><rect x="371.3" y="40.46" width="4.3" height="2.12" fill="#f2a11f"/><rect x="371.3" y="42.28" width="4.3" height="2.12" fill="#edb221"/><rect x="371.3" y="44.1" width="4.3" height="2.12" fill="#e9c323"/><rect x="371.3" y="45.92" width="4.3" height="2.12" fill="#e5d325"/><rect x="371.3" y="47.74" width="4.3" height="2.12" fill="#e1e427"/><rect x="371.3" y="49.56" width="4.3" height="2.12" fill="#bbd625"/><rect x="371.3" y="51.38" width="4.3" height="2.12" fill="#90c522"/><rect x="371.3" y="53.2" width="4.3" height="2.12" fill="#66b41e"/><rect x="371.3" y="55.02" width="4.3" height="2.12" fill="#4fa920"/><rect x="371.3" y="56.84" width="4.3" height="2.12" fill="#3fa123"/><rect x="371.3" y="58.66" width="4.3" height="2.12" fill="#2f9926"/><rect x="371.3" y="60.48" width="4.3" height="2.12" fill="#2aa03b"/><rect x="371.3" y="62.3" width="4.3" height="2.12" fill="#30b562"/><rect x="371.3" y="64.12" width="4.3" height="2.12" fill="#35ca89"/><rect x="371.3" y="65.94" width="4.3" height="2.12" fill="#3bdeb0"/><rect x="371.3" y="67.76" width="4.3" height="2.12" fill="#38ddca"/><rect x="371.3" y="69.58" width="4.3" height="2.12" fill="#35dae3"/><rect x="371.3" y="71.4" width="4.3" height="2.12" fill="#31d4fa"/><rect x="371.3" y="73.22" width="4.3" height="2.12" fill="#2eb9fb"/><rect x="371.3" y="75.04" width="4.3" height="2.12" fill="#2b9ffd"/><rect x="371.3" y="76.86" width="4.3" height="2.12" fill="#2884fe"/><rect x="371.3" y="78.68" width="4.3" height="2.12" fill="#246efd"/><rect x="371.3" y="80.5" width="4.3" height="2.12" fill="#1f59fb"/><rect x="371.3" y="82.32" width="4.3" height="2.12" fill="#1b43f9"/><rect x="371.3" y="84.14" width="4.3" height="2.12" fill="#152bf6"/><rect x="371.3" y="85.96" width="4.3" height="2.12" fill="#0f15f3"/><rect x="371.3" y="87.78" width="4.3" height="2.12" fill="#0e10f1"/><text x="376.7" y="22" font-size="10.7">1.5</text><text x="376.7" y="36.18" font-size="10.7">1.2</text><text x="376.7" y="55.09" font-size="10.7">0.8</text><text x="376.7" y="73.99" font-size="10.7">0.4</text><text x="376.7" y="92.9" font-size="10.7">0.0</text><text x="247.2" y="184.6" font-size="8.4" fill="#e8ecff">Bulk-WSe<tspan font-size="6" dy="1.5">2</tspan></text><rect x="371.6" y="111.8" width="4.2" height="2.15" fill="#861414"/><rect x="371.6" y="113.64" width="4.2" height="2.15" fill="#991414"/><rect x="371.6" y="115.49" width="4.2" height="2.15" fill="#ab1414"/><rect x="371.6" y="117.33" width="4.2" height="2.15" fill="#be1414"/><rect x="371.6" y="119.18" width="4.2" height="2.15" fill="#cc1614"/><rect x="371.6" y="121.02" width="4.2" height="2.15" fill="#d51b15"/><rect x="371.6" y="122.87" width="4.2" height="2.15" fill="#dd2017"/><rect x="371.6" y="124.72" width="4.2" height="2.15" fill="#e62518"/><rect x="371.6" y="126.56" width="4.2" height="2.15" fill="#ec3319"/><rect x="371.6" y="128.41" width="4.2" height="2.15" fill="#ee4a1a"/><rect x="371.6" y="130.25" width="4.2" height="2.15" fill="#f0611b"/><rect x="371.6" y="132.09" width="4.2" height="2.15" fill="#f2781c"/><rect x="371.6" y="133.94" width="4.2" height="2.15" fill="#f48f1d"/><rect x="371.6" y="135.78" width="4.2" height="2.15" fill="#f2a11f"/><rect x="371.6" y="137.63" width="4.2" height="2.15" fill="#edb221"/><rect x="371.6" y="139.47" width="4.2" height="2.15" fill="#e9c323"/><rect x="371.6" y="141.32" width="4.2" height="2.15" fill="#e5d325"/><rect x="371.6" y="143.16" width="4.2" height="2.15" fill="#e1e427"/><rect x="371.6" y="145.01" width="4.2" height="2.15" fill="#bbd625"/><rect x="371.6" y="146.85" width="4.2" height="2.15" fill="#90c522"/><rect x="371.6" y="148.7" width="4.2" height="2.15" fill="#66b41e"/><rect x="371.6" y="150.54" width="4.2" height="2.15" fill="#4fa920"/><rect x="371.6" y="152.39" width="4.2" height="2.15" fill="#3fa123"/><rect x="371.6" y="154.23" width="4.2" height="2.15" fill="#2f9926"/><rect x="371.6" y="156.08" width="4.2" height="2.15" fill="#2aa03b"/><rect x="371.6" y="157.93" width="4.2" height="2.15" fill="#30b562"/><rect x="371.6" y="159.77" width="4.2" height="2.15" fill="#35ca89"/><rect x="371.6" y="161.62" width="4.2" height="2.15" fill="#3bdeb0"/><rect x="371.6" y="163.46" width="4.2" height="2.15" fill="#38ddca"/><rect x="371.6" y="165.31" width="4.2" height="2.15" fill="#35dae3"/><rect x="371.6" y="167.15" width="4.2" height="2.15" fill="#31d4fa"/><rect x="371.6" y="169" width="4.2" height="2.15" fill="#2eb9fb"/><rect x="371.6" y="170.84" width="4.2" height="2.15" fill="#2b9ffd"/><rect x="371.6" y="172.69" width="4.2" height="2.15" fill="#2884fe"/><rect x="371.6" y="174.53" width="4.2" height="2.15" fill="#246efd"/><rect x="371.6" y="176.38" width="4.2" height="2.15" fill="#1f59fb"/><rect x="371.6" y="178.22" width="4.2" height="2.15" fill="#1b43f9"/><rect x="371.6" y="180.06" width="4.2" height="2.15" fill="#152bf6"/><rect x="371.6" y="181.91" width="4.2" height="2.15" fill="#0f15f3"/><rect x="371.6" y="183.75" width="4.2" height="2.15" fill="#0e10f1"/><text x="376.9" y="117" font-size="10.7">1.5</text><text x="376.9" y="131.38" font-size="10.7">1.2</text><text x="376.9" y="150.55" font-size="10.7">0.8</text><text x="376.9" y="169.73" font-size="10.7">0.4</text><text x="376.9" y="188.9" font-size="10.7">0.0</text><text x="241.3" y="33.4" font-size="10.7" text-anchor="end">0.05</text><text x="241.3" y="53.4" font-size="10.7" text-anchor="end">0.25</text><text x="241.3" y="73.4" font-size="10.7" text-anchor="end">0.45</text><text x="241.3" y="93.4" font-size="10.7" text-anchor="end">0.65</text><text x="241.3" y="126.3" font-size="10.7" text-anchor="end">0.05</text><text x="241.3" y="146.3" font-size="10.7" text-anchor="end">0.25</text><text x="241.3" y="166.3" font-size="10.7" text-anchor="end">0.45</text><text x="241.3" y="186.3" font-size="10.7" text-anchor="end">0.65</text><text x="242.2" y="105.2" font-size="10.7" text-anchor="middle">0</text><text x="259.71" y="105.2" font-size="10.7" text-anchor="middle">5</text><text x="277.23" y="105.2" font-size="10.7" text-anchor="middle">10</text><text x="294.74" y="105.2" font-size="10.7" text-anchor="middle">15</text><text x="312.26" y="105.2" font-size="10.7" text-anchor="middle">20</text><text x="329.77" y="105.2" font-size="10.7" text-anchor="middle">25</text><text x="347.29" y="105.2" font-size="10.7" text-anchor="middle">30</text><text x="364.8" y="105.2" font-size="10.7" text-anchor="middle">35</text><text x="242.2" y="198.6" font-size="10.7" text-anchor="middle">0</text><text x="259.71" y="198.6" font-size="10.7" text-anchor="middle">5</text><text x="277.23" y="198.6" font-size="10.7" text-anchor="middle">10</text><text x="294.74" y="198.6" font-size="10.7" text-anchor="middle">15</text><text x="312.26" y="198.6" font-size="10.7" text-anchor="middle">20</text><text x="329.77" y="198.6" font-size="10.7" text-anchor="middle">25</text><text x="347.29" y="198.6" font-size="10.7" text-anchor="middle">30</text><text x="364.8" y="198.6" font-size="10.7" text-anchor="middle">35</text><text x="307" y="210.5" font-size="10.7" text-anchor="middle">Electron energy-loss (eV)</text><text x="212" y="52.3" font-size="10.4" fill="#222" text-anchor="middle" transform="rotate(-90 212 52.3)" dy="3.6">|q| (2 π /a)</text><text x="212" y="142.8" font-size="10.4" fill="#222" text-anchor="middle" transform="rotate(-90 212 142.8)" dy="3.6">|q| (2 π /a)</text><text x="217.5" y="236.8" font-size="13.6" fill="#111" font-weight="bold">e</text><text x="240.4" y="236.3" font-size="10.6" fill="#222">TDDFT ωq of WSe<tspan font-size="7" dy="2">2</tspan><tspan dy="-2"> in Γ</tspan></text><text x="247.2" y="317.5" font-size="8.4" fill="#e8ecff">1H-WSe<tspan font-size="6" dy="1.5">2</tspan></text><rect x="371.8" y="245.1" width="3.8" height="2.14" fill="#861414"/><rect x="371.8" y="246.94" width="3.8" height="2.14" fill="#991414"/><rect x="371.8" y="248.78" width="3.8" height="2.14" fill="#ab1414"/><rect x="371.8" y="250.61" width="3.8" height="2.14" fill="#be1414"/><rect x="371.8" y="252.45" width="3.8" height="2.14" fill="#cc1614"/><rect x="371.8" y="254.29" width="3.8" height="2.14" fill="#d51b15"/><rect x="371.8" y="256.12" width="3.8" height="2.14" fill="#dd2017"/><rect x="371.8" y="257.96" width="3.8" height="2.14" fill="#e62518"/><rect x="371.8" y="259.8" width="3.8" height="2.14" fill="#ec3319"/><rect x="371.8" y="261.64" width="3.8" height="2.14" fill="#ee4a1a"/><rect x="371.8" y="263.48" width="3.8" height="2.14" fill="#f0611b"/><rect x="371.8" y="265.31" width="3.8" height="2.14" fill="#f2781c"/><rect x="371.8" y="267.15" width="3.8" height="2.14" fill="#f48f1d"/><rect x="371.8" y="268.99" width="3.8" height="2.14" fill="#f2a11f"/><rect x="371.8" y="270.82" width="3.8" height="2.14" fill="#edb221"/><rect x="371.8" y="272.66" width="3.8" height="2.14" fill="#e9c323"/><rect x="371.8" y="274.5" width="3.8" height="2.14" fill="#e5d325"/><rect x="371.8" y="276.34" width="3.8" height="2.14" fill="#e1e427"/><rect x="371.8" y="278.18" width="3.8" height="2.14" fill="#bbd625"/><rect x="371.8" y="280.01" width="3.8" height="2.14" fill="#90c522"/><rect x="371.8" y="281.85" width="3.8" height="2.14" fill="#66b41e"/><rect x="371.8" y="283.69" width="3.8" height="2.14" fill="#4fa920"/><rect x="371.8" y="285.53" width="3.8" height="2.14" fill="#3fa123"/><rect x="371.8" y="287.36" width="3.8" height="2.14" fill="#2f9926"/><rect x="371.8" y="289.2" width="3.8" height="2.14" fill="#2aa03b"/><rect x="371.8" y="291.04" width="3.8" height="2.14" fill="#30b562"/><rect x="371.8" y="292.88" width="3.8" height="2.14" fill="#35ca89"/><rect x="371.8" y="294.71" width="3.8" height="2.14" fill="#3bdeb0"/><rect x="371.8" y="296.55" width="3.8" height="2.14" fill="#38ddca"/><rect x="371.8" y="298.39" width="3.8" height="2.14" fill="#35dae3"/><rect x="371.8" y="300.23" width="3.8" height="2.14" fill="#31d4fa"/><rect x="371.8" y="302.06" width="3.8" height="2.14" fill="#2eb9fb"/><rect x="371.8" y="303.9" width="3.8" height="2.14" fill="#2b9ffd"/><rect x="371.8" y="305.74" width="3.8" height="2.14" fill="#2884fe"/><rect x="371.8" y="307.58" width="3.8" height="2.14" fill="#246efd"/><rect x="371.8" y="309.41" width="3.8" height="2.14" fill="#1f59fb"/><rect x="371.8" y="311.25" width="3.8" height="2.14" fill="#1b43f9"/><rect x="371.8" y="313.09" width="3.8" height="2.14" fill="#152bf6"/><rect x="371.8" y="314.93" width="3.8" height="2.14" fill="#0f15f3"/><rect x="371.8" y="316.76" width="3.8" height="2.14" fill="#0e10f1"/><text x="376.7" y="250.3" font-size="10.7">1.5</text><text x="376.7" y="264.62" font-size="10.7">1.2</text><text x="376.7" y="283.71" font-size="10.7">0.8</text><text x="376.7" y="302.81" font-size="10.7">0.4</text><text x="376.7" y="321.9" font-size="10.7">0.0</text><text x="247.2" y="409.3" font-size="8.4" fill="#e8ecff">Bulk-WSe<tspan font-size="6" dy="1.5">2</tspan></text><rect x="371.8" y="337.5" width="3.8" height="2.14" fill="#861414"/><rect x="371.8" y="339.34" width="3.8" height="2.14" fill="#991414"/><rect x="371.8" y="341.18" width="3.8" height="2.14" fill="#ab1414"/><rect x="371.8" y="343.01" width="3.8" height="2.14" fill="#be1414"/><rect x="371.8" y="344.85" width="3.8" height="2.14" fill="#cc1614"/><rect x="371.8" y="346.69" width="3.8" height="2.14" fill="#d51b15"/><rect x="371.8" y="348.52" width="3.8" height="2.14" fill="#dd2017"/><rect x="371.8" y="350.36" width="3.8" height="2.14" fill="#e62518"/><rect x="371.8" y="352.2" width="3.8" height="2.14" fill="#ec3319"/><rect x="371.8" y="354.04" width="3.8" height="2.14" fill="#ee4a1a"/><rect x="371.8" y="355.88" width="3.8" height="2.14" fill="#f0611b"/><rect x="371.8" y="357.71" width="3.8" height="2.14" fill="#f2781c"/><rect x="371.8" y="359.55" width="3.8" height="2.14" fill="#f48f1d"/><rect x="371.8" y="361.39" width="3.8" height="2.14" fill="#f2a11f"/><rect x="371.8" y="363.23" width="3.8" height="2.14" fill="#edb221"/><rect x="371.8" y="365.06" width="3.8" height="2.14" fill="#e9c323"/><rect x="371.8" y="366.9" width="3.8" height="2.14" fill="#e5d325"/><rect x="371.8" y="368.74" width="3.8" height="2.14" fill="#e1e427"/><rect x="371.8" y="370.57" width="3.8" height="2.14" fill="#bbd625"/><rect x="371.8" y="372.41" width="3.8" height="2.14" fill="#90c522"/><rect x="371.8" y="374.25" width="3.8" height="2.14" fill="#66b41e"/><rect x="371.8" y="376.09" width="3.8" height="2.14" fill="#4fa920"/><rect x="371.8" y="377.93" width="3.8" height="2.14" fill="#3fa123"/><rect x="371.8" y="379.76" width="3.8" height="2.14" fill="#2f9926"/><rect x="371.8" y="381.6" width="3.8" height="2.14" fill="#2aa03b"/><rect x="371.8" y="383.44" width="3.8" height="2.14" fill="#30b562"/><rect x="371.8" y="385.27" width="3.8" height="2.14" fill="#35ca89"/><rect x="371.8" y="387.11" width="3.8" height="2.14" fill="#3bdeb0"/><rect x="371.8" y="388.95" width="3.8" height="2.14" fill="#38ddca"/><rect x="371.8" y="390.79" width="3.8" height="2.14" fill="#35dae3"/><rect x="371.8" y="392.62" width="3.8" height="2.14" fill="#31d4fa"/><rect x="371.8" y="394.46" width="3.8" height="2.14" fill="#2eb9fb"/><rect x="371.8" y="396.3" width="3.8" height="2.14" fill="#2b9ffd"/><rect x="371.8" y="398.14" width="3.8" height="2.14" fill="#2884fe"/><rect x="371.8" y="399.98" width="3.8" height="2.14" fill="#246efd"/><rect x="371.8" y="401.81" width="3.8" height="2.14" fill="#1f59fb"/><rect x="371.8" y="403.65" width="3.8" height="2.14" fill="#1b43f9"/><rect x="371.8" y="405.49" width="3.8" height="2.14" fill="#152bf6"/><rect x="371.8" y="407.32" width="3.8" height="2.14" fill="#0f15f3"/><rect x="371.8" y="409.16" width="3.8" height="2.14" fill="#0e10f1"/><text x="376.7" y="342.7" font-size="10.7">1.5</text><text x="376.7" y="357.02" font-size="10.7">1.2</text><text x="376.7" y="376.11" font-size="10.7">0.8</text><text x="376.7" y="395.21" font-size="10.7">0.4</text><text x="376.7" y="414.3" font-size="10.7">0.0</text><text x="241.3" y="257.8" font-size="10.7" text-anchor="end">0.05</text><text x="241.3" y="277.8" font-size="10.7" text-anchor="end">0.25</text><text x="241.3" y="297.8" font-size="10.7" text-anchor="end">0.45</text><text x="241.3" y="317.8" font-size="10.7" text-anchor="end">0.65</text><text x="241.3" y="350.6" font-size="10.7" text-anchor="end">0.05</text><text x="241.3" y="370.6" font-size="10.7" text-anchor="end">0.25</text><text x="241.3" y="390.6" font-size="10.7" text-anchor="end">0.45</text><text x="241.3" y="410.6" font-size="10.7" text-anchor="end">0.65</text><text x="242.2" y="329.4" font-size="10.7" text-anchor="middle">0</text><text x="259.89" y="329.4" font-size="10.7" text-anchor="middle">5</text><text x="277.57" y="329.4" font-size="10.7" text-anchor="middle">10</text><text x="295.26" y="329.4" font-size="10.7" text-anchor="middle">15</text><text x="312.94" y="329.4" font-size="10.7" text-anchor="middle">20</text><text x="330.63" y="329.4" font-size="10.7" text-anchor="middle">25</text><text x="348.31" y="329.4" font-size="10.7" text-anchor="middle">30</text><text x="366" y="329.4" font-size="10.7" text-anchor="middle">35</text><text x="242.2" y="423" font-size="10.7" text-anchor="middle">0</text><text x="259.89" y="423" font-size="10.7" text-anchor="middle">5</text><text x="277.57" y="423" font-size="10.7" text-anchor="middle">10</text><text x="295.26" y="423" font-size="10.7" text-anchor="middle">15</text><text x="312.94" y="423" font-size="10.7" text-anchor="middle">20</text><text x="330.63" y="423" font-size="10.7" text-anchor="middle">25</text><text x="348.31" y="423" font-size="10.7" text-anchor="middle">30</text><text x="366" y="423" font-size="10.7" text-anchor="middle">35</text><text x="307.7" y="441.7" font-size="10.7" text-anchor="middle">Electron energy-loss (eV)</text><text x="212" y="276.4" font-size="10.4" fill="#222" text-anchor="middle" transform="rotate(-90 212 276.4)" dy="3.6">|q| (2 π /a)</text><text x="212" y="360.4" font-size="10.4" fill="#222" text-anchor="middle" transform="rotate(-90 212 360.4)" dy="3.6">|q| (2π/a)</text><g clip-path="url(#clc)" fill="none"><path d="M410.9 162.5 515.4 162.6 579.8 164.1 636.5 162.7 683.3 162.5 L684 191 L410 191 Z" fill="#f2b88c"/><path d="M410.9 163.2 425.5 162.5 442.1 163.0 449.9 162.5 507.5 162.6 580.8 164.1 636.5 162.7 683.3 162.5 L684 191 L410 191 Z" fill="#efb592"/><path d="M410.9 164.0 423.5 163.3 440.2 163.8 456.8 162.5 469.5 163.5 483.1 162.8 497.8 163.2 508.5 162.6 578.8 164.1 645.3 162.6 663.8 162.5 675.5 163.3 683.3 163.1 L684 191 L410 191 Z" fill="#edb298"/><path d="M410.9 164.5 419.6 164.1 435.3 164.7 455.8 163.6 493.9 164.2 508.5 163.3 523.2 163.7 532.9 162.9 576.9 164.1 633.5 162.8 642.3 163.5 657.0 163.2 671.6 164.1 683.3 163.7 L684 191 L410 191 Z" fill="#ebaf9e"/><path d="M410.9 165.0 430.4 165.5 444.1 164.8 474.3 164.6 489.0 165.1 503.6 164.3 520.2 164.7 547.6 163.4 581.8 164.1 623.8 163.0 638.4 164.4 653.1 164.1 668.7 165.0 683.3 164.5 L684 191 L410 191 Z" fill="#e9aca4"/><path d="M410.9 165.7 425.5 166.3 462.6 165.2 484.1 166.0 499.7 165.2 514.4 165.7 529.0 164.9 543.7 164.9 553.4 163.6 582.7 164.1 615.0 163.3 633.5 165.1 649.2 164.9 663.8 165.7 683.3 165.5 L684 191 L410 191 Z" fill="#e7a9aa"/><path d="M410.9 166.6 420.6 167.0 435.3 166.4 448.9 166.8 461.6 165.8 479.2 166.8 495.8 166.1 511.4 166.6 525.1 165.9 540.7 166.1 558.3 163.8 582.7 164.1 608.1 163.5 629.6 165.9 644.3 165.7 659.9 166.5 674.6 166.1 683.3 166.6 L684 191 L410 191 Z" fill="#e2a5ad"/><path d="M410.9 167.6 432.3 167.2 447.0 167.7 459.7 166.5 475.3 167.6 490.9 166.9 505.6 167.4 521.2 166.8 535.9 167.2 559.3 165.1 566.1 164.0 602.3 163.7 625.7 166.7 640.4 166.5 655.0 167.3 670.6 166.9 683.3 167.5 L684 191 L410 191 Z" fill="#dda1af"/><path d="M410.9 168.6 427.5 168.0 444.1 168.5 458.7 167.3 472.4 168.3 487.0 167.8 500.7 168.2 516.3 167.7 532.9 168.1 558.3 166.5 570.0 164.1 597.4 163.9 621.8 167.4 636.5 167.3 651.1 168.0 665.8 167.6 683.3 168.2 L684 191 L410 191 Z" fill="#d79db2"/><path d="M410.9 169.3 423.5 168.8 440.2 169.2 456.8 168.2 469.5 169.0 483.1 168.6 498.8 169.0 512.4 168.5 529.0 168.9 556.4 167.8 574.0 164.1 592.5 164.0 617.9 168.0 646.2 168.8 660.9 168.4 683.3 168.8 L684 191 L410 191 Z" fill="#d299b5"/><path d="M410.9 169.8 419.6 169.5 435.3 170.0 455.8 169.2 492.9 169.8 509.5 169.3 523.2 169.8 550.5 169.2 557.4 168.6 575.9 165.3 585.7 164.5 593.5 165.0 608.1 167.9 615.0 168.6 642.3 169.6 683.3 169.4 L684 191 L410 191 Z" fill="#cd95b8"/><path d="M410.9 170.4 429.4 170.8 458.7 170.1 489.0 170.6 503.6 170.1 518.3 170.6 532.9 170.1 547.6 170.2 586.7 165.5 592.5 166.0 605.2 168.5 612.0 169.2 637.4 170.3 683.3 170.1 L684 191 L410 191 Z" fill="#c892b8"/><path d="M410.9 171.1 425.5 171.5 462.6 170.8 484.1 171.4 499.7 170.9 514.4 171.3 529.0 170.9 544.7 171.2 568.1 169.0 586.7 166.5 606.2 169.6 630.6 171.0 683.3 171.0 L684 191 L410 191 Z" fill="#c38fb8"/><path d="M410.9 171.9 448.9 172.1 461.6 171.4 479.2 172.1 495.8 171.7 540.7 172.1 566.1 170.4 584.7 167.6 603.3 170.1 626.7 171.7 683.3 172.0 L684 191 L410 191 Z" fill="#be8cb8"/><path d="M410.9 172.9 446.0 172.9 459.7 172.0 475.3 172.9 490.9 172.4 537.8 172.9 563.2 171.7 583.7 168.8 623.8 172.4 640.4 172.2 655.0 172.7 669.7 172.4 683.3 172.9 L684 191 L410 191 Z" fill="#b989b8"/><path d="M410.9 173.8 427.5 173.3 444.1 173.7 458.7 172.8 472.4 173.6 516.3 173.2 533.9 173.7 560.3 172.9 576.9 170.5 583.7 170.1 620.8 173.2 683.3 173.6 L684 191 L410 191 Z" fill="#b486b8"/><path d="M410.9 174.5 423.5 174.1 440.2 174.5 456.8 173.7 470.4 174.3 554.4 174.1 575.9 171.7 584.7 171.3 596.4 171.8 617.9 173.9 683.3 174.2 L684 191 L410 191 Z" fill="#af83b8"/><path d="M410.9 175.1 435.3 175.2 455.8 174.6 492.9 175.1 551.5 175.0 588.6 172.2 615.0 174.5 642.3 175.0 683.3 174.8 L684 191 L410 191 Z" fill="#aa81b7"/><path d="M410.9 175.7 548.6 175.9 588.6 173.1 612.0 175.2 637.4 175.7 683.3 175.5 L684 191 L410 191 Z" fill="#a67eb6"/><path d="M410.9 176.4 544.7 176.7 569.1 175.5 587.6 174.0 606.2 175.7 631.6 176.5 683.3 176.4 L684 191 L410 191 Z" fill="#a17bb4"/><path d="M410.9 177.2 448.9 177.3 461.6 176.8 479.2 177.4 541.7 177.5 567.1 176.6 585.7 175.0 603.3 176.3 627.7 177.2 683.3 177.3 L684 191 L410 191 Z" fill="#9d78b3"/><path d="M410.9 178.1 446.0 178.2 459.7 177.5 475.3 178.1 537.8 178.2 564.2 177.7 584.7 176.0 623.8 177.9 683.3 178.1 L684 191 L410 191 Z" fill="#9975b2"/><path d="M410.9 178.9 444.1 178.9 458.7 178.3 472.4 178.9 557.4 178.8 583.7 177.1 620.8 178.7 683.3 178.8 L684 191 L410 191 Z" fill="#9572b1"/><path d="M410.9 179.7 456.8 179.2 469.5 179.6 555.4 179.6 587.6 178.2 617.9 179.4 683.3 179.5 L684 191 L410 191 Z" fill="#906faf"/><path d="M410.9 180.3 551.5 180.5 590.6 179.0 614.0 180.1 683.3 180.1 L684 191 L410 191 Z" fill="#8d6dae"/><path d="M410.9 181.0 548.6 181.3 589.6 179.8 611.1 180.8 683.3 180.9 L684 191 L410 191 Z" fill="#8a6bad"/><path d="M410.9 181.7 545.6 182.0 587.6 180.7 631.6 181.8 683.3 181.7 L684 191 L410 191 Z" fill="#8768ab"/><path d="M410.9 182.5 541.7 182.7 586.7 181.7 627.7 182.6 683.3 182.5 L684 191 L410 191 Z" fill="#8466aa"/><path d="M410.9 183.3 459.7 183.0 537.8 183.5 564.2 183.3 584.7 182.6 623.8 183.3 683.3 183.3 L684 191 L410 191 Z" fill="#8164a8"/><path d="M410.9 184.1 458.7 183.8 559.3 184.2 583.7 183.6 683.3 184.1 L684 191 L410 191 Z" fill="#7e62a7"/><path d="M410.9 184.8 683.3 184.8 L684 191 L410 191 Z" fill="#7b5fa5"/><path d="M410.9 185.5 683.3 185.5 L684 191 L410 191 Z" fill="#785da3"/><path d="M410.9 186.2 683.3 186.2 L684 191 L410 191 Z" fill="#755ba1"/><path d="M410.9 187.0 683.3 187.0 L684 191 L410 191 Z" fill="#72599f"/><path d="M410.9 187.8 683.3 187.8 L684 191 L410 191 Z" fill="#70569c"/><path d="M410.9 188.5 683.3 188.5 L684 191 L410 191 Z" fill="#6d549a"/><path d="M410.9 189.3 683.3 189.3 L684 191 L410 191 Z" fill="#6a5298"/><path d="M410.9 190.0 683.3 190.0 L684 191 L410 191 Z" fill="#685096"/><path d="M410.9 140.0 411.8 135.6 412.8 133.3 413.8 133.6 414.8 135.9 415.7 136.3 416.7 135.1 418.7 131.8 420.6 129.9 422.6 128.7 428.4 128.0 434.3 129.0 436.2 128.9 448.9 126.5 452.8 125.5 455.8 124.1 458.7 121.1 459.7 121.1 460.7 121.4 467.5 126.1 475.3 128.5 481.2 131.5 484.1 132.0 490.0 131.3 493.9 130.1 502.7 125.1 509.5 120.6 519.3 112.9 529.0 103.7 533.9 98.5 539.8 91.9 544.7 86.0 548.6 80.8 553.4 73.1 556.4 67.8 558.3 64.0 561.3 57.7 565.2 48.8 574.9 24.3 575.9 22.3 576.9 20.7 577.9 19.3 578.8 18.5 579.8 18.6 580.8 19.3 582.7 21.5 584.7 24.7 586.7 28.7 596.4 53.0 598.4 58.4 603.3 72.9 605.2 77.9 608.1 84.6 615.0 99.0 619.9 108.5 624.7 116.8 629.6 124.0 634.5 130.0 640.4 136.4 643.3 139.2 647.2 142.0 657.9 148.2 665.8 152.0 675.5 155.3 683.3 157.1" stroke="#ecc264" stroke-width="0.85"/><path d="M410.9 142.2 411.8 138.2 412.8 136.1 413.8 136.3 414.8 138.5 415.7 138.9 416.7 137.7 418.7 134.7 420.6 133.0 422.6 131.9 428.4 131.2 434.3 132.1 436.2 132.1 448.9 129.9 452.8 128.9 455.8 127.7 458.7 125.0 460.7 125.3 467.5 129.6 475.3 131.7 481.2 134.5 484.1 134.9 490.0 134.2 493.9 133.2 502.7 128.6 509.5 124.5 519.3 117.6 529.0 109.4 539.8 98.8 544.7 93.7 548.6 89.0 553.4 82.2 558.3 74.2 561.3 68.8 565.2 60.9 574.9 39.7 575.9 37.9 576.9 36.5 577.9 35.3 578.8 34.6 579.8 34.7 580.8 35.3 582.7 37.2 584.7 40.0 586.7 43.4 596.4 64.6 598.4 69.4 603.3 82.1 605.2 86.4 608.1 92.4 615.0 105.2 619.9 113.7 625.7 122.5 630.6 128.7 635.5 134.1 641.3 139.8 644.3 142.2 648.2 144.6 658.9 150.3 665.8 153.3 675.5 156.4 683.3 158.1" stroke="#ecbe61" stroke-width="0.85"/><path d="M410.9 145.2 411.8 141.7 412.8 139.9 413.8 140.1 414.8 141.9 415.7 142.3 416.7 141.3 418.7 138.7 420.6 137.2 422.6 136.3 428.4 135.7 434.3 136.5 436.2 136.5 448.9 134.6 452.8 133.7 455.8 132.7 458.7 130.3 460.7 130.6 467.5 134.3 475.3 136.2 481.2 138.5 483.1 138.9 488.0 138.6 492.9 137.7 501.7 133.9 507.5 131.0 517.3 125.2 528.1 117.6 538.8 108.8 544.7 103.6 548.6 99.7 553.4 94.0 558.3 87.4 564.2 78.0 574.9 58.9 576.9 56.4 578.8 54.8 579.8 54.9 580.8 55.4 582.7 57.0 584.7 59.2 586.7 62.0 596.4 79.4 598.4 83.3 603.3 93.9 606.2 99.3 609.1 104.1 616.0 114.8 620.8 121.9 626.7 129.3 631.6 134.6 635.5 138.2 641.3 143.1 644.3 145.1 648.2 147.2 658.9 152.2 665.8 154.8 675.5 157.5 683.3 159.0" stroke="#edbb5e" stroke-width="0.85"/><path d="M410.9 148.1 411.8 145.4 412.8 143.9 413.8 144.1 414.8 145.6 415.7 145.8 418.7 143.0 422.6 141.1 428.4 140.6 436.2 141.2 448.9 139.6 452.8 138.9 455.8 138.0 458.7 136.1 460.7 136.3 467.5 139.4 475.3 141.0 480.2 142.6 483.1 143.1 492.9 142.3 505.6 137.5 516.3 132.3 526.1 126.8 536.8 119.8 547.6 111.9 552.5 107.5 557.4 102.5 564.2 94.1 574.9 79.4 576.9 77.5 578.8 76.3 580.8 76.7 582.7 77.9 584.7 79.6 586.7 81.7 596.4 95.1 603.3 106.5 605.2 109.4 614.0 120.8 618.9 126.9 623.8 132.3 628.6 137.1 633.5 141.2 640.4 145.9 644.3 148.1 657.9 153.5 668.7 156.9 676.5 158.6 683.3 159.7" stroke="#edb85c" stroke-width="0.85"/><path d="M410.9 150.9 411.8 148.8 412.8 147.7 413.8 147.9 414.8 149.0 415.7 149.2 418.7 147.0 422.6 145.6 428.4 145.2 436.2 145.7 448.9 144.4 455.8 143.2 458.7 141.7 460.7 141.8 467.5 144.2 475.3 145.5 482.1 147.1 490.9 146.7 495.8 145.8 508.5 141.8 519.3 137.6 532.0 131.9 545.6 125.1 550.5 122.2 556.4 118.2 564.2 111.9 574.9 102.7 576.9 101.5 578.8 100.8 580.8 101.1 582.7 101.8 587.6 104.9 596.4 112.6 605.2 122.2 617.9 133.8 626.7 141.0 634.5 146.3 644.3 150.9 658.9 155.5 669.7 158.2 683.3 160.4" stroke="#eeb45a" stroke-width="0.85"/><path d="M410.9 157.5 412.8 156.6 415.7 157.0 423.5 155.7 428.4 155.5 436.2 155.9 450.9 154.7 455.8 153.9 458.7 152.8 459.7 152.8 467.5 154.7 478.2 156.3 486.1 156.4 494.8 156.1 507.5 153.1 518.3 150.0 531.0 145.7 545.6 140.2 556.4 135.1 574.9 123.5 578.8 122.1 582.7 122.8 587.6 125.1 596.4 130.9 605.2 138.1 617.9 146.8 626.7 152.3 634.5 156.3 666.7 160.4 683.3 162.0" stroke="#efb059" stroke-width="0.85"/><path d="M410.9 161.0 420.6 161.4 422.6 161.0 426.5 160.8 437.2 161.0 452.8 159.9 459.7 158.5 467.5 160.2 478.2 161.4 494.8 161.3 507.5 158.8 518.3 156.2 531.0 152.7 545.6 148.2 557.4 143.6 574.9 134.7 578.8 133.6 582.7 134.1 587.6 136.0 596.4 140.6 605.2 146.4 618.9 154.2 626.7 158.1 634.5 161.4 641.3 161.0 651.1 161.1 683.3 163.0" stroke="#efac58" stroke-width="0.85"/><path d="M410.9 162.2 515.4 162.3 579.8 163.8 636.5 162.4 683.3 162.2" stroke="#e8b086" stroke-width="0.6"/><path d="M410.9 162.1 421.6 162.2 432.3 161.6 447.0 162.0 459.7 160.5 475.3 161.7 490.9 160.7 505.6 160.9 520.2 159.6 535.9 158.8 544.7 156.8 552.5 154.2 558.3 151.8 564.2 148.6 575.9 140.0 578.8 138.7 581.8 138.3 584.7 138.9 587.6 140.4 598.4 148.1 604.2 151.3 615.0 155.6 622.8 157.9 628.6 158.8 640.4 159.3 654.0 160.8 669.7 160.6 683.3 161.6" stroke="#f0a55a" stroke-width="0.7"/><path d="M410.9 163.2 427.5 162.4 442.1 163.0 451.9 162.2 465.5 162.2 472.4 162.7 480.2 162.2 502.7 162.2 529.0 162.5 580.8 163.8 640.4 162.4 674.6 162.2 683.3 162.5" stroke="#e5ad8c" stroke-width="0.6"/><path d="M450.9 162.2 458.7 161.4 466.5 162.2 480.2 162.2 488.0 161.8 501.7 162.2 516.3 161.1 529.0 161.0 534.9 160.6 551.5 157.2 558.3 155.3 564.2 152.5 573.0 146.7 575.9 145.1 578.8 144.0 581.8 143.7 584.7 144.1 587.6 145.2 599.3 151.4 608.1 155.3 615.0 157.8 619.9 159.1 624.7 159.8 636.5 160.3 649.2 161.7 665.8 161.5 675.5 162.2" stroke="#f0a45c" stroke-width="0.7"/><path d="M410.9 164.0 423.5 163.3 440.2 163.8 456.8 162.5 470.4 163.5 483.1 162.8 498.8 163.2 512.4 162.3 577.9 163.8 641.3 162.4 649.2 162.7 660.9 162.4 675.5 163.3 683.3 163.1" stroke="#e3aa91" stroke-width="0.6"/><path d="M511.4 162.3 529.0 162.4 553.4 159.2 557.4 158.1 561.3 156.6 574.9 149.6 578.8 148.4 581.8 148.1 584.7 148.3 588.6 149.4 607.2 157.2 615.0 159.7 620.8 160.6 632.6 161.3 642.3 162.3" stroke="#f0a35f" stroke-width="0.7"/><path d="M410.9 164.5 419.6 164.1 435.3 164.7 455.8 163.6 467.5 164.1 479.2 163.7 493.9 164.2 508.5 163.3 524.1 163.7 534.9 162.7 575.9 163.8 592.5 163.7 631.6 162.5 643.3 163.5 657.0 163.2 672.6 164.2 683.3 163.7" stroke="#e1a897" stroke-width="0.6"/><path d="M533.9 162.6 547.6 161.8 553.4 161.0 559.3 159.3 574.9 153.0 578.8 152.0 582.7 151.5 586.7 151.8 591.5 153.0 606.2 158.9 612.0 160.7 617.9 161.5 632.6 162.5" stroke="#f0a262" stroke-width="0.7"/><path d="M410.9 165.0 416.7 164.9 430.4 165.5 444.1 164.8 474.3 164.6 489.0 165.1 503.6 164.3 520.2 164.7 532.9 163.8 544.7 163.6 549.5 163.1 582.7 163.8 621.8 162.8 638.4 164.4 653.1 164.1 668.7 165.0 683.3 164.5" stroke="#dfa59d" stroke-width="0.6"/><path d="M548.6 163.1 551.5 162.8 556.4 161.6 577.9 155.0 581.8 154.3 584.7 154.1 587.6 154.3 591.5 155.2 603.3 159.8 608.1 161.2 613.0 162.1 621.8 162.8" stroke="#f1a264" stroke-width="0.7"/><path d="M410.9 165.7 425.5 166.3 438.2 165.7 450.9 165.8 462.6 165.2 484.1 166.0 499.7 165.2 515.4 165.7 529.0 164.9 543.7 164.9 554.4 163.3 581.8 163.8 613.0 163.1 633.5 165.1 649.2 164.9 663.8 165.7 676.5 165.3 683.3 165.5" stroke="#dda2a3" stroke-width="0.6"/><path d="M553.4 163.3 567.1 160.4 579.8 156.7 584.7 156.1 587.6 156.3 590.6 157.0 604.2 161.7 613.0 163.0" stroke="#f1a167" stroke-width="0.7"/><path d="M410.9 166.6 420.6 167.0 435.3 166.4 448.9 166.8 461.6 165.8 480.2 166.8 494.8 166.1 509.5 166.6 525.1 165.9 538.8 166.1 545.6 165.6 560.3 163.5 582.7 163.8 606.2 163.3 629.6 165.9 644.3 165.7 659.9 166.5 674.6 166.1 683.3 166.6" stroke="#d89ea6" stroke-width="0.6"/><path d="M559.3 163.5 566.1 162.4 578.8 158.6 583.7 158.0 588.6 158.5 600.3 162.1 607.2 163.2" stroke="#f1a06a" stroke-width="0.7"/><path d="M410.9 167.6 418.7 167.8 432.3 167.2 447.0 167.7 459.7 166.5 475.3 167.6 490.9 166.9 505.6 167.4 521.2 166.8 535.9 167.2 559.3 165.1 567.1 163.7 583.7 163.8 601.3 163.4 618.9 166.0 624.7 166.6 640.4 166.5 655.0 167.3 670.6 166.9 683.3 167.5" stroke="#d49aa8" stroke-width="0.6"/><path d="M566.1 163.7 568.1 163.4 577.9 160.4 582.7 159.8 587.6 160.2 598.4 162.8 602.3 163.4" stroke="#f1a06c" stroke-width="0.7"/><path d="M410.9 168.6 427.5 168.0 444.1 168.5 458.7 167.3 472.4 168.3 487.0 167.8 500.7 168.2 516.3 167.7 532.9 168.1 558.3 166.5 563.2 165.7 571.0 163.8 596.4 163.6 615.0 166.7 621.8 167.4 636.5 167.3 651.1 168.0 665.8 167.6 683.3 168.2" stroke="#ce96aa" stroke-width="0.6"/><path d="M570.0 163.8 577.9 161.9 582.7 161.5 587.6 161.9 597.4 163.6" stroke="#f19f71" stroke-width="0.7"/><path d="M410.9 169.3 423.5 168.8 440.2 169.2 456.8 168.2 469.5 169.0 483.1 168.6 498.8 169.0 512.4 168.5 529.0 168.9 541.7 168.2 555.4 167.9 561.3 167.1 575.9 163.8 590.6 163.7 598.4 164.8 612.0 167.4 617.9 168.0 631.6 168.1 646.2 168.8 660.9 168.4 675.5 169.0 683.3 168.8" stroke="#c992ad" stroke-width="0.6"/><path d="M574.9 163.8 582.7 163.2 591.5 163.7" stroke="#f09d76" stroke-width="0.7"/><path d="M410.9 169.8 419.6 169.5 435.3 170.0 455.8 169.2 466.5 169.6 479.2 169.4 492.9 169.8 509.5 169.3 523.2 169.8 537.8 169.2 550.5 169.2 557.4 168.6 575.9 165.3 585.7 164.5 593.5 165.0 608.1 167.9 615.0 168.6 627.7 168.8 642.3 169.6 656.0 169.2 671.6 169.8 683.3 169.4" stroke="#c48fb0" stroke-width="0.6"/><path d="M410.9 170.4 429.4 170.8 443.1 170.3 458.7 170.1 475.3 170.2 489.0 170.6 503.6 170.1 518.3 170.6 532.9 170.1 547.6 170.2 554.4 169.7 580.8 166.0 586.7 165.5 592.5 166.0 605.2 168.5 612.0 169.2 623.8 169.5 637.4 170.3 653.1 169.9 668.7 170.5 683.3 170.1" stroke="#c08cb0" stroke-width="0.6"/><path d="M410.9 171.1 425.5 171.5 438.2 171.1 450.9 171.2 462.6 170.8 484.1 171.4 499.7 170.9 514.4 171.3 529.0 170.9 544.7 171.2 568.1 169.0 581.8 166.8 586.7 166.5 591.5 167.0 606.2 169.6 630.6 171.0 649.2 170.7 663.8 171.3 676.5 170.9 683.3 171.0" stroke="#bb89b0" stroke-width="0.6"/><path d="M410.9 171.9 420.6 172.3 435.3 171.8 448.9 172.1 461.6 171.4 479.2 172.1 495.8 171.7 509.5 172.1 525.1 171.7 540.7 172.1 566.1 170.4 579.8 168.1 584.7 167.6 589.6 167.9 603.3 170.1 626.7 171.7 644.3 171.5 659.9 172.0 673.6 171.6 683.3 172.0" stroke="#b686b0" stroke-width="0.6"/><path d="M410.9 172.9 418.7 173.0 432.3 172.6 446.0 172.9 459.7 172.0 475.3 172.9 490.9 172.4 505.6 172.9 520.2 172.5 537.8 172.9 563.2 171.7 578.8 169.2 583.7 168.8 588.6 169.1 601.3 170.7 623.8 172.4 640.4 172.2 655.0 172.7 669.7 172.4 683.3 172.9" stroke="#b183b0" stroke-width="0.6"/><path d="M410.9 173.8 427.5 173.3 444.1 173.7 458.7 172.8 472.4 173.6 486.1 173.2 501.7 173.6 516.3 173.2 533.9 173.7 560.3 172.9 576.9 170.5 583.7 170.1 620.8 173.2 636.5 173.0 651.1 173.5 665.8 173.1 683.3 173.6" stroke="#ac80b0" stroke-width="0.6"/><path d="M410.9 174.5 423.5 174.1 440.2 174.5 456.8 173.7 470.4 174.3 482.1 174.0 497.8 174.4 513.4 174.0 527.1 174.4 541.7 174.0 554.4 174.1 561.3 173.6 575.9 171.7 584.7 171.3 596.4 171.8 612.0 173.5 617.9 173.9 631.6 173.8 646.2 174.2 660.9 173.9 675.5 174.3 683.3 174.2" stroke="#a87db0" stroke-width="0.6"/><path d="M410.9 175.1 419.6 174.9 435.3 175.2 455.8 174.6 492.9 175.1 507.5 174.8 523.2 175.2 537.8 174.8 551.5 175.0 557.4 174.7 576.9 172.8 588.6 172.2 595.4 172.6 608.1 174.1 615.0 174.5 627.7 174.5 642.3 175.0 656.0 174.7 671.6 175.1 683.3 174.8" stroke="#a37baf" stroke-width="0.6"/><path d="M410.9 175.7 429.4 176.0 444.1 175.6 474.3 175.5 489.0 175.9 503.6 175.5 518.3 175.9 532.9 175.6 548.6 175.9 588.6 173.1 612.0 175.2 637.4 175.7 652.1 175.4 667.7 175.8 683.3 175.5" stroke="#9f78ae" stroke-width="0.6"/><path d="M410.9 176.4 425.5 176.7 463.6 176.2 484.1 176.6 499.7 176.3 513.4 176.7 529.0 176.4 544.7 176.7 569.1 175.5 582.7 174.2 587.6 174.0 606.2 175.7 631.6 176.5 648.2 176.2 662.8 176.6 683.3 176.4" stroke="#9a76ac" stroke-width="0.6"/><path d="M410.9 177.2 420.6 177.5 435.3 177.1 448.9 177.3 461.6 176.8 479.2 177.4 495.8 177.1 509.5 177.4 525.1 177.1 541.7 177.5 567.1 176.6 585.7 175.0 603.3 176.3 627.7 177.2 644.3 177.0 657.9 177.3 673.6 177.0 683.3 177.3" stroke="#9673ab" stroke-width="0.6"/><path d="M410.9 178.1 432.3 177.9 446.0 178.2 459.7 177.5 475.3 178.1 490.9 177.8 505.6 178.1 521.2 177.9 537.8 178.2 564.2 177.7 578.8 176.3 584.7 176.0 623.8 177.9 640.4 177.7 655.0 178.1 669.7 177.8 683.3 178.1" stroke="#9270aa" stroke-width="0.6"/><path d="M410.9 178.9 427.5 178.7 444.1 178.9 458.7 178.3 472.4 178.9 487.0 178.6 501.7 178.9 517.3 178.6 532.0 179.0 557.4 178.8 583.7 177.1 620.8 178.7 635.5 178.5 651.1 178.8 665.8 178.5 683.3 178.8" stroke="#8f6da9" stroke-width="0.6"/><path d="M410.9 179.7 423.5 179.4 440.2 179.7 456.8 179.2 469.5 179.6 483.1 179.4 496.8 179.6 511.4 179.4 527.1 179.7 555.4 179.6 575.9 178.4 587.6 178.2 598.4 178.4 617.9 179.4 683.3 179.5" stroke="#8a6aa8" stroke-width="0.6"/><path d="M410.9 180.3 434.3 180.4 455.8 180.0 551.5 180.5 590.6 179.0 614.0 180.1 642.3 180.3 657.9 180.1 671.6 180.3 683.3 180.1" stroke="#8768a7" stroke-width="0.6"/><path d="M410.9 181.0 429.4 181.2 473.4 180.9 489.0 181.1 503.6 180.9 548.6 181.3 589.6 179.8 611.1 180.8 637.4 181.1 683.3 180.9" stroke="#8466a6" stroke-width="0.6"/><path d="M410.9 181.7 425.5 181.9 463.6 181.6 545.6 182.0 571.0 181.5 587.6 180.7 605.2 181.5 631.6 181.8 683.3 181.7" stroke="#8163a4" stroke-width="0.6"/><path d="M410.9 182.5 448.9 182.6 461.6 182.3 479.2 182.6 495.8 182.4 541.7 182.7 568.1 182.4 586.7 181.7 627.7 182.6 683.3 182.5" stroke="#7e61a3" stroke-width="0.6"/><path d="M410.9 183.3 446.0 183.3 459.7 183.0 475.3 183.3 537.8 183.5 564.2 183.3 584.7 182.6 623.8 183.3 683.3 183.3" stroke="#7b60a1" stroke-width="0.6"/><path d="M410.9 184.1 443.1 184.1 458.7 183.8 472.4 184.1 559.3 184.2 583.7 183.6 620.8 184.1 683.3 184.1" stroke="#785ea0" stroke-width="0.6"/><path d="M410.9 184.8 456.8 184.6 556.4 185.0 593.5 184.4 616.9 184.8 683.3 184.8" stroke="#765b9e" stroke-width="0.6"/><path d="M410.9 185.5 552.5 185.7 592.5 185.2 613.0 185.6 683.3 185.5" stroke="#73599c" stroke-width="0.6"/><path d="M410.9 186.2 548.6 186.4 590.6 186.1 610.1 186.3 683.3 186.2" stroke="#70579a" stroke-width="0.6"/><path d="M410.9 187.0 683.3 187.0" stroke="#6d5598" stroke-width="0.6"/><path d="M410.9 187.8 683.3 187.8" stroke="#6b5295" stroke-width="0.6"/><path d="M410.9 188.5 683.3 188.5" stroke="#685093" stroke-width="0.6"/><path d="M410.9 189.3 683.3 189.3" stroke="#654e91" stroke-width="0.6"/><path d="M410.9 190.0 683.3 190.0" stroke="#634c90" stroke-width="0.6"/></g><rect x="411" y="18" width="272" height="172" fill="none" stroke="#bbb" stroke-width=".8"/><text x="395.3" y="11.6" font-size="13.6" fill="#111" font-weight="bold">c</text><text x="415.6" y="12.9" font-size="10.6" fill="#222">q-EELS of WSe<tspan font-size="7" dy="2">2</tspan><tspan dy="-2"> in Γ</tspan></text><text x="435" y="200.9" font-size="10.7" text-anchor="middle">5</text><text x="475.25" y="200.9" font-size="10.7" text-anchor="middle">10</text><text x="515.5" y="200.9" font-size="10.7" text-anchor="middle">15</text><text x="555.75" y="200.9" font-size="10.7" text-anchor="middle">20</text><text x="596" y="200.9" font-size="10.7" text-anchor="middle">25</text><text x="636.25" y="200.9" font-size="10.7" text-anchor="middle">30</text><text x="676.5" y="200.9" font-size="10.7" text-anchor="middle">35</text><text x="545.5" y="210.3" font-size="10.7" text-anchor="middle">Electron energy-loss (eV)</text><text x="405" y="95.8" font-size="10.75" fill="#222" text-anchor="middle" transform="rotate(-90 405 95.8)" dy="3.7">Intensity (au)</text><text x="432.5" y="126.9" font-size="10.5" text-anchor="middle" fill="#f01c26" font-style="italic">Excitons</text><text x="461.3" y="107" font-size="10" text-anchor="middle">π</text><path d="M457 111h8.4l-4.2 7.2z" fill="#111"/><text x="599" y="30" font-size="10" text-anchor="middle">π + σ</text><path d="M579 22L585.5 160" stroke="#7430c8" stroke-width="1.8" stroke-dasharray="4 2.4"/><path d="M581.5 159L589.5 159L586 167z" fill="#7430c8"/><text x="611" y="180.5" font-size="10.4" text-anchor="middle" fill="#f4f0ff">π + σ at 25.2eV</text><path d="M674.6 28.5V174" stroke="#111" stroke-width="1"/><path d="M671.1 173h7l-3.5 7z" fill="#111"/><text x="666.5" y="97" font-size="10.8" fill="#222" text-anchor="middle" transform="rotate(-90 666.5 97)" dy="3.7">From |q<tspan font-size="7" dy="2">1</tspan><tspan dy="-2">|=0.01 to |q</tspan><tspan font-size="7" dy="2">45</tspan><tspan dy="-2">|=0.5</tspan></text><g clip-path="url(#clf)" fill="none"><path d="M410.9 390.3 515.4 390.4 579.8 391.7 636.5 390.5 683.3 390.3 L684 415.3 L410 415.3 Z" fill="#ee9669"/><path d="M410.9 391.0 423.5 390.3 438.2 390.9 448.0 390.3 504.6 390.3 581.8 391.7 636.5 390.5 683.3 390.3 L684 415.3 L410 415.3 Z" fill="#ea8f6e"/><path d="M410.9 391.7 419.6 391.2 435.3 391.8 455.8 390.7 467.5 391.2 479.2 390.8 492.9 391.3 507.5 390.4 577.9 391.7 640.4 390.5 657.9 390.3 672.6 391.3 683.3 390.9 L684 415.3 L410 415.3 Z" fill="#e68874"/><path d="M410.9 392.2 430.4 392.7 444.1 392.0 474.3 391.8 489.0 392.3 503.6 391.5 520.2 391.8 533.9 390.7 575.9 391.7 628.6 390.6 637.4 391.5 653.1 391.3 667.7 392.1 683.3 391.7 L684 415.3 L410 415.3 Z" fill="#e2827a"/><path d="M410.9 393.0 425.5 393.6 463.6 392.5 485.1 393.2 499.7 392.5 516.3 392.9 529.0 392.0 542.7 391.9 549.5 391.1 581.8 391.7 618.9 390.9 634.5 392.4 649.2 392.2 663.8 393.0 683.3 392.8 L684 415.3 L410 415.3 Z" fill="#de7b80"/><path d="M410.9 394.0 420.6 394.4 435.3 393.8 448.9 394.1 461.6 393.1 479.2 394.1 495.8 393.4 510.5 393.9 525.1 393.1 540.7 393.2 554.4 391.3 581.8 391.7 610.1 391.1 629.6 393.3 644.3 393.1 657.9 393.8 673.6 393.4 683.3 393.9 L684 415.3 L410 415.3 Z" fill="#da7486"/><path d="M410.9 395.0 432.3 394.6 447.0 395.1 459.7 393.9 475.3 395.0 490.9 394.3 505.6 394.8 521.2 394.1 534.9 394.4 563.2 391.6 602.3 391.4 625.7 394.1 640.4 394.0 655.0 394.7 670.6 394.3 683.3 394.9 L684 415.3 L410 415.3 Z" fill="#d76e8c"/><path d="M410.9 396.0 427.5 395.5 444.1 395.9 458.7 394.8 472.4 395.8 487.0 395.2 500.7 395.7 516.3 395.1 532.0 395.5 558.3 393.7 568.1 391.7 596.4 391.5 620.8 394.8 636.5 394.8 651.1 395.5 665.8 395.1 683.3 395.7 L684 415.3 L410 415.3 Z" fill="#ce698d"/><path d="M410.9 396.8 423.5 396.3 440.2 396.7 456.8 395.7 469.5 396.5 483.1 396.1 498.8 396.5 512.4 396.0 529.0 396.4 556.4 395.1 573.0 391.7 590.6 391.6 617.9 395.6 646.2 396.4 660.9 396.0 683.3 396.4 L684 415.3 L410 415.3 Z" fill="#c6648f"/><path d="M410.9 397.4 435.3 397.6 455.8 396.8 523.2 397.3 549.5 396.6 557.4 395.9 574.0 393.1 583.7 392.4 592.5 393.0 608.1 395.7 615.0 396.4 642.3 397.2 683.3 397.0 L684 415.3 L410 415.3 Z" fill="#be6090"/><path d="M410.9 398.0 429.4 398.4 458.7 397.8 489.0 398.2 503.6 397.7 518.3 398.2 546.6 397.7 585.7 393.6 591.5 394.0 605.2 396.5 612.0 397.1 637.4 398.0 683.3 397.8 L684 415.3 L410 415.3 Z" fill="#b55b92"/><path d="M410.9 398.8 425.5 399.2 462.6 398.5 484.1 399.1 499.7 398.6 514.4 399.0 529.0 398.5 543.7 398.8 584.7 394.7 590.6 395.1 605.2 397.5 630.6 398.7 683.3 398.7 L684 415.3 L410 415.3 Z" fill="#ad5793"/><path d="M410.9 399.7 448.9 399.9 461.6 399.2 479.2 399.9 495.8 399.4 540.7 399.7 565.2 398.1 583.7 395.8 602.3 398.1 626.7 399.5 683.3 399.7 L684 415.3 L410 415.3 Z" fill="#a55295"/><path d="M410.9 400.7 446.0 400.7 459.7 399.9 475.3 400.7 490.9 400.3 536.8 400.6 563.2 399.4 582.7 397.1 599.3 398.8 623.8 400.3 669.7 400.2 683.3 400.7 L684 415.3 L410 415.3 Z" fill="#9c4e95"/><path d="M410.9 401.6 427.5 401.2 444.1 401.6 458.7 400.8 472.4 401.5 516.3 401.1 532.9 401.5 560.3 400.6 581.8 398.4 619.9 401.1 683.3 401.5 L684 415.3 L410 415.3 Z" fill="#944a93"/><path d="M410.9 402.4 440.2 402.4 456.8 401.7 470.4 402.2 553.4 401.9 581.8 399.7 616.9 401.9 683.3 402.1 L684 415.3 L410 415.3 Z" fill="#8c4692"/><path d="M410.9 403.1 550.5 402.9 585.7 400.8 614.0 402.7 683.3 402.8 L684 415.3 L410 415.3 Z" fill="#834190"/><path d="M410.9 403.7 547.6 403.8 586.7 401.8 611.1 403.4 683.3 403.6 L684 415.3 L410 415.3 Z" fill="#7b3d8e"/><path d="M410.9 404.5 544.7 404.7 585.7 402.8 605.2 404.1 631.6 404.6 683.3 404.5 L684 415.3 L410 415.3 Z" fill="#73398d"/><path d="M410.9 405.4 461.6 405.1 540.7 405.6 566.1 404.9 584.7 403.8 602.3 404.8 627.7 405.4 683.3 405.4 L684 415.3 L410 415.3 Z" fill="#6b358a"/><path d="M410.9 406.3 446.0 406.3 459.7 405.9 475.3 406.3 536.8 406.4 563.2 406.0 582.7 404.9 623.8 406.2 683.3 406.3 L684 415.3 L410 415.3 Z" fill="#653287"/><path d="M410.9 407.2 458.7 406.7 532.9 407.2 560.3 407.0 580.8 406.0 619.9 407.1 683.3 407.1 L684 415.3 L410 415.3 Z" fill="#5f2f84"/><path d="M410.9 408.0 554.4 407.9 580.8 407.1 616.9 407.9 683.3 407.8 L684 415.3 L410 415.3 Z" fill="#592c81"/><path d="M410.9 408.7 551.5 408.8 588.6 408.1 613.0 408.7 683.3 408.6 L684 415.3 L410 415.3 Z" fill="#53297e"/><path d="M410.9 409.4 548.6 409.6 588.6 409.0 610.1 409.5 683.3 409.4 L684 415.3 L410 415.3 Z" fill="#4d257a"/><path d="M410.9 410.2 683.3 410.2 L684 415.3 L410 415.3 Z" fill="#472277"/><path d="M410.9 411.1 683.3 411.1 L684 415.3 L410 415.3 Z" fill="#432074"/><path d="M410.9 411.9 683.3 411.9 L684 415.3 L410 415.3 Z" fill="#3f1d70"/><path d="M410.9 412.7 683.3 412.7 L684 415.3 L410 415.3 Z" fill="#3b1b6d"/><path d="M410.9 413.5 683.3 413.5 L684 415.3 L410 415.3 Z" fill="#371869"/><path d="M410.9 414.3 683.3 414.3 L684 415.3 L410 415.3 Z" fill="#341666"/><path d="M410.9 364.3 411.8 360.1 412.8 358.0 413.8 358.5 414.8 361.6 415.7 362.1 416.7 360.7 418.7 357.1 420.6 355.5 422.6 354.4 426.5 353.1 428.4 352.8 434.3 354.2 436.2 354.2 449.9 350.7 453.8 349.4 455.8 348.4 456.8 347.4 458.7 344.5 459.7 344.4 461.6 345.3 463.6 346.6 466.5 349.7 469.5 351.7 479.2 356.2 482.1 357.2 487.0 357.0 492.9 355.9 496.8 353.9 502.7 350.1 509.5 344.4 532.0 321.9 541.7 310.8 545.6 306.0 549.5 300.8 552.5 296.5 555.4 291.9 559.3 284.7 565.2 272.3 571.0 258.2 576.9 244.9 577.9 243.0 578.8 242.9 580.8 244.5 582.7 246.9 584.7 250.2 587.6 256.0 596.4 276.3 598.4 281.5 603.3 295.3 605.2 300.1 609.1 308.9 616.0 323.4 618.9 329.1 621.8 334.0 624.7 338.5 628.6 343.9 633.5 350.2 638.4 355.6 648.2 364.9 653.1 368.8 667.7 377.5 676.5 380.8 683.3 382.4" stroke="#ecc05a" stroke-width="0.85"/><path d="M410.9 369.8 411.8 366.7 412.8 364.9 413.8 365.3 414.8 367.7 415.7 368.2 416.7 367.1 418.7 364.0 420.6 362.5 422.6 361.5 426.5 360.2 428.4 360.0 434.3 361.3 436.2 361.3 449.9 357.9 453.8 356.7 455.8 355.8 456.8 354.8 458.7 352.1 459.7 352.0 461.6 352.8 463.6 354.1 466.5 357.1 469.5 358.9 479.2 363.2 482.1 364.1 487.0 363.9 492.9 362.8 496.8 361.0 502.7 357.4 509.5 352.0 532.0 330.4 541.7 319.7 545.6 315.0 549.5 309.8 552.5 305.7 555.4 301.1 559.3 294.0 565.2 281.7 571.0 267.7 576.9 254.3 577.9 252.5 578.8 252.3 580.8 254.0 582.7 256.3 584.7 259.6 587.6 265.4 596.4 285.7 598.4 290.8 603.3 304.4 605.2 309.2 609.1 317.8 616.0 331.8 618.9 337.3 621.8 342.1 625.7 347.7 629.6 352.8 635.5 359.6 641.3 365.3 647.2 369.6 652.1 372.7 667.7 380.0 676.5 382.7 683.3 384.0" stroke="#ecba56" stroke-width="0.85"/><path d="M410.9 373.6 411.8 371.0 412.8 369.4 413.8 369.9 414.8 371.9 415.7 372.2 416.7 371.4 418.7 368.6 420.6 367.2 422.6 366.3 426.5 365.1 428.4 364.8 434.3 366.1 436.2 366.1 449.9 362.9 453.8 361.8 455.8 360.9 456.8 360.0 458.7 357.4 459.7 357.3 461.6 358.1 463.6 359.3 466.5 362.1 469.5 363.8 479.2 367.8 482.1 368.7 487.0 368.5 492.9 367.5 496.8 365.8 502.7 362.5 509.5 357.4 532.0 337.1 541.7 326.9 545.6 322.5 549.5 317.6 552.5 313.7 555.4 309.4 559.3 302.6 565.2 290.9 571.0 277.6 576.9 264.9 577.9 263.1 578.8 263.0 580.8 264.5 582.7 266.8 584.7 269.9 587.6 275.5 596.4 294.8 598.4 299.6 603.3 312.5 605.2 317.0 609.1 325.2 616.0 338.4 618.9 343.6 621.8 348.1 625.7 353.3 629.6 358.1 635.5 364.5 641.3 369.8 642.3 370.6 651.1 375.5 667.7 382.2 676.5 384.4 683.3 385.6" stroke="#edb552" stroke-width="0.85"/><path d="M410.9 377.2 411.8 375.4 412.8 374.0 413.8 374.4 414.8 376.0 415.7 376.2 416.7 375.6 418.7 373.2 419.6 372.5 421.6 371.5 424.5 370.5 428.4 369.8 434.3 371.0 436.2 370.9 449.9 368.0 455.8 366.2 456.8 365.4 458.7 363.0 459.7 362.9 461.6 363.6 463.6 364.7 466.5 367.3 469.5 368.9 479.2 372.5 482.1 373.3 487.0 373.2 492.9 372.3 496.8 370.7 503.6 367.0 509.5 363.0 532.0 344.2 542.7 333.7 546.6 329.5 550.5 324.9 555.4 318.4 559.3 312.1 565.2 301.1 571.0 288.7 576.9 276.8 577.9 275.1 578.8 275.0 580.8 276.4 582.7 278.5 584.7 281.5 587.6 286.7 596.4 304.8 598.4 309.2 602.3 319.0 605.2 325.5 609.1 333.1 616.0 345.4 618.9 350.2 621.8 354.4 625.7 359.2 630.6 364.6 636.5 370.4 642.3 375.1 652.1 379.0 666.7 383.5 675.5 385.4 683.3 386.5" stroke="#edb04e" stroke-width="0.85"/><path d="M410.9 380.9 412.8 378.7 413.8 379.0 414.8 380.1 415.7 380.3 416.7 379.9 417.7 379.1 418.7 378.0 420.6 376.8 426.5 375.1 429.4 375.0 434.3 376.0 436.2 375.9 452.8 372.8 455.8 371.8 458.7 369.0 459.7 368.9 463.6 370.5 466.5 372.7 468.5 373.7 479.2 377.4 482.1 378.1 487.0 377.9 492.9 377.1 496.8 375.7 502.7 373.0 509.5 368.9 531.0 353.2 541.7 344.2 549.5 336.6 555.4 329.9 559.3 324.4 565.2 314.8 571.0 303.9 576.9 293.5 577.9 292.0 578.8 291.9 580.8 293.2 582.7 295.0 584.7 297.6 587.6 302.2 596.4 318.0 598.4 321.9 602.3 330.4 605.2 336.1 609.1 342.8 616.0 353.5 618.9 357.7 622.8 362.5 626.7 366.6 631.6 371.3 636.5 375.5 642.3 379.6 652.1 382.0 667.7 385.4 683.3 387.5" stroke="#eeaa4b" stroke-width="0.85"/><path d="M410.9 384.6 412.8 383.3 414.8 384.3 416.7 384.2 417.7 383.7 418.7 382.7 420.6 381.8 426.5 380.3 429.4 380.2 434.3 381.0 436.2 381.0 451.9 378.5 455.8 377.5 458.7 375.1 459.7 375.0 463.6 376.4 466.5 378.3 468.5 379.1 482.1 382.8 487.0 382.7 492.9 382.0 502.7 378.5 509.5 375.1 532.0 361.2 541.7 354.3 549.5 348.0 555.4 342.3 559.3 337.7 565.2 329.8 571.0 320.7 576.9 312.1 577.9 310.9 578.8 310.8 580.8 311.8 582.7 313.4 584.7 315.5 587.6 319.3 596.4 332.4 603.3 344.5 605.2 347.5 610.1 354.4 616.9 363.3 619.9 366.7 623.8 370.6 632.6 377.8 637.4 381.2 642.3 384.1 669.7 387.5 683.3 388.7" stroke="#efa448" stroke-width="0.85"/><path d="M410.9 387.4 411.8 387.4 412.8 386.8 414.8 387.4 416.7 387.4 417.7 387.2 418.7 386.4 420.6 385.6 426.5 384.4 429.4 384.3 434.3 385.0 436.2 385.0 450.9 383.1 455.8 382.2 458.7 380.3 459.7 380.2 463.6 381.3 466.5 382.8 468.5 383.5 482.1 386.4 487.0 386.4 492.9 385.8 501.7 383.3 509.5 380.2 531.0 369.8 541.7 363.9 549.5 359.0 555.4 354.7 559.3 351.2 565.2 345.2 576.9 332.0 577.9 331.1 578.8 331.0 582.7 332.9 587.6 337.3 596.4 347.2 603.3 356.4 605.2 358.7 610.1 364.0 617.9 371.9 624.7 377.3 634.5 383.6 642.3 387.5 656.0 387.8 683.3 389.7" stroke="#ef9e46" stroke-width="0.85"/><path d="M410.9 389.2 411.8 389.5 412.8 389.1 417.7 389.3 418.7 388.7 420.6 388.1 427.5 387.1 436.2 387.6 449.9 386.2 455.8 385.4 458.7 383.9 459.7 383.9 463.6 384.7 468.5 386.4 482.1 388.7 491.9 388.3 499.7 386.8 508.5 384.2 531.0 376.0 548.6 368.7 554.4 365.8 558.3 363.5 564.2 359.4 576.9 349.8 577.9 349.2 578.8 349.2 582.7 350.4 587.6 353.4 596.4 360.0 606.2 368.8 618.9 378.2 627.7 383.2 638.4 388.1 642.3 389.5 649.2 389.1 657.0 389.1 683.3 390.3" stroke="#f09646" stroke-width="0.85"/><path d="M410.9 390.2 513.4 390.1 579.8 391.4 636.5 390.2 683.3 390.0" stroke="#e49064" stroke-width="0.6"/><path d="M416.7 390.0 427.5 389.4 444.1 389.9 458.7 388.3 472.4 389.5 487.0 388.6 501.7 388.9 516.3 387.5 528.1 387.3 532.9 386.9 538.8 385.7 548.6 383.1 557.4 380.1 563.2 376.7 572.0 369.8 574.9 367.8 577.9 366.4 580.8 365.9 583.7 366.3 586.7 367.6 598.4 375.3 607.2 380.1 614.0 383.1 619.9 385.0 624.7 385.9 636.5 386.7 650.1 388.3 665.8 388.3 677.5 389.2 683.3 389.4" stroke="#f08c46" stroke-width="0.7"/><path d="M410.9 391.0 423.5 390.3 439.2 390.9 450.9 390.0 463.6 390.0 470.4 390.5 478.2 390.0 500.7 390.0 528.1 390.3 581.8 391.4 638.4 390.2 683.3 390.1" stroke="#e08969" stroke-width="0.6"/><path d="M449.9 390.0 456.8 389.5 463.6 390.0 484.1 389.7 500.7 390.0 511.4 389.1 525.1 389.1 532.0 388.6 549.5 385.7 555.4 384.3 561.3 381.8 574.0 374.2 577.9 372.7 580.8 372.3 583.7 372.6 587.6 373.8 607.2 383.2 612.0 385.2 616.9 386.5 620.8 387.1 632.6 388.0 645.3 389.4 660.9 389.3 670.6 390.0" stroke="#ef884a" stroke-width="0.7"/><path d="M410.9 391.7 419.6 391.2 435.3 391.8 455.8 390.7 467.5 391.2 479.2 390.8 492.9 391.3 509.5 390.3 521.2 390.6 528.1 390.3 577.9 391.4 637.4 390.2 644.3 390.6 657.9 390.3 672.6 391.3 683.3 390.9" stroke="#dc826f" stroke-width="0.6"/><path d="M527.1 390.3 547.6 388.3 552.5 387.5 559.3 385.3 574.0 378.7 577.9 377.5 581.8 377.1 585.7 377.4 589.6 378.4 606.2 385.5 612.0 387.4 616.9 388.2 638.4 390.2" stroke="#ee854e" stroke-width="0.7"/><path d="M410.9 392.2 416.7 392.1 430.4 392.7 444.1 392.0 474.3 391.8 489.0 392.3 503.6 391.5 520.2 391.8 538.8 390.5 580.8 391.4 626.7 390.4 638.4 391.5 653.1 391.3 668.7 392.2 683.3 391.7" stroke="#d87c75" stroke-width="0.6"/><path d="M538.8 390.5 545.6 390.3 551.5 389.4 557.4 387.8 575.9 381.7 579.8 380.8 583.7 380.5 586.7 380.8 590.6 381.7 603.3 386.8 609.1 388.5 614.0 389.2 627.7 390.4" stroke="#ee8252" stroke-width="0.7"/><path d="M410.9 393.0 425.5 393.6 438.2 392.9 450.9 393.1 462.6 392.5 484.1 393.2 499.7 392.5 514.4 392.9 529.0 392.0 542.7 391.9 550.5 390.9 581.8 391.4 616.0 390.6 634.5 392.4 649.2 392.2 663.8 393.0 676.5 392.6 683.3 392.8" stroke="#d5767a" stroke-width="0.6"/><path d="M550.5 390.8 566.1 387.2 577.9 383.9 583.7 383.1 586.7 383.3 589.6 383.9 600.3 387.8 605.2 389.2 610.1 390.0 616.9 390.6" stroke="#ed7e56" stroke-width="0.7"/><path d="M410.9 394.0 420.6 394.4 435.3 393.8 448.9 394.1 461.6 393.1 479.2 394.1 495.8 393.4 510.5 393.9 525.1 393.1 540.7 393.2 556.4 391.0 580.8 391.4 607.2 390.9 629.6 393.3 644.3 393.1 657.9 393.8 673.6 393.4 683.3 393.9" stroke="#d16f80" stroke-width="0.6"/><path d="M555.4 391.0 565.2 389.5 577.9 385.9 582.7 385.2 587.6 385.7 600.3 389.6 608.1 390.9" stroke="#ec7b5a" stroke-width="0.7"/><path d="M410.9 395.0 418.7 395.2 432.3 394.6 447.0 395.1 459.7 393.9 475.3 395.0 490.9 394.3 505.6 394.8 521.2 394.1 534.9 394.4 540.7 394.1 558.3 392.3 565.2 391.3 582.7 391.4 601.3 391.1 624.7 394.1 640.4 394.0 655.0 394.7 670.6 394.3 683.3 394.9" stroke="#ce6986" stroke-width="0.6"/><path d="M564.2 391.2 567.1 390.7 576.9 387.8 581.8 387.2 586.7 387.6 597.4 390.3 602.3 391.1" stroke="#ec785f" stroke-width="0.7"/><path d="M410.9 396.0 427.5 395.5 444.1 395.9 458.7 394.8 472.4 395.8 487.0 395.2 500.7 395.7 516.3 395.1 532.0 395.5 558.3 393.7 563.2 392.9 569.1 391.4 595.4 391.2 615.0 394.3 620.8 394.8 636.5 394.8 651.1 395.5 665.8 395.1 683.3 395.7" stroke="#c56487" stroke-width="0.6"/><path d="M569.1 391.3 575.9 389.6 580.8 389.1 585.7 389.4 596.4 391.2" stroke="#e97363" stroke-width="0.7"/><path d="M410.9 396.8 423.5 396.3 440.2 396.7 456.8 395.7 469.5 396.5 483.1 396.1 498.8 396.5 512.4 396.0 529.0 396.4 555.4 395.2 561.3 394.4 574.9 391.4 587.6 391.4 596.4 392.5 612.0 395.1 617.9 395.6 631.6 395.6 646.2 396.4 660.9 396.0 675.5 396.6 683.3 396.4" stroke="#be6089" stroke-width="0.6"/><path d="M574.0 391.4 580.8 390.9 588.6 391.4" stroke="#e66f67" stroke-width="0.7"/><path d="M410.9 397.4 419.6 397.1 435.3 397.6 455.8 396.8 467.5 397.2 479.2 397.0 493.9 397.4 508.5 396.9 523.2 397.3 537.8 396.6 549.5 396.6 557.4 395.9 574.0 393.1 583.7 392.4 592.5 393.0 608.1 395.7 615.0 396.4 627.7 396.5 642.3 397.2 656.0 396.8 671.6 397.4 683.3 397.0" stroke="#b65c8a" stroke-width="0.6"/><path d="M410.9 398.0 429.4 398.4 443.1 397.9 458.7 397.8 475.3 397.8 489.0 398.2 503.6 397.7 518.3 398.2 532.9 397.6 546.6 397.7 553.4 397.3 578.8 394.0 585.7 393.6 591.5 394.0 605.2 396.5 612.0 397.1 623.8 397.3 637.4 398.0 653.1 397.6 668.7 398.2 683.3 397.8" stroke="#ad578c" stroke-width="0.6"/><path d="M410.9 398.8 425.5 399.2 462.6 398.5 484.1 399.1 499.7 398.6 514.4 399.0 529.0 398.5 543.7 398.8 567.1 396.7 579.8 395.0 584.7 394.7 590.6 395.1 605.2 397.5 630.6 398.7 648.2 398.5 662.8 399.0 676.5 398.6 683.3 398.7" stroke="#a6538d" stroke-width="0.6"/><path d="M410.9 399.7 420.6 400.0 435.3 399.6 448.9 399.9 461.6 399.2 479.2 399.9 495.8 399.4 509.5 399.8 525.1 399.4 540.7 399.7 565.2 398.1 578.8 396.2 583.7 395.8 588.6 396.1 602.3 398.1 626.7 399.5 644.3 399.3 659.9 399.8 673.6 399.4 683.3 399.7" stroke="#9e4e8f" stroke-width="0.6"/><path d="M410.9 400.7 418.7 400.8 432.3 400.4 446.0 400.7 459.7 399.9 475.3 400.7 490.9 400.3 505.6 400.7 521.2 400.3 536.8 400.6 563.2 399.4 577.9 397.3 582.7 397.1 587.6 397.4 599.3 398.8 623.8 400.3 640.4 400.1 655.0 400.6 669.7 400.2 683.3 400.7" stroke="#954a8f" stroke-width="0.6"/><path d="M410.9 401.6 427.5 401.2 444.1 401.6 458.7 400.8 472.4 401.5 486.1 401.1 501.7 401.5 516.3 401.1 532.9 401.5 560.3 400.6 575.9 398.7 581.8 398.4 619.9 401.1 636.5 401.0 651.1 401.4 665.8 401.1 683.3 401.5" stroke="#8e478d" stroke-width="0.6"/><path d="M410.9 402.4 423.5 402.0 440.2 402.4 456.8 401.7 470.4 402.2 483.1 402.0 498.8 402.3 512.4 401.9 528.1 402.3 553.4 401.9 560.3 401.5 574.9 399.9 581.8 399.7 595.4 400.2 616.9 401.9 631.6 401.8 646.2 402.2 660.9 401.9 675.5 402.3 683.3 402.1" stroke="#86438c" stroke-width="0.6"/><path d="M410.9 403.1 419.6 402.9 435.3 403.2 455.8 402.7 492.9 403.1 507.5 402.8 523.2 403.1 537.8 402.8 550.5 402.9 574.0 401.2 585.7 400.8 594.5 401.1 614.0 402.7 627.7 402.6 642.3 403.0 656.0 402.7 671.6 403.1 683.3 402.8" stroke="#7d3e8a" stroke-width="0.6"/><path d="M410.9 403.7 429.4 404.0 458.7 403.6 489.0 403.9 503.6 403.6 518.3 403.9 532.9 403.6 547.6 403.8 586.7 401.8 611.1 403.4 637.4 403.8 652.1 403.6 667.7 403.9 683.3 403.6" stroke="#763a88" stroke-width="0.6"/><path d="M410.9 404.5 425.5 404.8 463.6 404.3 484.1 404.7 499.7 404.4 513.4 404.7 529.0 404.5 544.7 404.7 585.7 402.8 605.2 404.1 631.6 404.6 648.2 404.4 662.8 404.7 683.3 404.5" stroke="#6e3687" stroke-width="0.6"/><path d="M410.9 405.4 448.9 405.5 461.6 405.1 479.2 405.5 495.8 405.3 540.7 405.6 566.1 404.9 584.7 403.8 602.3 404.8 627.7 405.4 644.3 405.2 683.3 405.4" stroke="#663284" stroke-width="0.6"/><path d="M410.9 406.3 446.0 406.3 459.7 405.9 475.3 406.3 490.9 406.1 536.8 406.4 563.2 406.0 582.7 404.9 623.8 406.2 669.7 406.1 683.3 406.3" stroke="#603081" stroke-width="0.6"/><path d="M410.9 407.2 444.1 407.1 458.7 406.7 472.4 407.1 516.3 406.9 532.9 407.2 560.3 407.0 580.8 406.0 619.9 407.1 683.3 407.1" stroke="#5b2d7e" stroke-width="0.6"/><path d="M410.9 408.0 440.2 407.9 456.8 407.6 469.5 407.9 554.4 407.9 580.8 407.1 616.9 407.9 683.3 407.8" stroke="#552a7b" stroke-width="0.6"/><path d="M410.9 408.7 455.8 408.5 551.5 408.8 588.6 408.1 613.0 408.7 683.3 408.6" stroke="#4f2778" stroke-width="0.6"/><path d="M410.9 409.4 548.6 409.6 588.6 409.0 610.1 409.5 683.3 409.4" stroke="#492375" stroke-width="0.6"/><path d="M410.9 410.2 544.7 410.4 586.7 409.9 606.2 410.3 683.3 410.2" stroke="#442072" stroke-width="0.6"/><path d="M410.9 411.1 541.7 411.2 584.7 410.8 627.7 411.2 683.3 411.1" stroke="#401e6f" stroke-width="0.6"/><path d="M410.9 411.9 683.3 411.9" stroke="#3c1b6b" stroke-width="0.6"/><path d="M410.9 412.7 683.3 412.7" stroke="#381968" stroke-width="0.6"/><path d="M410.9 413.5 683.3 413.5" stroke="#341764" stroke-width="0.6"/><path d="M410.9 414.3 683.3 414.3" stroke="#311561" stroke-width="0.6"/></g><rect x="411" y="242.2" width="272" height="172.1" fill="none" stroke="#bbb" stroke-width=".8"/><text x="394.3" y="237.6" font-size="13.6" fill="#111" font-weight="bold">f</text><text x="415.6" y="236.5" font-size="10.6" fill="#222">q-EELS of WSe<tspan font-size="7" dy="2">2</tspan><tspan dy="-2"> in Γ</tspan></text><text x="435" y="426.6" font-size="10.7" text-anchor="middle">5</text><text x="475.25" y="426.6" font-size="10.7" text-anchor="middle">10</text><text x="515.5" y="426.6" font-size="10.7" text-anchor="middle">15</text><text x="555.75" y="426.6" font-size="10.7" text-anchor="middle">20</text><text x="596" y="426.6" font-size="10.7" text-anchor="middle">25</text><text x="636.25" y="426.6" font-size="10.7" text-anchor="middle">30</text><text x="676.5" y="426.6" font-size="10.7" text-anchor="middle">35</text><text x="541.5" y="442.1" font-size="10.7" text-anchor="middle">Electron energy-loss (eV)</text><text x="405" y="322.6" font-size="10.75" fill="#222" text-anchor="middle" transform="rotate(-90 405 322.6)" dy="3.7">Intensity (au)</text><text x="432.5" y="346.6" font-size="10.5" text-anchor="middle" fill="#f01c26" font-style="italic">Excitons</text><text x="461.3" y="326.6" font-size="10" text-anchor="middle">π</text><path d="M457 334.5h8.4l-4.2 7.2z" fill="#111"/><text x="599" y="255" font-size="10" text-anchor="middle">π + σ</text><path d="M579.5 246L585.5 385" stroke="#7430c8" stroke-width="1.8" stroke-dasharray="4 2.4"/><path d="M581.5 384L589.5 384L586 392z" fill="#7430c8"/><text x="621" y="405" font-size="10.4" text-anchor="middle" fill="#f4f0ff">π + σ at 24eV</text><path d="M675.2 255.5V401.5" stroke="#111" stroke-width="1"/><path d="M671.7 400.5h7l-3.5 7z" fill="#111"/><text x="666.5" y="330" font-size="10.6" fill="#222" text-anchor="middle" transform="rotate(-90 666.5 330)" dy="3.7">From |q<tspan font-size="7" dy="2">1</tspan><tspan dy="-2">|=0.012 to |q</tspan><tspan font-size="7" dy="2">39</tspan><tspan dy="-2">|=0.5</tspan></text></svg>
</div></body></html>
